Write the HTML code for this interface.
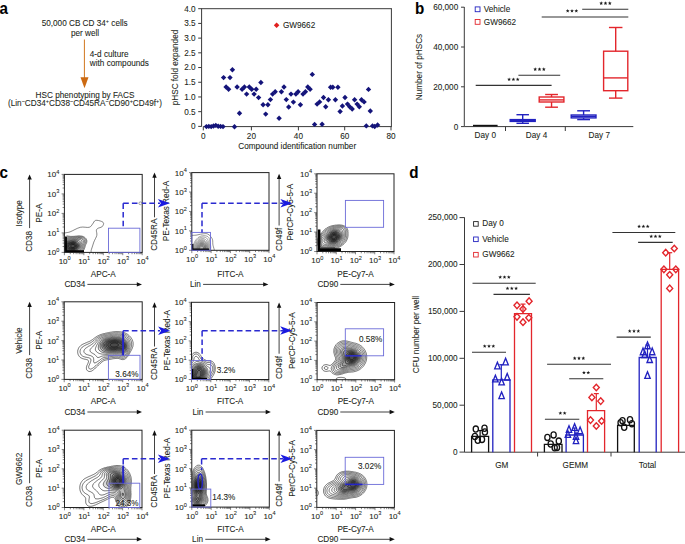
<!DOCTYPE html>
<html><head><meta charset="utf-8"><style>
html,body{margin:0;padding:0;background:#fff;}
svg{display:block;font-family:"Liberation Sans", sans-serif;}
text{stroke:#231f20;stroke-width:0.08px;}
</style></head><body>
<svg width="685" height="544" viewBox="0 0 685 544">
<rect width="685" height="544" fill="#fff"/>
<text transform="translate(-0.6,13.6) scale(0.92,1)" font-size="16.5" font-weight="bold" fill="#000">a</text>
<text x="84.7" y="25.9" font-size="8.2" text-anchor="middle" fill="#231f20" font-weight="normal" >50,000 CB CD 34<tspan font-size="5.5" dy="-3">+</tspan><tspan dy="3"> cells</tspan></text>
<text x="85" y="35.6" font-size="8.2" text-anchor="middle" fill="#231f20" font-weight="normal" >per well</text>
<line x1="84.4" y1="39.5" x2="84.4" y2="78" stroke="#d2771f" stroke-width="1" />
<path d="M80.5 77.2L88.5 77.2L84.5 88.2Z" fill="#cc6a12"/>
<text x="89.8" y="56.8" font-size="8.2" text-anchor="start" fill="#231f20" font-weight="normal" >4-d culture</text>
<text x="89.8" y="66.0" font-size="8.2" text-anchor="start" fill="#231f20" font-weight="normal" >with compounds</text>
<text x="85" y="97.6" font-size="8.2" text-anchor="middle" fill="#231f20" font-weight="normal" >HSC phenotyping by FACS</text>
<text x="85" y="105.8" font-size="8.2" text-anchor="middle" fill="#231f20" font-weight="normal" >(Lin<tspan font-size="5.5" dy="-3">−</tspan><tspan dy="3">CD34</tspan><tspan font-size="5.5" dy="-3">+</tspan><tspan dy="3">CD38</tspan><tspan font-size="5.5" dy="-3">−</tspan><tspan dy="3">CD45RA</tspan><tspan font-size="5.5" dy="-3">−</tspan><tspan dy="3">CD90</tspan><tspan font-size="5.5" dy="-3">+</tspan><tspan dy="3">CD49f</tspan><tspan font-size="5.5" dy="-3">+</tspan><tspan dy="3">)</tspan></text>
<line x1="201.6" y1="8.7" x2="201.6" y2="126.6" stroke="#3a3a3a" stroke-width="1" />
<line x1="201.1" y1="8.7" x2="391.4" y2="8.7" stroke="#3a3a3a" stroke-width="1" />
<line x1="391.4" y1="8.2" x2="391.4" y2="126.6" stroke="#3a3a3a" stroke-width="1" />
<line x1="203.3" y1="126.6" x2="391.9" y2="126.6" stroke="#3a3a3a" stroke-width="1" />
<line x1="198.2" y1="8.7" x2="201.6" y2="8.7" stroke="#3a3a3a" stroke-width="1" />
<text x="195.6" y="11.6" font-size="8.2" text-anchor="end" fill="#231f20" font-weight="normal" >4.0</text>
<line x1="198.2" y1="23.41" x2="201.6" y2="23.41" stroke="#3a3a3a" stroke-width="1" />
<text x="195.6" y="26.31" font-size="8.2" text-anchor="end" fill="#231f20" font-weight="normal" >3.5</text>
<line x1="198.2" y1="38.120000000000005" x2="201.6" y2="38.120000000000005" stroke="#3a3a3a" stroke-width="1" />
<text x="195.6" y="41.02" font-size="8.2" text-anchor="end" fill="#231f20" font-weight="normal" >3.0</text>
<line x1="198.2" y1="52.83" x2="201.6" y2="52.83" stroke="#3a3a3a" stroke-width="1" />
<text x="195.6" y="55.73" font-size="8.2" text-anchor="end" fill="#231f20" font-weight="normal" >2.5</text>
<line x1="198.2" y1="67.54" x2="201.6" y2="67.54" stroke="#3a3a3a" stroke-width="1" />
<text x="195.6" y="70.44000000000001" font-size="8.2" text-anchor="end" fill="#231f20" font-weight="normal" >2.0</text>
<line x1="198.2" y1="82.25000000000001" x2="201.6" y2="82.25000000000001" stroke="#3a3a3a" stroke-width="1" />
<text x="195.6" y="85.15000000000002" font-size="8.2" text-anchor="end" fill="#231f20" font-weight="normal" >1.5</text>
<line x1="198.2" y1="96.96000000000001" x2="201.6" y2="96.96000000000001" stroke="#3a3a3a" stroke-width="1" />
<text x="195.6" y="99.86000000000001" font-size="8.2" text-anchor="end" fill="#231f20" font-weight="normal" >1.0</text>
<line x1="198.2" y1="111.67" x2="201.6" y2="111.67" stroke="#3a3a3a" stroke-width="1" />
<text x="195.6" y="114.57000000000001" font-size="8.2" text-anchor="end" fill="#231f20" font-weight="normal" >0.5</text>
<line x1="198.2" y1="126.38000000000001" x2="201.6" y2="126.38000000000001" stroke="#3a3a3a" stroke-width="1" />
<text x="195.6" y="129.28" font-size="8.2" text-anchor="end" fill="#231f20" font-weight="normal" >0</text>
<line x1="203.3" y1="126.6" x2="203.3" y2="130.4" stroke="#3a3a3a" stroke-width="1" />
<text x="203.3" y="139.2" font-size="8.2" text-anchor="middle" fill="#231f20" font-weight="normal" >0</text>
<line x1="251.4" y1="126.6" x2="251.4" y2="130.4" stroke="#3a3a3a" stroke-width="1" />
<text x="251.4" y="139.2" font-size="8.2" text-anchor="middle" fill="#231f20" font-weight="normal" >20</text>
<line x1="298.4" y1="126.6" x2="298.4" y2="130.4" stroke="#3a3a3a" stroke-width="1" />
<text x="298.4" y="139.2" font-size="8.2" text-anchor="middle" fill="#231f20" font-weight="normal" >40</text>
<line x1="344.7" y1="126.6" x2="344.7" y2="130.4" stroke="#3a3a3a" stroke-width="1" />
<text x="344.7" y="139.2" font-size="8.2" text-anchor="middle" fill="#231f20" font-weight="normal" >60</text>
<line x1="391.0" y1="126.6" x2="391.0" y2="130.4" stroke="#3a3a3a" stroke-width="1" />
<text x="391.0" y="139.2" font-size="8.2" text-anchor="middle" fill="#231f20" font-weight="normal" >80</text>
<text x="297.2" y="148.8" font-size="8.2" text-anchor="middle" fill="#231f20" font-weight="normal" >Compound identification number</text>
<text transform="translate(175.0,67.5) rotate(-90)" x="0" y="2.87" font-size="8.2" text-anchor="middle" fill="#231f20">pHSC fold expanded</text>
<path d="M273.80 25.20L276.60 22.40L279.40 25.20L276.60 28.00Z" fill="#e0201e" stroke="none" stroke-width="0"/>
<text x="282.9" y="28.0" font-size="8.2" text-anchor="start" fill="#231f20" font-weight="normal" >GW9662</text>
<path d="M220.90 77.60L223.60 74.90L226.30 77.60L223.60 80.30Z" fill="#14147a" stroke="none" stroke-width="0"/>
<path d="M227.30 77.60L230.00 74.90L232.70 77.60L230.00 80.30Z" fill="#14147a" stroke="none" stroke-width="0"/>
<path d="M229.70 69.70L232.40 67.00L235.10 69.70L232.40 72.40Z" fill="#14147a" stroke="none" stroke-width="0"/>
<path d="M223.40 87.00L226.10 84.30L228.80 87.00L226.10 89.70Z" fill="#14147a" stroke="none" stroke-width="0"/>
<path d="M225.90 89.30L228.60 86.60L231.30 89.30L228.60 92.00Z" fill="#14147a" stroke="none" stroke-width="0"/>
<path d="M234.40 87.00L237.10 84.30L239.80 87.00L237.10 89.70Z" fill="#14147a" stroke="none" stroke-width="0"/>
<path d="M236.80 113.20L239.50 110.50L242.20 113.20L239.50 115.90Z" fill="#14147a" stroke="none" stroke-width="0"/>
<path d="M231.80 126.70L234.50 124.00L237.20 126.70L234.50 129.40Z" fill="#14147a" stroke="none" stroke-width="0"/>
<path d="M239.40 89.30L242.10 86.60L244.80 89.30L242.10 92.00Z" fill="#14147a" stroke="none" stroke-width="0"/>
<path d="M241.70 87.00L244.40 84.30L247.10 87.00L244.40 89.70Z" fill="#14147a" stroke="none" stroke-width="0"/>
<path d="M243.90 94.10L246.60 91.40L249.30 94.10L246.60 96.80Z" fill="#14147a" stroke="none" stroke-width="0"/>
<path d="M246.60 87.00L249.30 84.30L252.00 87.00L249.30 89.70Z" fill="#14147a" stroke="none" stroke-width="0"/>
<path d="M249.00 89.30L251.70 86.60L254.40 89.30L251.70 92.00Z" fill="#14147a" stroke="none" stroke-width="0"/>
<path d="M251.40 94.10L254.10 91.40L256.80 94.10L254.10 96.80Z" fill="#14147a" stroke="none" stroke-width="0"/>
<path d="M253.50 89.30L256.20 86.60L258.90 89.30L256.20 92.00Z" fill="#14147a" stroke="none" stroke-width="0"/>
<path d="M255.90 97.60L258.60 94.90L261.30 97.60L258.60 100.30Z" fill="#14147a" stroke="none" stroke-width="0"/>
<path d="M258.20 82.50L260.90 79.80L263.60 82.50L260.90 85.20Z" fill="#14147a" stroke="none" stroke-width="0"/>
<path d="M260.40 104.70L263.10 102.00L265.80 104.70L263.10 107.40Z" fill="#14147a" stroke="none" stroke-width="0"/>
<path d="M265.20 104.70L267.90 102.00L270.60 104.70L267.90 107.40Z" fill="#14147a" stroke="none" stroke-width="0"/>
<path d="M263.00 114.10L265.70 111.40L268.40 114.10L265.70 116.80Z" fill="#14147a" stroke="none" stroke-width="0"/>
<path d="M267.70 99.60L270.40 96.90L273.10 99.60L270.40 102.30Z" fill="#14147a" stroke="none" stroke-width="0"/>
<path d="M269.90 94.10L272.60 91.40L275.30 94.10L272.60 96.80Z" fill="#14147a" stroke="none" stroke-width="0"/>
<path d="M272.50 91.80L275.20 89.10L277.90 91.80L275.20 94.50Z" fill="#14147a" stroke="none" stroke-width="0"/>
<path d="M276.40 118.20L279.10 115.50L281.80 118.20L279.10 120.90Z" fill="#14147a" stroke="none" stroke-width="0"/>
<path d="M278.70 91.80L281.40 89.10L284.10 91.80L281.40 94.50Z" fill="#14147a" stroke="none" stroke-width="0"/>
<path d="M281.30 87.00L284.00 84.30L286.70 87.00L284.00 89.70Z" fill="#14147a" stroke="none" stroke-width="0"/>
<path d="M283.60 99.60L286.30 96.90L289.00 99.60L286.30 102.30Z" fill="#14147a" stroke="none" stroke-width="0"/>
<path d="M286.00 107.00L288.70 104.30L291.40 107.00L288.70 109.70Z" fill="#14147a" stroke="none" stroke-width="0"/>
<path d="M288.30 94.10L291.00 91.40L293.70 94.10L291.00 96.80Z" fill="#14147a" stroke="none" stroke-width="0"/>
<path d="M290.70 102.10L293.40 99.40L296.10 102.10L293.40 104.80Z" fill="#14147a" stroke="none" stroke-width="0"/>
<path d="M293.20 94.10L295.90 91.40L298.60 94.10L295.90 96.80Z" fill="#14147a" stroke="none" stroke-width="0"/>
<path d="M295.40 91.80L298.10 89.10L300.80 91.80L298.10 94.50Z" fill="#14147a" stroke="none" stroke-width="0"/>
<path d="M297.70 104.70L300.40 102.00L303.10 104.70L300.40 107.40Z" fill="#14147a" stroke="none" stroke-width="0"/>
<path d="M300.30 94.10L303.00 91.40L305.70 94.10L303.00 96.80Z" fill="#14147a" stroke="none" stroke-width="0"/>
<path d="M302.70 91.80L305.40 89.10L308.10 91.80L305.40 94.50Z" fill="#14147a" stroke="none" stroke-width="0"/>
<path d="M305.10 87.00L307.80 84.30L310.50 87.00L307.80 89.70Z" fill="#14147a" stroke="none" stroke-width="0"/>
<path d="M307.40 89.30L310.10 86.60L312.80 89.30L310.10 92.00Z" fill="#14147a" stroke="none" stroke-width="0"/>
<path d="M309.60 74.40L312.30 71.70L315.00 74.40L312.30 77.10Z" fill="#14147a" stroke="none" stroke-width="0"/>
<path d="M311.90 124.40L314.60 121.70L317.30 124.40L314.60 127.10Z" fill="#14147a" stroke="none" stroke-width="0"/>
<path d="M314.40 104.10L317.10 101.40L319.80 104.10L317.10 106.80Z" fill="#14147a" stroke="none" stroke-width="0"/>
<path d="M316.90 101.90L319.60 99.20L322.30 101.90L319.60 104.60Z" fill="#14147a" stroke="none" stroke-width="0"/>
<path d="M319.40 124.30L322.10 121.60L324.80 124.30L322.10 127.00Z" fill="#14147a" stroke="none" stroke-width="0"/>
<path d="M320.80 97.50L323.50 94.80L326.20 97.50L323.50 100.20Z" fill="#14147a" stroke="none" stroke-width="0"/>
<path d="M323.00 106.80L325.70 104.10L328.40 106.80L325.70 109.50Z" fill="#14147a" stroke="none" stroke-width="0"/>
<path d="M325.70 99.70L328.40 97.00L331.10 99.70L328.40 102.40Z" fill="#14147a" stroke="none" stroke-width="0"/>
<path d="M327.90 87.20L330.60 84.50L333.30 87.20L330.60 89.90Z" fill="#14147a" stroke="none" stroke-width="0"/>
<path d="M330.10 87.20L332.80 84.50L335.50 87.20L332.80 89.90Z" fill="#14147a" stroke="none" stroke-width="0"/>
<path d="M332.70 99.70L335.40 97.00L338.10 99.70L335.40 102.40Z" fill="#14147a" stroke="none" stroke-width="0"/>
<path d="M335.20 87.20L337.90 84.50L340.60 87.20L337.90 89.90Z" fill="#14147a" stroke="none" stroke-width="0"/>
<path d="M337.40 111.50L340.10 108.80L342.80 111.50L340.10 114.20Z" fill="#14147a" stroke="none" stroke-width="0"/>
<path d="M339.70 106.00L342.40 103.30L345.10 106.00L342.40 108.70Z" fill="#14147a" stroke="none" stroke-width="0"/>
<path d="M342.30 97.50L345.00 94.80L347.70 97.50L345.00 100.20Z" fill="#14147a" stroke="none" stroke-width="0"/>
<path d="M344.80 104.10L347.50 101.40L350.20 104.10L347.50 106.80Z" fill="#14147a" stroke="none" stroke-width="0"/>
<path d="M347.00 106.80L349.70 104.10L352.40 106.80L349.70 109.50Z" fill="#14147a" stroke="none" stroke-width="0"/>
<path d="M349.50 109.00L352.20 106.30L354.90 109.00L352.20 111.70Z" fill="#14147a" stroke="none" stroke-width="0"/>
<path d="M351.90 99.70L354.60 97.00L357.30 99.70L354.60 102.40Z" fill="#14147a" stroke="none" stroke-width="0"/>
<path d="M354.40 104.10L357.10 101.40L359.80 104.10L357.10 106.80Z" fill="#14147a" stroke="none" stroke-width="0"/>
<path d="M356.60 106.80L359.30 104.10L362.00 106.80L359.30 109.50Z" fill="#14147a" stroke="none" stroke-width="0"/>
<path d="M358.80 99.70L361.50 97.00L364.20 99.70L361.50 102.40Z" fill="#14147a" stroke="none" stroke-width="0"/>
<path d="M361.40 101.90L364.10 99.20L366.80 101.90L364.10 104.60Z" fill="#14147a" stroke="none" stroke-width="0"/>
<path d="M363.60 125.90L366.30 123.20L369.00 125.90L366.30 128.60Z" fill="#14147a" stroke="none" stroke-width="0"/>
<path d="M365.80 89.40L368.50 86.70L371.20 89.40L368.50 92.10Z" fill="#14147a" stroke="none" stroke-width="0"/>
<path d="M367.60 111.00L370.30 108.30L373.00 111.00L370.30 113.70Z" fill="#14147a" stroke="none" stroke-width="0"/>
<path d="M369.80 125.90L372.50 123.20L375.20 125.90L372.50 128.60Z" fill="#14147a" stroke="none" stroke-width="0"/>
<path d="M372.00 126.50L374.70 123.80L377.40 126.50L374.70 129.20Z" fill="#14147a" stroke="none" stroke-width="0"/>
<path d="M374.90 125.00L377.60 122.30L380.30 125.00L377.60 127.70Z" fill="#14147a" stroke="none" stroke-width="0"/>
<path d="M203.70 126.60L206.40 123.90L209.10 126.60L206.40 129.30Z" fill="#14147a" stroke="none" stroke-width="0"/>
<path d="M206.10 126.40L208.80 123.70L211.50 126.40L208.80 129.10Z" fill="#14147a" stroke="none" stroke-width="0"/>
<path d="M208.50 126.60L211.20 123.90L213.90 126.60L211.20 129.30Z" fill="#14147a" stroke="none" stroke-width="0"/>
<path d="M210.80 126.00L213.50 123.30L216.20 126.00L213.50 128.70Z" fill="#14147a" stroke="none" stroke-width="0"/>
<path d="M213.10 125.40L215.80 122.70L218.50 125.40L215.80 128.10Z" fill="#14147a" stroke="none" stroke-width="0"/>
<path d="M215.50 126.20L218.20 123.50L220.90 126.20L218.20 128.90Z" fill="#14147a" stroke="none" stroke-width="0"/>
<path d="M217.90 126.40L220.60 123.70L223.30 126.40L220.60 129.10Z" fill="#14147a" stroke="none" stroke-width="0"/>
<path d="M220.30 126.60L223.00 123.90L225.70 126.60L223.00 129.30Z" fill="#14147a" stroke="none" stroke-width="0"/>
<text transform="translate(415.0,13.6) scale(0.92,1)" font-size="16.5" font-weight="bold" fill="#000">b</text>
<line x1="464.3" y1="7.0" x2="464.3" y2="126.6" stroke="#3a3a3a" stroke-width="1" />
<line x1="464.3" y1="126.6" x2="633.3" y2="126.6" stroke="#3a3a3a" stroke-width="1" />
<line x1="461" y1="7.2" x2="464.3" y2="7.2" stroke="#3a3a3a" stroke-width="1" />
<text x="458.2" y="10.1" font-size="8.2" text-anchor="end" fill="#231f20" font-weight="normal" >60,000</text>
<line x1="461" y1="47.0" x2="464.3" y2="47.0" stroke="#3a3a3a" stroke-width="1" />
<text x="458.2" y="49.9" font-size="8.2" text-anchor="end" fill="#231f20" font-weight="normal" >40,000</text>
<line x1="461" y1="86.8" x2="464.3" y2="86.8" stroke="#3a3a3a" stroke-width="1" />
<text x="458.2" y="89.7" font-size="8.2" text-anchor="end" fill="#231f20" font-weight="normal" >20,000</text>
<line x1="461" y1="126.6" x2="464.3" y2="126.6" stroke="#3a3a3a" stroke-width="1" />
<text x="458.2" y="129.5" font-size="8.2" text-anchor="end" fill="#231f20" font-weight="normal" >0</text>
<line x1="505.5" y1="126.6" x2="505.5" y2="131" stroke="#3a3a3a" stroke-width="1" />
<line x1="565.3" y1="126.6" x2="565.3" y2="131" stroke="#3a3a3a" stroke-width="1" />
<text x="485.3" y="137.6" font-size="8.2" text-anchor="middle" fill="#231f20" font-weight="normal" >Day 0</text>
<text x="536.5" y="137.6" font-size="8.2" text-anchor="middle" fill="#231f20" font-weight="normal" >Day 4</text>
<text x="599.3" y="137.6" font-size="8.2" text-anchor="middle" fill="#231f20" font-weight="normal" >Day 7</text>
<text transform="translate(419.6,67) rotate(-90)" x="0" y="2.87" font-size="8.2" text-anchor="middle" fill="#231f20">Number of pHSCs</text>
<rect x="475.2" y="6.9" width="4.8" height="4.8" fill="none" stroke="#2222c0" stroke-width="0.9"/>
<text x="483.8" y="12.2" font-size="8.2" text-anchor="start" fill="#231f20" font-weight="normal" >Vehicle</text>
<rect x="475.2" y="19.5" width="4.8" height="4.8" fill="none" stroke="#e3262c" stroke-width="0.9"/>
<text x="483.8" y="24.9" font-size="8.2" text-anchor="start" fill="#231f20" font-weight="normal" >GW9662</text>
<line x1="473" y1="125.6" x2="497.6" y2="125.6" stroke="#111" stroke-width="1.6" />
<g stroke="#2222c0" stroke-width="1.4" fill="none">
<line x1="516.45" y1="114.7" x2="528.95" y2="114.7"/>
<line x1="522.7" y1="114.7" x2="522.7" y2="119.6"/>
<rect x="510.2" y="119.6" width="25.000000000000057" height="1.8000000000000114"/>
<line x1="510.2" y1="120.4" x2="535.2" y2="120.4"/>
<line x1="522.7" y1="121.4" x2="522.7" y2="123.3"/>
<line x1="516.45" y1="123.3" x2="528.95" y2="123.3"/>
</g>
<g stroke="#e3262c" stroke-width="1.4" fill="none">
<line x1="545.15" y1="94.5" x2="557.9499999999999" y2="94.5"/>
<line x1="551.55" y1="94.5" x2="551.55" y2="97.0"/>
<rect x="539.2" y="97.0" width="24.699999999999932" height="5.0"/>
<line x1="539.2" y1="99.9" x2="563.9" y2="99.9"/>
<line x1="551.55" y1="102.0" x2="551.55" y2="107.2"/>
<line x1="545.15" y1="107.2" x2="557.9499999999999" y2="107.2"/>
</g>
<g stroke="#2222c0" stroke-width="1.4" fill="none">
<line x1="577.2" y1="110.8" x2="590.0" y2="110.8"/>
<line x1="583.6" y1="110.8" x2="583.6" y2="115.0"/>
<rect x="571.2" y="115.0" width="24.799999999999955" height="2.9000000000000057"/>
<line x1="571.2" y1="116.4" x2="596.0" y2="116.4"/>
<line x1="583.6" y1="117.9" x2="583.6" y2="119.6"/>
<line x1="577.2" y1="119.6" x2="590.0" y2="119.6"/>
</g>
<g stroke="#e3262c" stroke-width="1.4" fill="none">
<line x1="608.95" y1="27.5" x2="622.45" y2="27.5"/>
<line x1="615.7" y1="27.5" x2="615.7" y2="51.2"/>
<rect x="603.6" y="51.2" width="24.199999999999932" height="39.5"/>
<line x1="603.6" y1="77.9" x2="627.8" y2="77.9"/>
<line x1="615.7" y1="90.7" x2="615.7" y2="98.1"/>
<line x1="608.95" y1="98.1" x2="622.45" y2="98.1"/>
</g>
<line x1="475.7" y1="85.4" x2="551.6" y2="85.4" stroke="#333" stroke-width="1.1" />
<path d="M509.10 77.40L509.60 78.71L511.00 78.78L509.91 79.66L510.28 81.02L509.10 80.25L507.92 81.02L508.29 79.66L507.20 78.78L508.60 78.71Z" fill="#1a1a1a"/>
<path d="M513.40 77.40L513.90 78.71L515.30 78.78L514.21 79.66L514.58 81.02L513.40 80.25L512.22 81.02L512.59 79.66L511.50 78.78L512.90 78.71Z" fill="#1a1a1a"/>
<path d="M517.70 77.40L518.20 78.71L519.60 78.78L518.51 79.66L518.88 81.02L517.70 80.25L516.52 81.02L516.89 79.66L515.80 78.78L517.20 78.71Z" fill="#1a1a1a"/>
<line x1="518.4" y1="75.3" x2="560.2" y2="75.3" stroke="#333" stroke-width="1.1" />
<path d="M535.20 67.30L535.70 68.61L537.10 68.68L536.01 69.56L536.38 70.92L535.20 70.15L534.02 70.92L534.39 69.56L533.30 68.68L534.70 68.61Z" fill="#1a1a1a"/>
<path d="M539.50 67.30L540.00 68.61L541.40 68.68L540.31 69.56L540.68 70.92L539.50 70.15L538.32 70.92L538.69 69.56L537.60 68.68L539.00 68.61Z" fill="#1a1a1a"/>
<path d="M543.80 67.30L544.30 68.61L545.70 68.68L544.61 69.56L544.98 70.92L543.80 70.15L542.62 70.92L542.99 69.56L541.90 68.68L543.30 68.61Z" fill="#1a1a1a"/>
<line x1="541.7" y1="17.0" x2="628.3" y2="17.0" stroke="#333" stroke-width="1.1" />
<path d="M567.70 9.00L568.20 10.31L569.60 10.38L568.51 11.26L568.88 12.62L567.70 11.85L566.52 12.62L566.89 11.26L565.80 10.38L567.20 10.31Z" fill="#1a1a1a"/>
<path d="M572.00 9.00L572.50 10.31L573.90 10.38L572.81 11.26L573.18 12.62L572.00 11.85L570.82 12.62L571.19 11.26L570.10 10.38L571.50 10.31Z" fill="#1a1a1a"/>
<path d="M576.30 9.00L576.80 10.31L578.20 10.38L577.11 11.26L577.48 12.62L576.30 11.85L575.12 12.62L575.49 11.26L574.40 10.38L575.80 10.31Z" fill="#1a1a1a"/>
<line x1="582.2" y1="9.3" x2="628.3" y2="9.3" stroke="#333" stroke-width="1.1" />
<path d="M601.20 1.30L601.70 2.61L603.10 2.68L602.01 3.56L602.38 4.92L601.20 4.15L600.02 4.92L600.39 3.56L599.30 2.68L600.70 2.61Z" fill="#1a1a1a"/>
<path d="M605.50 1.30L606.00 2.61L607.40 2.68L606.31 3.56L606.68 4.92L605.50 4.15L604.32 4.92L604.69 3.56L603.60 2.68L605.00 2.61Z" fill="#1a1a1a"/>
<path d="M609.80 1.30L610.30 2.61L611.70 2.68L610.61 3.56L610.98 4.92L609.80 4.15L608.62 4.92L608.99 3.56L607.90 2.68L609.30 2.61Z" fill="#1a1a1a"/>
<text transform="translate(409.2,177.7) scale(0.92,1)" font-size="16.5" font-weight="bold" fill="#000">d</text>
<line x1="464.5" y1="217.4" x2="464.5" y2="452.2" stroke="#3a3a3a" stroke-width="1" />
<line x1="464.5" y1="452.2" x2="685" y2="452.2" stroke="#3a3a3a" stroke-width="1" />
<line x1="459.5" y1="217.6" x2="464.5" y2="217.6" stroke="#3a3a3a" stroke-width="1" />
<text x="457.6" y="220.29999999999998" font-size="8.2" text-anchor="end" fill="#231f20" font-weight="normal" >250,000</text>
<line x1="459.5" y1="264.5" x2="464.5" y2="264.5" stroke="#3a3a3a" stroke-width="1" />
<text x="457.6" y="267.2" font-size="8.2" text-anchor="end" fill="#231f20" font-weight="normal" >200,000</text>
<line x1="459.5" y1="311.4" x2="464.5" y2="311.4" stroke="#3a3a3a" stroke-width="1" />
<text x="457.6" y="314.09999999999997" font-size="8.2" text-anchor="end" fill="#231f20" font-weight="normal" >150,000</text>
<line x1="459.5" y1="358.29999999999995" x2="464.5" y2="358.29999999999995" stroke="#3a3a3a" stroke-width="1" />
<text x="457.6" y="360.99999999999994" font-size="8.2" text-anchor="end" fill="#231f20" font-weight="normal" >100,000</text>
<line x1="459.5" y1="405.2" x2="464.5" y2="405.2" stroke="#3a3a3a" stroke-width="1" />
<text x="457.6" y="407.9" font-size="8.2" text-anchor="end" fill="#231f20" font-weight="normal" >50,000</text>
<line x1="459.5" y1="452.1" x2="464.5" y2="452.1" stroke="#3a3a3a" stroke-width="1" />
<text x="457.6" y="454.8" font-size="8.2" text-anchor="end" fill="#231f20" font-weight="normal" >0</text>
<line x1="537.6" y1="452.2" x2="537.6" y2="456.5" stroke="#3a3a3a" stroke-width="1" />
<line x1="611.0" y1="452.2" x2="611.0" y2="456.5" stroke="#3a3a3a" stroke-width="1" />
<text x="501.8" y="468.0" font-size="8.2" text-anchor="middle" fill="#231f20" font-weight="normal" >GM</text>
<text x="575.3" y="468.0" font-size="8.2" text-anchor="middle" fill="#231f20" font-weight="normal" >GEMM</text>
<text x="647.4" y="468.0" font-size="8.2" text-anchor="middle" fill="#231f20" font-weight="normal" >Total</text>
<text transform="translate(416.2,334.6) rotate(-90)" x="0" y="2.87" font-size="8.2" text-anchor="middle" fill="#231f20">CFU number per well</text>
<rect x="473.6" y="221.6" width="4.6" height="4.6" fill="none" stroke="#222" stroke-width="0.9"/>
<text x="482.3" y="226.29999999999998" font-size="8.2" text-anchor="start" fill="#231f20" font-weight="normal" >Day 0</text>
<rect x="473.6" y="237.0" width="4.6" height="4.6" fill="none" stroke="#2222c0" stroke-width="0.9"/>
<text x="482.3" y="241.7" font-size="8.2" text-anchor="start" fill="#231f20" font-weight="normal" >Vehicle</text>
<rect x="473.6" y="252.4" width="4.6" height="4.6" fill="none" stroke="#e3262c" stroke-width="0.9"/>
<text x="482.3" y="257.1" font-size="8.2" text-anchor="start" fill="#231f20" font-weight="normal" >GW9662</text>
<path d="M471.6 452.2V436.3H488.6V452.2" fill="none" stroke="#111" stroke-width="1.3"/>
<line x1="480.1" y1="430.5" x2="480.1" y2="440" stroke="#111" stroke-width="1.2" />
<line x1="478.1" y1="430.5" x2="482.1" y2="430.5" stroke="#111" stroke-width="1.2" />
<ellipse cx="475.8" cy="429.1" rx="2.6" ry="3.12" fill="none" stroke="#111" stroke-width="1.3"/>
<ellipse cx="484.5" cy="428.2" rx="2.6" ry="3.12" fill="none" stroke="#111" stroke-width="1.3"/>
<ellipse cx="474.9" cy="436.5" rx="2.6" ry="3.12" fill="none" stroke="#111" stroke-width="1.3"/>
<ellipse cx="484.9" cy="432.0" rx="2.6" ry="3.12" fill="none" stroke="#111" stroke-width="1.3"/>
<ellipse cx="477.8" cy="440.2" rx="2.6" ry="3.12" fill="none" stroke="#111" stroke-width="1.3"/>
<ellipse cx="482.0" cy="439.4" rx="2.6" ry="3.12" fill="none" stroke="#111" stroke-width="1.3"/>
<path d="M492.8 452.2V379.8H510.0V452.2" fill="none" stroke="#2222c0" stroke-width="1.3"/>
<line x1="501.3" y1="364.7" x2="501.3" y2="379.8" stroke="#2222c0" stroke-width="1.2" />
<line x1="499.3" y1="364.7" x2="503.3" y2="364.7" stroke="#2222c0" stroke-width="1.2" />
<path d="M505.6 358.2L508.3 364.8L502.90000000000003 364.8Z" fill="none" stroke="#2222c0" stroke-width="1.35" stroke-linejoin="miter"/>
<path d="M497.4 362.2L500.09999999999997 368.8L494.7 368.8Z" fill="none" stroke="#2222c0" stroke-width="1.35" stroke-linejoin="miter"/>
<path d="M495.4 375.2L498.09999999999997 381.8L492.7 381.8Z" fill="none" stroke="#2222c0" stroke-width="1.35" stroke-linejoin="miter"/>
<path d="M507.2 373.5L509.9 380.1L504.5 380.1Z" fill="none" stroke="#2222c0" stroke-width="1.35" stroke-linejoin="miter"/>
<path d="M501.6 378.3L504.3 384.90000000000003L498.90000000000003 384.90000000000003Z" fill="none" stroke="#2222c0" stroke-width="1.35" stroke-linejoin="miter"/>
<path d="M501.6 392.0L504.3 398.6L498.90000000000003 398.6Z" fill="none" stroke="#2222c0" stroke-width="1.35" stroke-linejoin="miter"/>
<path d="M514.5 452.2V313.7H531.5V452.2" fill="none" stroke="#e3262c" stroke-width="1.3"/>
<line x1="523.0" y1="304.1" x2="523.0" y2="313.7" stroke="#e3262c" stroke-width="1.2" />
<line x1="520.5" y1="304.1" x2="525.5" y2="304.1" stroke="#e3262c" stroke-width="1.2" />
<path d="M514.0 305.3L517.0 302.0L520.0 305.3L517.0 308.6Z" fill="none" stroke="#e3262c" stroke-width="1.4"/>
<path d="M526.1 301.2L529.1 297.9L532.1 301.2L529.1 304.5Z" fill="none" stroke="#e3262c" stroke-width="1.4"/>
<path d="M520.0 309.0L523.0 305.7L526.0 309.0L523.0 312.3Z" fill="none" stroke="#e3262c" stroke-width="1.4"/>
<path d="M514.0 316.8L517.0 313.5L520.0 316.8L517.0 320.1Z" fill="none" stroke="#e3262c" stroke-width="1.4"/>
<path d="M525.8 317.8L528.8 314.5L531.8 317.8L528.8 321.1Z" fill="none" stroke="#e3262c" stroke-width="1.4"/>
<path d="M520.0 322.2L523.0 318.9L526.0 322.2L523.0 325.5Z" fill="none" stroke="#e3262c" stroke-width="1.4"/>
<path d="M544.4 452.2V444.4H562.0V452.2" fill="none" stroke="#111" stroke-width="1.3"/>
<ellipse cx="547.4" cy="437.4" rx="2.6" ry="3.12" fill="none" stroke="#111" stroke-width="1.3"/>
<ellipse cx="553.6" cy="434.9" rx="2.6" ry="3.12" fill="none" stroke="#111" stroke-width="1.3"/>
<ellipse cx="558.8" cy="441.1" rx="2.6" ry="3.12" fill="none" stroke="#111" stroke-width="1.3"/>
<ellipse cx="550.7" cy="444.0" rx="2.6" ry="3.12" fill="none" stroke="#111" stroke-width="1.3"/>
<ellipse cx="554.7" cy="447.7" rx="2.6" ry="3.12" fill="none" stroke="#111" stroke-width="1.3"/>
<ellipse cx="557.0" cy="447.4" rx="2.6" ry="3.12" fill="none" stroke="#111" stroke-width="1.3"/>
<path d="M566.1 452.2V435.0H583.4V452.2" fill="none" stroke="#2222c0" stroke-width="1.3"/>
<line x1="574.7" y1="428.0" x2="574.7" y2="435.0" stroke="#2222c0" stroke-width="1.2" />
<line x1="572.7" y1="428.0" x2="576.7" y2="428.0" stroke="#2222c0" stroke-width="1.2" />
<path d="M569.0 425.7L571.7 432.3L566.3 432.3Z" fill="none" stroke="#2222c0" stroke-width="1.35" stroke-linejoin="miter"/>
<path d="M574.6 423.7L577.3000000000001 430.3L571.9 430.3Z" fill="none" stroke="#2222c0" stroke-width="1.35" stroke-linejoin="miter"/>
<path d="M580.1 427.09999999999997L582.8000000000001 433.7L577.4 433.7Z" fill="none" stroke="#2222c0" stroke-width="1.35" stroke-linejoin="miter"/>
<path d="M567.9 430.8L570.6 437.40000000000003L565.1999999999999 437.40000000000003Z" fill="none" stroke="#2222c0" stroke-width="1.35" stroke-linejoin="miter"/>
<path d="M576.0 432.59999999999997L578.7 439.2L573.3 439.2Z" fill="none" stroke="#2222c0" stroke-width="1.35" stroke-linejoin="miter"/>
<path d="M576.0 437.0L578.7 443.6L573.3 443.6Z" fill="none" stroke="#2222c0" stroke-width="1.35" stroke-linejoin="miter"/>
<path d="M587.5 452.2V410.6H604.6V452.2" fill="none" stroke="#e3262c" stroke-width="1.3"/>
<line x1="596.3" y1="393.6" x2="596.3" y2="410.6" stroke="#e3262c" stroke-width="1.2" />
<line x1="593.8" y1="393.6" x2="598.8" y2="393.6" stroke="#e3262c" stroke-width="1.2" />
<path d="M593.3 387.5L596.3 384.2L599.3 387.5L596.3 390.8Z" fill="none" stroke="#e3262c" stroke-width="1.4"/>
<path d="M588.9 397.4L591.9 394.09999999999997L594.9 397.4L591.9 400.7Z" fill="none" stroke="#e3262c" stroke-width="1.4"/>
<path d="M597.7 401.1L600.7 397.8L603.7 401.1L600.7 404.40000000000003Z" fill="none" stroke="#e3262c" stroke-width="1.4"/>
<path d="M587.5 420.1L590.5 416.8L593.5 420.1L590.5 423.40000000000003Z" fill="none" stroke="#e3262c" stroke-width="1.4"/>
<path d="M598.6 421.0L601.6 417.7L604.6 421.0L601.6 424.3Z" fill="none" stroke="#e3262c" stroke-width="1.4"/>
<path d="M593.3 426.0L596.3 422.7L599.3 426.0L596.3 429.3Z" fill="none" stroke="#e3262c" stroke-width="1.4"/>
<path d="M617.6 452.2V425.3H634.3V452.2" fill="none" stroke="#111" stroke-width="1.3"/>
<ellipse cx="620.6" cy="422.7" rx="2.6" ry="3.12" fill="none" stroke="#111" stroke-width="1.3"/>
<ellipse cx="630.0" cy="419.8" rx="2.6" ry="3.12" fill="none" stroke="#111" stroke-width="1.3"/>
<ellipse cx="624.2" cy="427.2" rx="2.6" ry="3.12" fill="none" stroke="#111" stroke-width="1.3"/>
<ellipse cx="631.9" cy="423.7" rx="2.6" ry="3.12" fill="none" stroke="#111" stroke-width="1.3"/>
<ellipse cx="622.5" cy="420.8" rx="2.6" ry="3.12" fill="none" stroke="#111" stroke-width="1.3"/>
<path d="M639.2 452.2V357.5H656.2V452.2" fill="none" stroke="#2222c0" stroke-width="1.3"/>
<line x1="647.5" y1="345.0" x2="647.5" y2="357.5" stroke="#2222c0" stroke-width="1.2" />
<line x1="645.5" y1="345.0" x2="649.5" y2="345.0" stroke="#2222c0" stroke-width="1.2" />
<path d="M647.5 342.09999999999997L650.2 348.7L644.8 348.7Z" fill="none" stroke="#2222c0" stroke-width="1.35" stroke-linejoin="miter"/>
<path d="M643.0 348.09999999999997L645.7 354.7L640.3 354.7Z" fill="none" stroke="#2222c0" stroke-width="1.35" stroke-linejoin="miter"/>
<path d="M652.2 348.09999999999997L654.9000000000001 354.7L649.5 354.7Z" fill="none" stroke="#2222c0" stroke-width="1.35" stroke-linejoin="miter"/>
<path d="M644.7 350.9L647.4000000000001 357.5L642.0 357.5Z" fill="none" stroke="#2222c0" stroke-width="1.35" stroke-linejoin="miter"/>
<path d="M649.7 355.9L652.4000000000001 362.5L647.0 362.5Z" fill="none" stroke="#2222c0" stroke-width="1.35" stroke-linejoin="miter"/>
<path d="M647.5 371.8L650.2 378.40000000000003L644.8 378.40000000000003Z" fill="none" stroke="#2222c0" stroke-width="1.35" stroke-linejoin="miter"/>
<path d="M661.2 452.2V269.3H678.6V452.2" fill="none" stroke="#e3262c" stroke-width="1.3"/>
<line x1="669.7" y1="252.7" x2="669.7" y2="269.3" stroke="#e3262c" stroke-width="1.2" />
<line x1="667.2" y1="252.7" x2="672.2" y2="252.7" stroke="#e3262c" stroke-width="1.2" />
<path d="M662.7 252.7L665.7 249.39999999999998L668.7 252.7L665.7 256.0Z" fill="none" stroke="#e3262c" stroke-width="1.4"/>
<path d="M671.3 248.5L674.3 245.2L677.3 248.5L674.3 251.8Z" fill="none" stroke="#e3262c" stroke-width="1.4"/>
<path d="M660.9 269.3L663.9 266.0L666.9 269.3L663.9 272.6Z" fill="none" stroke="#e3262c" stroke-width="1.4"/>
<path d="M672.8 269.3L675.8 266.0L678.8 269.3L675.8 272.6Z" fill="none" stroke="#e3262c" stroke-width="1.4"/>
<path d="M666.7 274.8L669.7 271.5L672.7 274.8L669.7 278.1Z" fill="none" stroke="#e3262c" stroke-width="1.4"/>
<path d="M666.7 288.4L669.7 285.09999999999997L672.7 288.4L669.7 291.7Z" fill="none" stroke="#e3262c" stroke-width="1.4"/>
<line x1="472.5" y1="283.2" x2="535.7" y2="283.2" stroke="#333" stroke-width="1.1" />
<path d="M500.20 275.20L500.70 276.51L502.10 276.58L501.01 277.46L501.38 278.82L500.20 278.05L499.02 278.82L499.39 277.46L498.30 276.58L499.70 276.51Z" fill="#1a1a1a"/>
<path d="M504.50 275.20L505.00 276.51L506.40 276.58L505.31 277.46L505.68 278.82L504.50 278.05L503.32 278.82L503.69 277.46L502.60 276.58L504.00 276.51Z" fill="#1a1a1a"/>
<path d="M508.80 275.20L509.30 276.51L510.70 276.58L509.61 277.46L509.98 278.82L508.80 278.05L507.62 278.82L507.99 277.46L506.90 276.58L508.30 276.51Z" fill="#1a1a1a"/>
<line x1="493.5" y1="294.4" x2="529.9" y2="294.4" stroke="#333" stroke-width="1.1" />
<path d="M507.50 286.40L508.00 287.71L509.40 287.78L508.31 288.66L508.68 290.02L507.50 289.25L506.32 290.02L506.69 288.66L505.60 287.78L507.00 287.71Z" fill="#1a1a1a"/>
<path d="M511.80 286.40L512.30 287.71L513.70 287.78L512.61 288.66L512.98 290.02L511.80 289.25L510.62 290.02L510.99 288.66L509.90 287.78L511.30 287.71Z" fill="#1a1a1a"/>
<path d="M516.10 286.40L516.60 287.71L518.00 287.78L516.91 288.66L517.28 290.02L516.10 289.25L514.92 290.02L515.29 288.66L514.20 287.78L515.60 287.71Z" fill="#1a1a1a"/>
<line x1="472.0" y1="352.2" x2="506.0" y2="352.2" stroke="#333" stroke-width="1.1" />
<path d="M484.70 344.20L485.20 345.51L486.60 345.58L485.51 346.46L485.88 347.82L484.70 347.05L483.52 347.82L483.89 346.46L482.80 345.58L484.20 345.51Z" fill="#1a1a1a"/>
<path d="M489.00 344.20L489.50 345.51L490.90 345.58L489.81 346.46L490.18 347.82L489.00 347.05L487.82 347.82L488.19 346.46L487.10 345.58L488.50 345.51Z" fill="#1a1a1a"/>
<path d="M493.30 344.20L493.80 345.51L495.20 345.58L494.11 346.46L494.48 347.82L493.30 347.05L492.12 347.82L492.49 346.46L491.40 345.58L492.80 345.51Z" fill="#1a1a1a"/>
<line x1="547.1" y1="364.3" x2="611.0" y2="364.3" stroke="#333" stroke-width="1.1" />
<path d="M574.70 356.30L575.20 357.61L576.60 357.68L575.51 358.56L575.88 359.92L574.70 359.15L573.52 359.92L573.89 358.56L572.80 357.68L574.20 357.61Z" fill="#1a1a1a"/>
<path d="M579.00 356.30L579.50 357.61L580.90 357.68L579.81 358.56L580.18 359.92L579.00 359.15L577.82 359.92L578.19 358.56L577.10 357.68L578.50 357.61Z" fill="#1a1a1a"/>
<path d="M583.30 356.30L583.80 357.61L585.20 357.68L584.11 358.56L584.48 359.92L583.30 359.15L582.12 359.92L582.49 358.56L581.40 357.68L582.80 357.61Z" fill="#1a1a1a"/>
<line x1="569.2" y1="378.7" x2="603.3" y2="378.7" stroke="#333" stroke-width="1.1" />
<path d="M583.95 370.70L584.45 372.01L585.85 372.08L584.76 372.96L585.13 374.32L583.95 373.55L582.77 374.32L583.14 372.96L582.05 372.08L583.45 372.01Z" fill="#1a1a1a"/>
<path d="M588.25 370.70L588.75 372.01L590.15 372.08L589.06 372.96L589.43 374.32L588.25 373.55L587.07 374.32L587.44 372.96L586.35 372.08L587.75 372.01Z" fill="#1a1a1a"/>
<line x1="544.9" y1="419.2" x2="579.3" y2="419.2" stroke="#333" stroke-width="1.1" />
<path d="M560.35 411.20L560.85 412.51L562.25 412.58L561.16 413.46L561.53 414.82L560.35 414.05L559.17 414.82L559.54 413.46L558.45 412.58L559.85 412.51Z" fill="#1a1a1a"/>
<path d="M564.65 411.20L565.15 412.51L566.55 412.58L565.46 413.46L565.83 414.82L564.65 414.05L563.47 414.82L563.84 413.46L562.75 412.58L564.15 412.51Z" fill="#1a1a1a"/>
<line x1="612.4" y1="232.5" x2="675.3" y2="232.5" stroke="#333" stroke-width="1.1" />
<path d="M639.10 224.50L639.60 225.81L641.00 225.88L639.91 226.76L640.28 228.12L639.10 227.35L637.92 228.12L638.29 226.76L637.20 225.88L638.60 225.81Z" fill="#1a1a1a"/>
<path d="M643.40 224.50L643.90 225.81L645.30 225.88L644.21 226.76L644.58 228.12L643.40 227.35L642.22 228.12L642.59 226.76L641.50 225.88L642.90 225.81Z" fill="#1a1a1a"/>
<path d="M647.70 224.50L648.20 225.81L649.60 225.88L648.51 226.76L648.88 228.12L647.70 227.35L646.52 228.12L646.89 226.76L645.80 225.88L647.20 225.81Z" fill="#1a1a1a"/>
<line x1="638.1" y1="242.4" x2="672.7" y2="242.4" stroke="#333" stroke-width="1.1" />
<path d="M651.20 234.40L651.70 235.71L653.10 235.78L652.01 236.66L652.38 238.02L651.20 237.25L650.02 238.02L650.39 236.66L649.30 235.78L650.70 235.71Z" fill="#1a1a1a"/>
<path d="M655.50 234.40L656.00 235.71L657.40 235.78L656.31 236.66L656.68 238.02L655.50 237.25L654.32 238.02L654.69 236.66L653.60 235.78L655.00 235.71Z" fill="#1a1a1a"/>
<path d="M659.80 234.40L660.30 235.71L661.70 235.78L660.61 236.66L660.98 238.02L659.80 237.25L658.62 238.02L658.99 236.66L657.90 235.78L659.30 235.71Z" fill="#1a1a1a"/>
<line x1="616.6" y1="337.1" x2="650.8" y2="337.1" stroke="#333" stroke-width="1.1" />
<path d="M629.70 329.10L630.20 330.41L631.60 330.48L630.51 331.36L630.88 332.72L629.70 331.95L628.52 332.72L628.89 331.36L627.80 330.48L629.20 330.41Z" fill="#1a1a1a"/>
<path d="M634.00 329.10L634.50 330.41L635.90 330.48L634.81 331.36L635.18 332.72L634.00 331.95L632.82 332.72L633.19 331.36L632.10 330.48L633.50 330.41Z" fill="#1a1a1a"/>
<path d="M638.30 329.10L638.80 330.41L640.20 330.48L639.11 331.36L639.48 332.72L638.30 331.95L637.12 332.72L637.49 331.36L636.40 330.48L637.80 330.41Z" fill="#1a1a1a"/>
<text transform="translate(-0.4,177.5) scale(0.92,1)" font-size="16.5" font-weight="bold" fill="#000">c</text>
<clipPath id="p11"><rect x="64.4" y="174.4" width="77.79999999999998" height="78.0"/></clipPath>
<path d="M70.26 252.4v1.8M64.4 246.53h-1.8M73.68 252.4v1.8M64.4 243.10h-1.8M76.11 252.4v1.8M64.4 240.66h-1.8M77.99 252.4v1.8M64.4 238.77h-1.8M79.54 252.4v1.8M64.4 237.23h-1.8M80.84 252.4v1.8M64.4 235.92h-1.8M81.97 252.4v1.8M64.4 234.79h-1.8M82.96 252.4v1.8M64.4 233.79h-1.8M89.71 252.4v1.8M64.4 227.03h-1.8M93.13 252.4v1.8M64.4 223.60h-1.8M95.56 252.4v1.8M64.4 221.16h-1.8M97.44 252.4v1.8M64.4 219.27h-1.8M98.99 252.4v1.8M64.4 217.73h-1.8M100.29 252.4v1.8M64.4 216.42h-1.8M101.42 252.4v1.8M64.4 215.29h-1.8M102.41 252.4v1.8M64.4 214.29h-1.8M109.16 252.4v1.8M64.4 207.53h-1.8M112.58 252.4v1.8M64.4 204.10h-1.8M115.01 252.4v1.8M64.4 201.66h-1.8M116.89 252.4v1.8M64.4 199.77h-1.8M118.44 252.4v1.8M64.4 198.23h-1.8M119.74 252.4v1.8M64.4 196.92h-1.8M120.87 252.4v1.8M64.4 195.79h-1.8M121.86 252.4v1.8M64.4 194.79h-1.8M128.61 252.4v1.8M64.4 188.03h-1.8M132.03 252.4v1.8M64.4 184.60h-1.8M134.46 252.4v1.8M64.4 182.16h-1.8M136.34 252.4v1.8M64.4 180.27h-1.8M137.89 252.4v1.8M64.4 178.73h-1.8M139.19 252.4v1.8M64.4 177.42h-1.8M140.32 252.4v1.8M64.4 176.29h-1.8M141.31 252.4v1.8M64.4 175.29h-1.8M64.40 252.4v2.8M64.4 252.40h-2.8M83.85 252.4v2.8M64.4 232.90h-2.8M103.30 252.4v2.8M64.4 213.40h-2.8M122.75 252.4v2.8M64.4 193.90h-2.8M142.20 252.4v2.8M64.4 174.40h-2.8" stroke="#333" stroke-width="0.6" fill="none"/>
<text x="64.70" y="263.80" font-size="8" text-anchor="middle" fill="#231f20">10<tspan font-size="5.6" dy="-3.4">0</tspan></text>
<text x="59.40" y="255.30" font-size="8" text-anchor="end" fill="#231f20">10<tspan font-size="5.6" dy="-3.4">0</tspan></text>
<text x="84.15" y="263.80" font-size="8" text-anchor="middle" fill="#231f20">10<tspan font-size="5.6" dy="-3.4">1</tspan></text>
<text x="59.40" y="235.80" font-size="8" text-anchor="end" fill="#231f20">10<tspan font-size="5.6" dy="-3.4">1</tspan></text>
<text x="103.60" y="263.80" font-size="8" text-anchor="middle" fill="#231f20">10<tspan font-size="5.6" dy="-3.4">2</tspan></text>
<text x="59.40" y="216.30" font-size="8" text-anchor="end" fill="#231f20">10<tspan font-size="5.6" dy="-3.4">2</tspan></text>
<text x="123.05" y="263.80" font-size="8" text-anchor="middle" fill="#231f20">10<tspan font-size="5.6" dy="-3.4">3</tspan></text>
<text x="59.40" y="196.80" font-size="8" text-anchor="end" fill="#231f20">10<tspan font-size="5.6" dy="-3.4">3</tspan></text>
<text x="142.50" y="263.80" font-size="8" text-anchor="middle" fill="#231f20">10<tspan font-size="5.6" dy="-3.4">4</tspan></text>
<text x="59.40" y="177.30" font-size="8" text-anchor="end" fill="#231f20">10<tspan font-size="5.6" dy="-3.4">4</tspan></text>
<clipPath id="p12"><rect x="191.8" y="172.6" width="77.19999999999999" height="77.70000000000002"/></clipPath>
<path d="M197.61 250.3v1.8M191.8 244.45h-1.8M201.01 250.3v1.8M191.8 241.03h-1.8M203.42 250.3v1.8M191.8 238.60h-1.8M205.29 250.3v1.8M191.8 236.72h-1.8M206.82 250.3v1.8M191.8 235.18h-1.8M208.11 250.3v1.8M191.8 233.88h-1.8M209.23 250.3v1.8M191.8 232.76h-1.8M210.22 250.3v1.8M191.8 231.76h-1.8M216.91 250.3v1.8M191.8 225.03h-1.8M220.31 250.3v1.8M191.8 221.61h-1.8M222.72 250.3v1.8M191.8 219.18h-1.8M224.59 250.3v1.8M191.8 217.30h-1.8M226.12 250.3v1.8M191.8 215.76h-1.8M227.41 250.3v1.8M191.8 214.46h-1.8M228.53 250.3v1.8M191.8 213.33h-1.8M229.52 250.3v1.8M191.8 212.34h-1.8M236.21 250.3v1.8M191.8 205.60h-1.8M239.61 250.3v1.8M191.8 202.18h-1.8M242.02 250.3v1.8M191.8 199.75h-1.8M243.89 250.3v1.8M191.8 197.87h-1.8M245.42 250.3v1.8M191.8 196.33h-1.8M246.71 250.3v1.8M191.8 195.03h-1.8M247.83 250.3v1.8M191.8 193.91h-1.8M248.82 250.3v1.8M191.8 192.91h-1.8M255.51 250.3v1.8M191.8 186.18h-1.8M258.91 250.3v1.8M191.8 182.76h-1.8M261.32 250.3v1.8M191.8 180.33h-1.8M263.19 250.3v1.8M191.8 178.45h-1.8M264.72 250.3v1.8M191.8 176.91h-1.8M266.01 250.3v1.8M191.8 175.61h-1.8M267.13 250.3v1.8M191.8 174.48h-1.8M268.12 250.3v1.8M191.8 173.49h-1.8M191.80 250.3v2.8M191.8 250.30h-2.8M211.10 250.3v2.8M191.8 230.88h-2.8M230.40 250.3v2.8M191.8 211.45h-2.8M249.70 250.3v2.8M191.8 192.03h-2.8M269.00 250.3v2.8M191.8 172.60h-2.8" stroke="#333" stroke-width="0.6" fill="none"/>
<text x="192.10" y="261.70" font-size="8" text-anchor="middle" fill="#231f20">10<tspan font-size="5.6" dy="-3.4">0</tspan></text>
<text x="186.80" y="253.20" font-size="8" text-anchor="end" fill="#231f20">10<tspan font-size="5.6" dy="-3.4">0</tspan></text>
<text x="211.40" y="261.70" font-size="8" text-anchor="middle" fill="#231f20">10<tspan font-size="5.6" dy="-3.4">1</tspan></text>
<text x="186.80" y="233.78" font-size="8" text-anchor="end" fill="#231f20">10<tspan font-size="5.6" dy="-3.4">1</tspan></text>
<text x="230.70" y="261.70" font-size="8" text-anchor="middle" fill="#231f20">10<tspan font-size="5.6" dy="-3.4">2</tspan></text>
<text x="186.80" y="214.35" font-size="8" text-anchor="end" fill="#231f20">10<tspan font-size="5.6" dy="-3.4">2</tspan></text>
<text x="250.00" y="261.70" font-size="8" text-anchor="middle" fill="#231f20">10<tspan font-size="5.6" dy="-3.4">3</tspan></text>
<text x="186.80" y="194.93" font-size="8" text-anchor="end" fill="#231f20">10<tspan font-size="5.6" dy="-3.4">3</tspan></text>
<text x="269.30" y="261.70" font-size="8" text-anchor="middle" fill="#231f20">10<tspan font-size="5.6" dy="-3.4">4</tspan></text>
<text x="186.80" y="175.50" font-size="8" text-anchor="end" fill="#231f20">10<tspan font-size="5.6" dy="-3.4">4</tspan></text>
<clipPath id="p13"><rect x="317.0" y="173.8" width="77.0" height="77.69999999999999"/></clipPath>
<path d="M322.79 251.5v1.8M317.0 245.65h-1.8M326.18 251.5v1.8M317.0 242.23h-1.8M328.59 251.5v1.8M317.0 239.80h-1.8M330.46 251.5v1.8M317.0 237.92h-1.8M331.98 251.5v1.8M317.0 236.38h-1.8M333.27 251.5v1.8M317.0 235.08h-1.8M334.38 251.5v1.8M317.0 233.96h-1.8M335.37 251.5v1.8M317.0 232.96h-1.8M342.04 251.5v1.8M317.0 226.23h-1.8M345.43 251.5v1.8M317.0 222.81h-1.8M347.84 251.5v1.8M317.0 220.38h-1.8M349.71 251.5v1.8M317.0 218.50h-1.8M351.23 251.5v1.8M317.0 216.96h-1.8M352.52 251.5v1.8M317.0 215.66h-1.8M353.63 251.5v1.8M317.0 214.53h-1.8M354.62 251.5v1.8M317.0 213.54h-1.8M361.29 251.5v1.8M317.0 206.80h-1.8M364.68 251.5v1.8M317.0 203.38h-1.8M367.09 251.5v1.8M317.0 200.95h-1.8M368.96 251.5v1.8M317.0 199.07h-1.8M370.48 251.5v1.8M317.0 197.53h-1.8M371.77 251.5v1.8M317.0 196.23h-1.8M372.88 251.5v1.8M317.0 195.11h-1.8M373.87 251.5v1.8M317.0 194.11h-1.8M380.54 251.5v1.8M317.0 187.38h-1.8M383.93 251.5v1.8M317.0 183.96h-1.8M386.34 251.5v1.8M317.0 181.53h-1.8M388.21 251.5v1.8M317.0 179.65h-1.8M389.73 251.5v1.8M317.0 178.11h-1.8M391.02 251.5v1.8M317.0 176.81h-1.8M392.13 251.5v1.8M317.0 175.68h-1.8M393.12 251.5v1.8M317.0 174.69h-1.8M317.00 251.5v2.8M317.0 251.50h-2.8M336.25 251.5v2.8M317.0 232.07h-2.8M355.50 251.5v2.8M317.0 212.65h-2.8M374.75 251.5v2.8M317.0 193.23h-2.8M394.00 251.5v2.8M317.0 173.80h-2.8" stroke="#333" stroke-width="0.6" fill="none"/>
<text x="317.30" y="262.90" font-size="8" text-anchor="middle" fill="#231f20">10<tspan font-size="5.6" dy="-3.4">0</tspan></text>
<text x="312.00" y="254.40" font-size="8" text-anchor="end" fill="#231f20">10<tspan font-size="5.6" dy="-3.4">0</tspan></text>
<text x="336.55" y="262.90" font-size="8" text-anchor="middle" fill="#231f20">10<tspan font-size="5.6" dy="-3.4">1</tspan></text>
<text x="312.00" y="234.97" font-size="8" text-anchor="end" fill="#231f20">10<tspan font-size="5.6" dy="-3.4">1</tspan></text>
<text x="355.80" y="262.90" font-size="8" text-anchor="middle" fill="#231f20">10<tspan font-size="5.6" dy="-3.4">2</tspan></text>
<text x="312.00" y="215.55" font-size="8" text-anchor="end" fill="#231f20">10<tspan font-size="5.6" dy="-3.4">2</tspan></text>
<text x="375.05" y="262.90" font-size="8" text-anchor="middle" fill="#231f20">10<tspan font-size="5.6" dy="-3.4">3</tspan></text>
<text x="312.00" y="196.13" font-size="8" text-anchor="end" fill="#231f20">10<tspan font-size="5.6" dy="-3.4">3</tspan></text>
<text x="394.30" y="262.90" font-size="8" text-anchor="middle" fill="#231f20">10<tspan font-size="5.6" dy="-3.4">4</tspan></text>
<text x="312.00" y="176.70" font-size="8" text-anchor="end" fill="#231f20">10<tspan font-size="5.6" dy="-3.4">4</tspan></text>
<clipPath id="p21"><rect x="64.2" y="301.8" width="77.99999999999999" height="77.59999999999997"/></clipPath>
<path d="M70.07 379.4v1.8M64.2 373.56h-1.8M73.50 379.4v1.8M64.2 370.14h-1.8M75.94 379.4v1.8M64.2 367.72h-1.8M77.83 379.4v1.8M64.2 365.84h-1.8M79.37 379.4v1.8M64.2 364.30h-1.8M80.68 379.4v1.8M64.2 363.01h-1.8M81.81 379.4v1.8M64.2 361.88h-1.8M82.81 379.4v1.8M64.2 360.89h-1.8M89.57 379.4v1.8M64.2 354.16h-1.8M93.00 379.4v1.8M64.2 350.74h-1.8M95.44 379.4v1.8M64.2 348.32h-1.8M97.33 379.4v1.8M64.2 346.44h-1.8M98.87 379.4v1.8M64.2 344.90h-1.8M100.18 379.4v1.8M64.2 343.61h-1.8M101.31 379.4v1.8M64.2 342.48h-1.8M102.31 379.4v1.8M64.2 341.49h-1.8M109.07 379.4v1.8M64.2 334.76h-1.8M112.50 379.4v1.8M64.2 331.34h-1.8M114.94 379.4v1.8M64.2 328.92h-1.8M116.83 379.4v1.8M64.2 327.04h-1.8M118.37 379.4v1.8M64.2 325.50h-1.8M119.68 379.4v1.8M64.2 324.21h-1.8M120.81 379.4v1.8M64.2 323.08h-1.8M121.81 379.4v1.8M64.2 322.09h-1.8M128.57 379.4v1.8M64.2 315.36h-1.8M132.00 379.4v1.8M64.2 311.94h-1.8M134.44 379.4v1.8M64.2 309.52h-1.8M136.33 379.4v1.8M64.2 307.64h-1.8M137.87 379.4v1.8M64.2 306.10h-1.8M139.18 379.4v1.8M64.2 304.81h-1.8M140.31 379.4v1.8M64.2 303.68h-1.8M141.31 379.4v1.8M64.2 302.69h-1.8M64.20 379.4v2.8M64.2 379.40h-2.8M83.70 379.4v2.8M64.2 360.00h-2.8M103.20 379.4v2.8M64.2 340.60h-2.8M122.70 379.4v2.8M64.2 321.20h-2.8M142.20 379.4v2.8M64.2 301.80h-2.8" stroke="#333" stroke-width="0.6" fill="none"/>
<text x="64.50" y="390.80" font-size="8" text-anchor="middle" fill="#231f20">10<tspan font-size="5.6" dy="-3.4">0</tspan></text>
<text x="59.20" y="382.30" font-size="8" text-anchor="end" fill="#231f20">10<tspan font-size="5.6" dy="-3.4">0</tspan></text>
<text x="84.00" y="390.80" font-size="8" text-anchor="middle" fill="#231f20">10<tspan font-size="5.6" dy="-3.4">1</tspan></text>
<text x="59.20" y="362.90" font-size="8" text-anchor="end" fill="#231f20">10<tspan font-size="5.6" dy="-3.4">1</tspan></text>
<text x="103.50" y="390.80" font-size="8" text-anchor="middle" fill="#231f20">10<tspan font-size="5.6" dy="-3.4">2</tspan></text>
<text x="59.20" y="343.50" font-size="8" text-anchor="end" fill="#231f20">10<tspan font-size="5.6" dy="-3.4">2</tspan></text>
<text x="123.00" y="390.80" font-size="8" text-anchor="middle" fill="#231f20">10<tspan font-size="5.6" dy="-3.4">3</tspan></text>
<text x="59.20" y="324.10" font-size="8" text-anchor="end" fill="#231f20">10<tspan font-size="5.6" dy="-3.4">3</tspan></text>
<text x="142.50" y="390.80" font-size="8" text-anchor="middle" fill="#231f20">10<tspan font-size="5.6" dy="-3.4">4</tspan></text>
<text x="59.20" y="304.70" font-size="8" text-anchor="end" fill="#231f20">10<tspan font-size="5.6" dy="-3.4">4</tspan></text>
<clipPath id="p22"><rect x="191.5" y="302.3" width="77.30000000000001" height="77.19999999999999"/></clipPath>
<path d="M197.32 379.5v1.8M191.5 373.69h-1.8M200.72 379.5v1.8M191.5 370.29h-1.8M203.13 379.5v1.8M191.5 367.88h-1.8M205.01 379.5v1.8M191.5 366.01h-1.8M206.54 379.5v1.8M191.5 364.48h-1.8M207.83 379.5v1.8M191.5 363.19h-1.8M208.95 379.5v1.8M191.5 362.07h-1.8M209.94 379.5v1.8M191.5 361.08h-1.8M216.64 379.5v1.8M191.5 354.39h-1.8M220.05 379.5v1.8M191.5 350.99h-1.8M222.46 379.5v1.8M191.5 348.58h-1.8M224.33 379.5v1.8M191.5 346.71h-1.8M225.86 379.5v1.8M191.5 345.18h-1.8M227.16 379.5v1.8M191.5 343.89h-1.8M228.28 379.5v1.8M191.5 342.77h-1.8M229.27 379.5v1.8M191.5 341.78h-1.8M235.97 379.5v1.8M191.5 335.09h-1.8M239.37 379.5v1.8M191.5 331.69h-1.8M241.78 379.5v1.8M191.5 329.28h-1.8M243.66 379.5v1.8M191.5 327.41h-1.8M245.19 379.5v1.8M191.5 325.88h-1.8M246.48 379.5v1.8M191.5 324.59h-1.8M247.60 379.5v1.8M191.5 323.47h-1.8M248.59 379.5v1.8M191.5 322.48h-1.8M255.29 379.5v1.8M191.5 315.79h-1.8M258.70 379.5v1.8M191.5 312.39h-1.8M261.11 379.5v1.8M191.5 309.98h-1.8M262.98 379.5v1.8M191.5 308.11h-1.8M264.51 379.5v1.8M191.5 306.58h-1.8M265.81 379.5v1.8M191.5 305.29h-1.8M266.93 379.5v1.8M191.5 304.17h-1.8M267.92 379.5v1.8M191.5 303.18h-1.8M191.50 379.5v2.8M191.5 379.50h-2.8M210.82 379.5v2.8M191.5 360.20h-2.8M230.15 379.5v2.8M191.5 340.90h-2.8M249.48 379.5v2.8M191.5 321.60h-2.8M268.80 379.5v2.8M191.5 302.30h-2.8" stroke="#333" stroke-width="0.6" fill="none"/>
<text x="191.80" y="390.90" font-size="8" text-anchor="middle" fill="#231f20">10<tspan font-size="5.6" dy="-3.4">0</tspan></text>
<text x="186.50" y="382.40" font-size="8" text-anchor="end" fill="#231f20">10<tspan font-size="5.6" dy="-3.4">0</tspan></text>
<text x="211.12" y="390.90" font-size="8" text-anchor="middle" fill="#231f20">10<tspan font-size="5.6" dy="-3.4">1</tspan></text>
<text x="186.50" y="363.10" font-size="8" text-anchor="end" fill="#231f20">10<tspan font-size="5.6" dy="-3.4">1</tspan></text>
<text x="230.45" y="390.90" font-size="8" text-anchor="middle" fill="#231f20">10<tspan font-size="5.6" dy="-3.4">2</tspan></text>
<text x="186.50" y="343.80" font-size="8" text-anchor="end" fill="#231f20">10<tspan font-size="5.6" dy="-3.4">2</tspan></text>
<text x="249.78" y="390.90" font-size="8" text-anchor="middle" fill="#231f20">10<tspan font-size="5.6" dy="-3.4">3</tspan></text>
<text x="186.50" y="324.50" font-size="8" text-anchor="end" fill="#231f20">10<tspan font-size="5.6" dy="-3.4">3</tspan></text>
<text x="269.10" y="390.90" font-size="8" text-anchor="middle" fill="#231f20">10<tspan font-size="5.6" dy="-3.4">4</tspan></text>
<text x="186.50" y="305.20" font-size="8" text-anchor="end" fill="#231f20">10<tspan font-size="5.6" dy="-3.4">4</tspan></text>
<clipPath id="p23"><rect x="317.1" y="302.5" width="77.5" height="77.19999999999999"/></clipPath>
<path d="M322.93 379.7v1.8M317.1 373.89h-1.8M326.34 379.7v1.8M317.1 370.49h-1.8M328.76 379.7v1.8M317.1 368.08h-1.8M330.64 379.7v1.8M317.1 366.21h-1.8M332.18 379.7v1.8M317.1 364.68h-1.8M333.47 379.7v1.8M317.1 363.39h-1.8M334.60 379.7v1.8M317.1 362.27h-1.8M335.59 379.7v1.8M317.1 361.28h-1.8M342.31 379.7v1.8M317.1 354.59h-1.8M345.72 379.7v1.8M317.1 351.19h-1.8M348.14 379.7v1.8M317.1 348.78h-1.8M350.02 379.7v1.8M317.1 346.91h-1.8M351.55 379.7v1.8M317.1 345.38h-1.8M352.85 379.7v1.8M317.1 344.09h-1.8M353.97 379.7v1.8M317.1 342.97h-1.8M354.96 379.7v1.8M317.1 341.98h-1.8M361.68 379.7v1.8M317.1 335.29h-1.8M365.09 379.7v1.8M317.1 331.89h-1.8M367.51 379.7v1.8M317.1 329.48h-1.8M369.39 379.7v1.8M317.1 327.61h-1.8M370.93 379.7v1.8M317.1 326.08h-1.8M372.22 379.7v1.8M317.1 324.79h-1.8M373.35 379.7v1.8M317.1 323.67h-1.8M374.34 379.7v1.8M317.1 322.68h-1.8M381.06 379.7v1.8M317.1 315.99h-1.8M384.47 379.7v1.8M317.1 312.59h-1.8M386.89 379.7v1.8M317.1 310.18h-1.8M388.77 379.7v1.8M317.1 308.31h-1.8M390.30 379.7v1.8M317.1 306.78h-1.8M391.60 379.7v1.8M317.1 305.49h-1.8M392.72 379.7v1.8M317.1 304.37h-1.8M393.71 379.7v1.8M317.1 303.38h-1.8M317.10 379.7v2.8M317.1 379.70h-2.8M336.48 379.7v2.8M317.1 360.40h-2.8M355.85 379.7v2.8M317.1 341.10h-2.8M375.23 379.7v2.8M317.1 321.80h-2.8M394.60 379.7v2.8M317.1 302.50h-2.8" stroke="#333" stroke-width="0.6" fill="none"/>
<text x="317.40" y="391.10" font-size="8" text-anchor="middle" fill="#231f20">10<tspan font-size="5.6" dy="-3.4">0</tspan></text>
<text x="312.10" y="382.60" font-size="8" text-anchor="end" fill="#231f20">10<tspan font-size="5.6" dy="-3.4">0</tspan></text>
<text x="336.78" y="391.10" font-size="8" text-anchor="middle" fill="#231f20">10<tspan font-size="5.6" dy="-3.4">1</tspan></text>
<text x="312.10" y="363.30" font-size="8" text-anchor="end" fill="#231f20">10<tspan font-size="5.6" dy="-3.4">1</tspan></text>
<text x="356.15" y="391.10" font-size="8" text-anchor="middle" fill="#231f20">10<tspan font-size="5.6" dy="-3.4">2</tspan></text>
<text x="312.10" y="344.00" font-size="8" text-anchor="end" fill="#231f20">10<tspan font-size="5.6" dy="-3.4">2</tspan></text>
<text x="375.53" y="391.10" font-size="8" text-anchor="middle" fill="#231f20">10<tspan font-size="5.6" dy="-3.4">3</tspan></text>
<text x="312.10" y="324.70" font-size="8" text-anchor="end" fill="#231f20">10<tspan font-size="5.6" dy="-3.4">3</tspan></text>
<text x="394.90" y="391.10" font-size="8" text-anchor="middle" fill="#231f20">10<tspan font-size="5.6" dy="-3.4">4</tspan></text>
<text x="312.10" y="305.40" font-size="8" text-anchor="end" fill="#231f20">10<tspan font-size="5.6" dy="-3.4">4</tspan></text>
<clipPath id="p31"><rect x="64.5" y="430.2" width="77.5" height="77.30000000000001"/></clipPath>
<path d="M70.33 507.5v1.8M64.5 501.68h-1.8M73.74 507.5v1.8M64.5 498.28h-1.8M76.16 507.5v1.8M64.5 495.87h-1.8M78.04 507.5v1.8M64.5 493.99h-1.8M79.58 507.5v1.8M64.5 492.46h-1.8M80.87 507.5v1.8M64.5 491.17h-1.8M82.00 507.5v1.8M64.5 490.05h-1.8M82.99 507.5v1.8M64.5 489.06h-1.8M89.71 507.5v1.8M64.5 482.36h-1.8M93.12 507.5v1.8M64.5 478.95h-1.8M95.54 507.5v1.8M64.5 476.54h-1.8M97.42 507.5v1.8M64.5 474.67h-1.8M98.95 507.5v1.8M64.5 473.14h-1.8M100.25 507.5v1.8M64.5 471.84h-1.8M101.37 507.5v1.8M64.5 470.72h-1.8M102.36 507.5v1.8M64.5 469.73h-1.8M109.08 507.5v1.8M64.5 463.03h-1.8M112.49 507.5v1.8M64.5 459.63h-1.8M114.91 507.5v1.8M64.5 457.22h-1.8M116.79 507.5v1.8M64.5 455.34h-1.8M118.33 507.5v1.8M64.5 453.81h-1.8M119.62 507.5v1.8M64.5 452.52h-1.8M120.75 507.5v1.8M64.5 451.40h-1.8M121.74 507.5v1.8M64.5 450.41h-1.8M128.46 507.5v1.8M64.5 443.71h-1.8M131.87 507.5v1.8M64.5 440.30h-1.8M134.29 507.5v1.8M64.5 437.89h-1.8M136.17 507.5v1.8M64.5 436.02h-1.8M137.70 507.5v1.8M64.5 434.49h-1.8M139.00 507.5v1.8M64.5 433.19h-1.8M140.12 507.5v1.8M64.5 432.07h-1.8M141.11 507.5v1.8M64.5 431.08h-1.8M64.50 507.5v2.8M64.5 507.50h-2.8M83.88 507.5v2.8M64.5 488.18h-2.8M103.25 507.5v2.8M64.5 468.85h-2.8M122.62 507.5v2.8M64.5 449.52h-2.8M142.00 507.5v2.8M64.5 430.20h-2.8" stroke="#333" stroke-width="0.6" fill="none"/>
<text x="64.80" y="518.90" font-size="8" text-anchor="middle" fill="#231f20">10<tspan font-size="5.6" dy="-3.4">0</tspan></text>
<text x="59.50" y="510.40" font-size="8" text-anchor="end" fill="#231f20">10<tspan font-size="5.6" dy="-3.4">0</tspan></text>
<text x="84.17" y="518.90" font-size="8" text-anchor="middle" fill="#231f20">10<tspan font-size="5.6" dy="-3.4">1</tspan></text>
<text x="59.50" y="491.07" font-size="8" text-anchor="end" fill="#231f20">10<tspan font-size="5.6" dy="-3.4">1</tspan></text>
<text x="103.55" y="518.90" font-size="8" text-anchor="middle" fill="#231f20">10<tspan font-size="5.6" dy="-3.4">2</tspan></text>
<text x="59.50" y="471.75" font-size="8" text-anchor="end" fill="#231f20">10<tspan font-size="5.6" dy="-3.4">2</tspan></text>
<text x="122.92" y="518.90" font-size="8" text-anchor="middle" fill="#231f20">10<tspan font-size="5.6" dy="-3.4">3</tspan></text>
<text x="59.50" y="452.42" font-size="8" text-anchor="end" fill="#231f20">10<tspan font-size="5.6" dy="-3.4">3</tspan></text>
<text x="142.30" y="518.90" font-size="8" text-anchor="middle" fill="#231f20">10<tspan font-size="5.6" dy="-3.4">4</tspan></text>
<text x="59.50" y="433.10" font-size="8" text-anchor="end" fill="#231f20">10<tspan font-size="5.6" dy="-3.4">4</tspan></text>
<clipPath id="p32"><rect x="191.8" y="430.2" width="77.5" height="76.90000000000003"/></clipPath>
<path d="M197.63 507.1v1.8M191.8 501.31h-1.8M201.04 507.1v1.8M191.8 497.93h-1.8M203.46 507.1v1.8M191.8 495.53h-1.8M205.34 507.1v1.8M191.8 493.66h-1.8M206.88 507.1v1.8M191.8 492.14h-1.8M208.17 507.1v1.8M191.8 490.85h-1.8M209.30 507.1v1.8M191.8 489.74h-1.8M210.29 507.1v1.8M191.8 488.75h-1.8M217.01 507.1v1.8M191.8 482.09h-1.8M220.42 507.1v1.8M191.8 478.70h-1.8M222.84 507.1v1.8M191.8 476.30h-1.8M224.72 507.1v1.8M191.8 474.44h-1.8M226.25 507.1v1.8M191.8 472.92h-1.8M227.55 507.1v1.8M191.8 471.63h-1.8M228.67 507.1v1.8M191.8 470.51h-1.8M229.66 507.1v1.8M191.8 469.53h-1.8M236.38 507.1v1.8M191.8 462.86h-1.8M239.79 507.1v1.8M191.8 459.48h-1.8M242.21 507.1v1.8M191.8 457.08h-1.8M244.09 507.1v1.8M191.8 455.21h-1.8M245.63 507.1v1.8M191.8 453.69h-1.8M246.92 507.1v1.8M191.8 452.40h-1.8M248.05 507.1v1.8M191.8 451.29h-1.8M249.04 507.1v1.8M191.8 450.30h-1.8M255.76 507.1v1.8M191.8 443.64h-1.8M259.17 507.1v1.8M191.8 440.25h-1.8M261.59 507.1v1.8M191.8 437.85h-1.8M263.47 507.1v1.8M191.8 435.99h-1.8M265.00 507.1v1.8M191.8 434.47h-1.8M266.30 507.1v1.8M191.8 433.18h-1.8M267.42 507.1v1.8M191.8 432.06h-1.8M268.41 507.1v1.8M191.8 431.08h-1.8M191.80 507.1v2.8M191.8 507.10h-2.8M211.18 507.1v2.8M191.8 487.88h-2.8M230.55 507.1v2.8M191.8 468.65h-2.8M249.93 507.1v2.8M191.8 449.43h-2.8M269.30 507.1v2.8M191.8 430.20h-2.8" stroke="#333" stroke-width="0.6" fill="none"/>
<text x="192.10" y="518.50" font-size="8" text-anchor="middle" fill="#231f20">10<tspan font-size="5.6" dy="-3.4">0</tspan></text>
<text x="186.80" y="510.00" font-size="8" text-anchor="end" fill="#231f20">10<tspan font-size="5.6" dy="-3.4">0</tspan></text>
<text x="211.48" y="518.50" font-size="8" text-anchor="middle" fill="#231f20">10<tspan font-size="5.6" dy="-3.4">1</tspan></text>
<text x="186.80" y="490.77" font-size="8" text-anchor="end" fill="#231f20">10<tspan font-size="5.6" dy="-3.4">1</tspan></text>
<text x="230.85" y="518.50" font-size="8" text-anchor="middle" fill="#231f20">10<tspan font-size="5.6" dy="-3.4">2</tspan></text>
<text x="186.80" y="471.55" font-size="8" text-anchor="end" fill="#231f20">10<tspan font-size="5.6" dy="-3.4">2</tspan></text>
<text x="250.23" y="518.50" font-size="8" text-anchor="middle" fill="#231f20">10<tspan font-size="5.6" dy="-3.4">3</tspan></text>
<text x="186.80" y="452.32" font-size="8" text-anchor="end" fill="#231f20">10<tspan font-size="5.6" dy="-3.4">3</tspan></text>
<text x="269.60" y="518.50" font-size="8" text-anchor="middle" fill="#231f20">10<tspan font-size="5.6" dy="-3.4">4</tspan></text>
<text x="186.80" y="433.10" font-size="8" text-anchor="end" fill="#231f20">10<tspan font-size="5.6" dy="-3.4">4</tspan></text>
<clipPath id="p33"><rect x="316.8" y="430.4" width="77.59999999999997" height="77.0"/></clipPath>
<path d="M322.64 507.4v1.8M316.8 501.61h-1.8M326.06 507.4v1.8M316.8 498.22h-1.8M328.48 507.4v1.8M316.8 495.81h-1.8M330.36 507.4v1.8M316.8 493.94h-1.8M331.90 507.4v1.8M316.8 492.42h-1.8M333.19 507.4v1.8M316.8 491.13h-1.8M334.32 507.4v1.8M316.8 490.02h-1.8M335.31 507.4v1.8M316.8 489.03h-1.8M342.04 507.4v1.8M316.8 482.36h-1.8M345.46 507.4v1.8M316.8 478.97h-1.8M347.88 507.4v1.8M316.8 476.56h-1.8M349.76 507.4v1.8M316.8 474.69h-1.8M351.30 507.4v1.8M316.8 473.17h-1.8M352.59 507.4v1.8M316.8 471.88h-1.8M353.72 507.4v1.8M316.8 470.77h-1.8M354.71 507.4v1.8M316.8 469.78h-1.8M361.44 507.4v1.8M316.8 463.11h-1.8M364.86 507.4v1.8M316.8 459.72h-1.8M367.28 507.4v1.8M316.8 457.31h-1.8M369.16 507.4v1.8M316.8 455.44h-1.8M370.70 507.4v1.8M316.8 453.92h-1.8M371.99 507.4v1.8M316.8 452.63h-1.8M373.12 507.4v1.8M316.8 451.52h-1.8M374.11 507.4v1.8M316.8 450.53h-1.8M380.84 507.4v1.8M316.8 443.86h-1.8M384.26 507.4v1.8M316.8 440.47h-1.8M386.68 507.4v1.8M316.8 438.06h-1.8M388.56 507.4v1.8M316.8 436.19h-1.8M390.10 507.4v1.8M316.8 434.67h-1.8M391.39 507.4v1.8M316.8 433.38h-1.8M392.52 507.4v1.8M316.8 432.27h-1.8M393.51 507.4v1.8M316.8 431.28h-1.8M316.80 507.4v2.8M316.8 507.40h-2.8M336.20 507.4v2.8M316.8 488.15h-2.8M355.60 507.4v2.8M316.8 468.90h-2.8M375.00 507.4v2.8M316.8 449.65h-2.8M394.40 507.4v2.8M316.8 430.40h-2.8" stroke="#333" stroke-width="0.6" fill="none"/>
<text x="317.10" y="518.80" font-size="8" text-anchor="middle" fill="#231f20">10<tspan font-size="5.6" dy="-3.4">0</tspan></text>
<text x="311.80" y="510.30" font-size="8" text-anchor="end" fill="#231f20">10<tspan font-size="5.6" dy="-3.4">0</tspan></text>
<text x="336.50" y="518.80" font-size="8" text-anchor="middle" fill="#231f20">10<tspan font-size="5.6" dy="-3.4">1</tspan></text>
<text x="311.80" y="491.05" font-size="8" text-anchor="end" fill="#231f20">10<tspan font-size="5.6" dy="-3.4">1</tspan></text>
<text x="355.90" y="518.80" font-size="8" text-anchor="middle" fill="#231f20">10<tspan font-size="5.6" dy="-3.4">2</tspan></text>
<text x="311.80" y="471.80" font-size="8" text-anchor="end" fill="#231f20">10<tspan font-size="5.6" dy="-3.4">2</tspan></text>
<text x="375.30" y="518.80" font-size="8" text-anchor="middle" fill="#231f20">10<tspan font-size="5.6" dy="-3.4">3</tspan></text>
<text x="311.80" y="452.55" font-size="8" text-anchor="end" fill="#231f20">10<tspan font-size="5.6" dy="-3.4">3</tspan></text>
<text x="394.70" y="518.80" font-size="8" text-anchor="middle" fill="#231f20">10<tspan font-size="5.6" dy="-3.4">4</tspan></text>
<text x="311.80" y="433.30" font-size="8" text-anchor="end" fill="#231f20">10<tspan font-size="5.6" dy="-3.4">4</tspan></text>
<text transform="translate(19.6,213.4) rotate(-90)" x="0" y="2.87" font-size="8.2" text-anchor="middle" fill="#231f20">Isotype</text>
<text transform="translate(29.6,241.4) rotate(-90)" x="0" y="2.87" font-size="8.2" text-anchor="middle" fill="#231f20">CD38</text>
<line x1="29.6" y1="228.1" x2="29.6" y2="178.4" stroke="#111" stroke-width="0.8" />
<path d="M27.400000000000002 179.6L29.6 174.4L31.8 179.6Z" fill="#111"/>
<text transform="translate(39.2,213.1) rotate(-90)" x="0" y="2.87" font-size="8.2" text-anchor="middle" fill="#231f20">PE-A</text>
<text x="103.3" y="276.6" font-size="8.2" text-anchor="middle" fill="#231f20" font-weight="normal" >APC-A</text>
<text x="64.4" y="287.4" font-size="8.2" text-anchor="start" fill="#231f20" font-weight="normal" >CD34</text>
<line x1="87.4" y1="284.4" x2="138.0" y2="284.4" stroke="#111" stroke-width="0.8" />
<path d="M136.8 282.2L142.0 284.4L136.8 286.59999999999997Z" fill="#111"/>
<text transform="translate(154.5,234.70000000000002) rotate(-90)" x="0" y="2.87" font-size="8.2" text-anchor="middle" fill="#231f20">CD45RA</text>
<line x1="154.5" y1="217.3" x2="154.5" y2="176.6" stroke="#111" stroke-width="0.8" />
<path d="M152.3 177.79999999999998L154.5 172.6L156.7 177.79999999999998Z" fill="#111"/>
<text transform="translate(166.6,210.95) rotate(-90)" x="0" y="2.87" font-size="8.2" text-anchor="middle" fill="#231f20">PE-Texas Red-A</text>
<text x="230.4" y="276.6" font-size="8.2" text-anchor="middle" fill="#231f20" font-weight="normal" >FITC-A</text>
<text x="189.9" y="287.4" font-size="8.2" text-anchor="start" fill="#231f20" font-weight="normal" >Lin</text>
<line x1="203.1" y1="284.4" x2="264.4" y2="284.4" stroke="#111" stroke-width="0.8" />
<path d="M263.2 282.2L268.4 284.4L263.2 286.59999999999997Z" fill="#111"/>
<text transform="translate(279.1,239.3) rotate(-90)" x="0" y="2.87" font-size="8.2" text-anchor="middle" fill="#231f20">CD49f</text>
<line x1="279.1" y1="225.5" x2="279.1" y2="177.8" stroke="#111" stroke-width="0.8" />
<path d="M276.90000000000003 179.0L279.1 173.8L281.3 179.0Z" fill="#111"/>
<text transform="translate(290.3,212.15) rotate(-90)" x="0" y="2.87" font-size="8.2" text-anchor="middle" fill="#231f20">PerCP-Cy5-5-A</text>
<text x="355.5" y="276.6" font-size="8.2" text-anchor="middle" fill="#231f20" font-weight="normal" >PE-Cy7-A</text>
<text x="317.4" y="287.4" font-size="8.2" text-anchor="start" fill="#231f20" font-weight="normal" >CD90</text>
<line x1="340.3" y1="284.4" x2="390.8" y2="284.4" stroke="#111" stroke-width="0.8" />
<path d="M389.6 282.2L394.8 284.4L389.6 286.59999999999997Z" fill="#111"/>
<text transform="translate(19.6,340.6) rotate(-90)" x="0" y="2.87" font-size="8.2" text-anchor="middle" fill="#231f20">Vehicle</text>
<text transform="translate(29.6,368.4) rotate(-90)" x="0" y="2.87" font-size="8.2" text-anchor="middle" fill="#231f20">CD38</text>
<line x1="29.6" y1="355.09999999999997" x2="29.6" y2="305.8" stroke="#111" stroke-width="0.8" />
<path d="M27.400000000000002 307.0L29.6 301.8L31.8 307.0Z" fill="#111"/>
<text transform="translate(39.2,340.3) rotate(-90)" x="0" y="2.87" font-size="8.2" text-anchor="middle" fill="#231f20">PE-A</text>
<text x="103.19999999999999" y="404.0" font-size="8.2" text-anchor="middle" fill="#231f20" font-weight="normal" >APC-A</text>
<text x="64.4" y="415.0" font-size="8.2" text-anchor="start" fill="#231f20" font-weight="normal" >CD34</text>
<line x1="87.4" y1="412.0" x2="138.0" y2="412.0" stroke="#111" stroke-width="0.8" />
<path d="M136.8 409.8L142.0 412.0L136.8 414.2Z" fill="#111"/>
<text transform="translate(154.5,363.9) rotate(-90)" x="0" y="2.87" font-size="8.2" text-anchor="middle" fill="#231f20">CD45RA</text>
<line x1="154.5" y1="346.5" x2="154.5" y2="306.3" stroke="#111" stroke-width="0.8" />
<path d="M152.3 307.5L154.5 302.3L156.7 307.5Z" fill="#111"/>
<text transform="translate(167.5,340.4) rotate(-90)" x="0" y="2.87" font-size="8.2" text-anchor="middle" fill="#231f20">PE-Texas Red-A</text>
<text x="230.15" y="404.0" font-size="8.2" text-anchor="middle" fill="#231f20" font-weight="normal" >FITC-A</text>
<text x="192.4" y="415.0" font-size="8.2" text-anchor="start" fill="#231f20" font-weight="normal" >Lin</text>
<line x1="205.6" y1="412.0" x2="266.9" y2="412.0" stroke="#111" stroke-width="0.8" />
<path d="M265.7 409.8L270.9 412.0L265.7 414.2Z" fill="#111"/>
<text transform="translate(279.1,367.5) rotate(-90)" x="0" y="2.87" font-size="8.2" text-anchor="middle" fill="#231f20">CD49f</text>
<line x1="279.1" y1="353.7" x2="279.1" y2="306.5" stroke="#111" stroke-width="0.8" />
<path d="M276.90000000000003 307.7L279.1 302.5L281.3 307.7Z" fill="#111"/>
<text transform="translate(292.0,340.6) rotate(-90)" x="0" y="2.87" font-size="8.2" text-anchor="middle" fill="#231f20">PerCP-Cy5-5-A</text>
<text x="355.85" y="404.0" font-size="8.2" text-anchor="middle" fill="#231f20" font-weight="normal" >PE-Cy7-A</text>
<text x="317.4" y="415.0" font-size="8.2" text-anchor="start" fill="#231f20" font-weight="normal" >CD90</text>
<line x1="340.3" y1="412.0" x2="390.8" y2="412.0" stroke="#111" stroke-width="0.8" />
<path d="M389.6 409.8L394.8 412.0L389.6 414.2Z" fill="#111"/>
<text transform="translate(19.6,468.85) rotate(-90)" x="0" y="2.87" font-size="8.2" text-anchor="middle" fill="#231f20">GW9662</text>
<text transform="translate(29.6,496.5) rotate(-90)" x="0" y="2.87" font-size="8.2" text-anchor="middle" fill="#231f20">CD38</text>
<line x1="29.6" y1="483.2" x2="29.6" y2="434.2" stroke="#111" stroke-width="0.8" />
<path d="M27.400000000000002 435.4L29.6 430.2L31.8 435.4Z" fill="#111"/>
<text transform="translate(39.2,468.55) rotate(-90)" x="0" y="2.87" font-size="8.2" text-anchor="middle" fill="#231f20">PE-A</text>
<text x="103.25" y="531.6" font-size="8.2" text-anchor="middle" fill="#231f20" font-weight="normal" >APC-A</text>
<text x="64.4" y="542.3" font-size="8.2" text-anchor="start" fill="#231f20" font-weight="normal" >CD34</text>
<line x1="87.4" y1="539.3" x2="138.0" y2="539.3" stroke="#111" stroke-width="0.8" />
<path d="M136.8 537.0999999999999L142.0 539.3L136.8 541.5Z" fill="#111"/>
<text transform="translate(154.5,491.5) rotate(-90)" x="0" y="2.87" font-size="8.2" text-anchor="middle" fill="#231f20">CD45RA</text>
<line x1="154.5" y1="474.1" x2="154.5" y2="434.2" stroke="#111" stroke-width="0.8" />
<path d="M152.3 435.4L154.5 430.2L156.7 435.4Z" fill="#111"/>
<text transform="translate(167.5,468.15) rotate(-90)" x="0" y="2.87" font-size="8.2" text-anchor="middle" fill="#231f20">PE-Texas Red-A</text>
<text x="230.55" y="531.6" font-size="8.2" text-anchor="middle" fill="#231f20" font-weight="normal" >FITC-A</text>
<text x="192.1" y="542.3" font-size="8.2" text-anchor="start" fill="#231f20" font-weight="normal" >Lin</text>
<line x1="205.29999999999998" y1="539.3" x2="266.59999999999997" y2="539.3" stroke="#111" stroke-width="0.8" />
<path d="M265.4 537.0999999999999L270.59999999999997 539.3L265.4 541.5Z" fill="#111"/>
<text transform="translate(279.1,495.2) rotate(-90)" x="0" y="2.87" font-size="8.2" text-anchor="middle" fill="#231f20">CD49f</text>
<line x1="279.1" y1="481.4" x2="279.1" y2="434.4" stroke="#111" stroke-width="0.8" />
<path d="M276.90000000000003 435.59999999999997L279.1 430.4L281.3 435.59999999999997Z" fill="#111"/>
<text transform="translate(292.0,468.4) rotate(-90)" x="0" y="2.87" font-size="8.2" text-anchor="middle" fill="#231f20">PerCP-Cy5-5-A</text>
<text x="355.6" y="531.6" font-size="8.2" text-anchor="middle" fill="#231f20" font-weight="normal" >PE-Cy7-A</text>
<text x="317.4" y="542.3" font-size="8.2" text-anchor="start" fill="#231f20" font-weight="normal" >CD90</text>
<line x1="340.3" y1="539.3" x2="390.8" y2="539.3" stroke="#111" stroke-width="0.8" />
<path d="M389.6 537.0999999999999L394.8 539.3L389.6 541.5Z" fill="#111"/>
<g clip-path="url(#p11)">
<path d="M65.50 232.80C67.20 232.43 67.73 232.72 70.20 231.80C72.67 230.88 77.13 228.05 80.30 227.30C83.47 226.55 87.15 227.85 89.20 227.30C91.25 226.75 91.55 225.15 92.60 224.00C93.65 222.85 94.02 220.83 95.50 220.40C96.98 219.97 100.15 220.88 101.50 221.40C102.85 221.92 103.53 222.58 103.60 223.50C103.67 224.42 102.82 226.12 101.90 226.90C100.98 227.68 99.02 227.63 98.10 228.20C97.18 228.77 96.62 229.10 96.40 230.30C96.18 231.50 97.23 233.43 96.80 235.40C96.37 237.37 94.72 239.70 93.80 242.10C92.88 244.50 92.27 247.48 91.30 249.80C90.33 252.12 93.22 254.97 88.00 256.00C82.78 257.03 64.67 259.67 60.00 256.00C55.33 252.33 59.08 237.87 60.00 234.00C60.92 230.13 63.80 233.17 65.50 232.80Z" fill="#000" fill-opacity="0.0" stroke="#222" stroke-width="0.55"/>
</g>
<g clip-path="url(#p11)">
<path d="M73.4 247.4L72.7 247.5L72.2 247.4L71.5 247.2L71.0 246.9L70.7 246.5L70.5 245.9L70.8 245.4L71.2 245.1L71.7 244.8L72.2 244.6L72.9 244.5L73.7 244.6L74.2 244.8L74.5 245.2L74.8 245.7L74.7 246.4L74.4 246.9L74.1 247.2L73.5 247.4Z" fill="#000" fill-opacity="0.14" stroke="#111" stroke-width="0.6" stroke-linejoin="round"/>
<path d="M74.2 247.9L73.4 248.1L72.7 248.1L71.9 248.0L71.3 247.9L70.7 247.7L70.2 247.6L69.6 247.4L68.9 247.2L68.4 247.0L68.1 246.7L68.1 245.9L68.4 245.6L68.9 245.2L69.4 245.0L69.9 244.7L70.4 244.5L70.9 244.3L71.4 244.1L72.2 243.9L72.7 243.9L73.4 243.9L73.9 244.0L74.4 244.2L74.9 244.4L75.3 244.9L75.6 245.4L75.7 245.9L75.6 246.4L75.4 246.9L75.0 247.4L74.7 247.7L74.2 247.9Z" fill="#000" fill-opacity="0.14" stroke="#111" stroke-width="0.6" stroke-linejoin="round"/>
<path d="M73.4 248.7L72.7 248.7L72.0 248.7L71.4 248.6L70.7 248.4L70.2 248.3L69.4 248.3L68.7 248.2L68.0 248.2L67.5 247.9L67.2 247.5L66.9 246.9L66.9 246.4L67.0 245.9L67.2 245.4L67.5 244.9L67.9 244.6L68.4 244.4L69.1 244.2L69.7 244.0L70.2 243.8L70.8 243.7L71.4 243.5L71.9 243.4L72.7 243.3L73.4 243.3L74.1 243.4L74.7 243.6L75.2 243.8L75.6 244.2L75.9 244.5L76.2 244.9L76.4 245.7L76.3 246.4L76.2 246.9L75.9 247.4L75.4 247.9L75.0 248.2L74.5 248.4L73.9 248.6L73.4 248.7Z" fill="#000" fill-opacity="0.14" stroke="#111" stroke-width="0.6" stroke-linejoin="round"/>
<path d="M73.7 249.2L72.9 249.2L72.2 249.2L71.6 249.2L70.9 249.1L70.2 249.0L69.4 249.0L68.7 249.0L67.9 249.0L67.4 248.9L66.9 248.5L66.6 248.2L66.4 247.6L66.2 246.9L66.2 246.2L66.4 245.4L66.6 244.9L66.9 244.4L67.2 244.2L67.7 243.8L68.2 243.6L68.9 243.5L69.4 243.4L70.2 243.2L70.7 243.1L71.4 242.9L71.9 242.8L72.7 242.7L73.4 242.7L74.2 242.8L74.7 242.9L75.2 243.2L75.7 243.4L76.2 243.8L76.5 244.2L76.8 244.7L77.0 245.2L77.1 245.9L77.0 246.7L76.8 247.2L76.5 247.7L76.2 248.0L75.7 248.4L75.3 248.7L74.7 248.9L74.2 249.1L73.7 249.2Z" fill="#000" fill-opacity="0.14" stroke="#111" stroke-width="0.6" stroke-linejoin="round"/>
<path d="M73.9 249.7L73.2 249.8L72.4 249.8L71.7 249.7L70.9 249.7L70.4 249.6L69.7 249.6L69.2 249.7L68.4 249.8L67.7 249.8L67.2 249.6L66.7 249.3L66.3 248.9L66.0 248.4L65.9 247.9L65.7 247.2L65.7 246.4L65.7 245.7L65.9 245.0L66.2 244.4L66.4 244.0L66.7 243.7L67.2 243.3L67.7 243.1L68.2 242.9L68.9 242.8L69.7 242.7L70.2 242.6L70.9 242.4L71.4 242.4L72.2 242.2L72.9 242.2L73.7 242.2L74.4 242.3L74.9 242.4L75.7 242.6L76.2 242.9L76.5 243.2L76.9 243.5L77.2 243.9L77.5 244.4L77.7 244.9L77.8 245.7L77.7 246.4L77.6 246.9L77.4 247.4L77.1 247.9L76.7 248.4L76.3 248.7L75.9 249.0L75.4 249.2L74.9 249.4L74.2 249.6Z" fill="#000" fill-opacity="0.14" stroke="#111" stroke-width="0.6" stroke-linejoin="round"/>
<path d="M68.9 250.4L68.2 250.6L67.4 250.5L66.9 250.4L66.4 250.0L66.1 249.7L65.7 249.2L65.5 248.7L65.4 248.2L65.2 247.4L65.2 246.7L65.2 246.3L65.2 245.7L65.4 244.9L65.5 244.4L65.8 243.9L66.1 243.4L66.4 243.0L66.9 242.7L67.4 242.4L67.9 242.2L68.5 242.2L69.2 242.1L69.9 242.0L70.5 241.9L71.2 241.8L71.9 241.7L72.4 241.6L73.2 241.6L73.9 241.6L74.4 241.7L75.2 241.8L75.7 241.9L76.4 242.2L76.9 242.4L77.3 242.7L77.7 243.0L77.9 243.4L78.2 243.9L78.4 244.7L78.5 245.2L78.5 245.9L78.4 246.5L78.2 247.2L78.0 247.7L77.7 248.2L77.4 248.5L77.0 248.9L76.7 249.2L76.2 249.5L75.7 249.8L75.2 250.0L74.5 250.2L73.9 250.3L73.2 250.3L72.4 250.3L71.7 250.3L70.9 250.3L70.2 250.3L69.4 250.3L68.9 250.4Z" fill="#000" fill-opacity="0.14" stroke="#111" stroke-width="0.6" stroke-linejoin="round"/>
<path d="M67.9 251.4L67.2 251.4L66.7 251.2L66.2 250.9L65.9 250.6L65.5 250.2L65.3 249.7L65.1 249.2L64.9 248.7L64.7 247.9L64.6 247.4L64.6 246.7L64.6 245.9L64.7 245.4L64.8 244.7L65.0 244.2L65.2 243.7L65.5 243.2L65.8 242.7L66.2 242.3L66.7 241.9L67.2 241.7L67.7 241.5L68.4 241.4L68.9 241.4L69.7 241.3L70.4 241.2L71.1 241.2L71.7 241.1L72.4 241.0L73.2 241.0L73.9 241.0L74.7 241.0L75.4 241.1L76.0 241.2L76.7 241.3L77.2 241.4L77.8 241.7L78.3 241.9L78.7 242.3L78.9 242.7L79.1 243.4L79.2 243.9L79.3 244.7L79.3 245.4L79.3 246.2L79.2 246.8L79.0 247.4L78.7 247.9L78.4 248.4L78.2 248.8L77.8 249.2L77.4 249.5L76.9 249.9L76.4 250.1L75.9 250.4L75.4 250.6L74.9 250.7L74.2 250.9L73.7 250.9L72.9 251.0L72.2 251.0L71.4 250.9L70.7 250.9L69.9 251.0L69.2 251.2L68.7 251.3L68.1 251.4Z" fill="#000" fill-opacity="0.14" stroke="#111" stroke-width="0.6" stroke-linejoin="round"/>
<path d="M68.2 252.2L67.4 252.3L66.8 252.2L66.3 251.9L65.9 251.6L65.5 251.2L65.2 250.7L64.9 250.2L64.7 249.7L64.5 249.2L64.3 248.7L64.2 247.9L64.1 247.4L64.1 246.7L64.1 245.9L64.2 245.4L64.3 244.7L64.4 244.2L64.7 243.5L64.9 243.0L65.2 242.5L65.4 242.2L65.9 241.7L66.2 241.4L66.7 241.1L67.2 240.9L67.9 240.7L68.7 240.7L69.4 240.7L69.9 240.6L70.7 240.6L71.4 240.5L72.2 240.4L72.7 240.4L73.4 240.3L74.2 240.3L74.9 240.3L75.7 240.4L76.4 240.4L76.9 240.4L77.7 240.5L78.4 240.5L78.9 240.7L79.6 240.9L79.9 241.2L80.2 241.7L80.3 242.4L80.3 243.2L80.2 243.9L80.2 244.7L80.1 245.2L80.1 245.9L80.0 246.7L79.8 247.2L79.7 247.7L79.4 248.2L79.1 248.7L78.7 249.2L78.4 249.5L78.0 249.9L77.6 250.2L77.2 250.5L76.7 250.7L76.2 251.0L75.6 251.2L74.9 251.4L74.4 251.4L73.7 251.5L72.9 251.6L72.2 251.6L71.4 251.6L70.7 251.6L70.2 251.7L69.4 251.8L68.9 252.0L68.3 252.2Z" fill="#000" fill-opacity="0.14" stroke="#111" stroke-width="0.6" stroke-linejoin="round"/>
<path d="M67.4 253.2L66.9 253.1L66.3 252.9L65.9 252.6L65.4 252.2L65.2 251.9L64.8 251.4L64.5 250.9L64.3 250.4L64.1 249.9L63.9 249.2L63.8 248.7L63.7 247.9L63.6 247.4L63.6 246.7L63.6 245.9L63.6 245.2L63.7 244.7L63.9 243.9L64.1 243.4L64.3 242.9L64.5 242.4L64.8 241.9L65.2 241.4L65.4 241.1L65.9 240.7L66.3 240.4L66.9 240.2L67.4 240.0L68.2 239.9L68.9 239.9L69.7 239.9L70.2 239.9L70.9 239.8L71.7 239.8L72.4 239.7L73.2 239.7L73.7 239.6L74.4 239.6L75.2 239.6L75.9 239.6L76.7 239.5L77.4 239.5L78.2 239.5L78.9 239.4L79.7 239.5L80.3 239.7L80.9 239.9L81.2 240.2L81.7 240.6L81.9 241.2L81.9 241.7L81.8 242.2L81.7 242.8L81.5 243.4L81.3 243.9L81.2 244.6L81.1 245.2L81.0 245.9L80.9 246.4L80.7 247.2L80.5 247.7L80.3 248.2L80.0 248.7L79.7 249.2L79.4 249.5L79.1 249.9L78.7 250.3L78.2 250.7L77.8 250.9L77.4 251.2L76.9 251.4L76.3 251.7L75.7 251.9L75.2 252.0L74.4 252.1L73.9 252.2L73.2 252.2L72.4 252.3L71.7 252.3L70.9 252.3L70.2 252.4L69.7 252.5L69.2 252.7L68.6 252.9L67.9 253.1L67.4 253.2Z" fill="#000" fill-opacity="0" stroke="#111" stroke-width="0.6" stroke-linejoin="round"/>
<path d="M67.9 254.2L67.2 254.2L66.6 254.2L66.0 253.9L65.6 253.7L65.2 253.2L64.9 252.9L64.5 252.4L64.3 251.9L64.0 251.4L63.8 250.9L63.6 250.4L63.4 249.8L63.2 249.2L63.1 248.7L63.0 247.9L62.9 247.2L62.9 246.4L62.9 245.7L63.0 244.9L63.2 244.2L63.3 243.7L63.4 243.2L63.7 242.6L63.9 242.0L64.2 241.6L64.4 241.2L64.8 240.7L65.2 240.2L65.5 239.9L65.9 239.6L66.4 239.3L66.9 239.2L67.7 239.0L68.4 239.0L69.2 239.0L69.9 239.1L70.7 239.0L71.4 239.0L72.2 238.9L72.7 238.9L73.4 238.8L74.2 238.8L74.9 238.8L75.7 238.7L76.3 238.7L76.9 238.6L77.7 238.5L78.4 238.4L79.2 238.4L79.9 238.4L80.7 238.6L81.2 238.7L81.7 238.9L82.2 239.2L82.7 239.6L82.9 239.9L83.2 240.4L83.4 241.2L83.3 241.9L83.2 242.5L82.9 243.1L82.7 243.7L82.5 244.2L82.3 244.7L82.1 245.2L82.0 245.9L81.9 246.4L81.7 247.2L81.6 247.7L81.4 248.2L81.1 248.7L80.8 249.2L80.5 249.7L80.2 250.1L79.8 250.4L79.4 250.8L79.0 251.2L78.6 251.4L78.2 251.7L77.7 251.9L77.2 252.2L76.6 252.4L75.9 252.6L75.4 252.8L74.7 252.9L74.2 253.0L73.4 253.0L72.7 253.1L71.9 253.1L71.2 253.1L70.7 253.2L69.9 253.4L69.4 253.6L68.9 253.8L68.4 254.0L67.9 254.2Z" fill="#000" fill-opacity="0" stroke="#111" stroke-width="0.6" stroke-linejoin="round"/>
<path d="M68.2 255.2L67.4 255.3L66.7 255.3L66.2 255.1L65.7 254.9L65.2 254.5L64.8 254.2L64.4 253.7L64.2 253.2L63.9 252.8L63.7 252.3L63.4 251.8L63.2 251.2L63.0 250.7L62.8 250.2L62.7 249.5L62.5 248.9L62.4 248.3L62.3 247.7L62.3 246.9L62.2 246.2L62.3 245.4L62.4 244.7L62.5 244.2L62.6 243.4L62.8 242.9L63.0 242.4L63.2 241.9L63.4 241.4L63.7 240.9L64.0 240.4L64.4 239.9L64.7 239.5L65.0 239.2L65.4 238.9L65.9 238.5L66.4 238.3L66.9 238.2L67.7 238.1L68.4 238.1L69.2 238.1L69.7 238.2L70.4 238.2L71.2 238.2L71.7 238.1L72.4 238.1L73.2 238.0L73.9 238.0L74.7 237.9L75.2 237.9L75.9 237.8L76.7 237.7L77.4 237.7L77.9 237.6L78.7 237.5L79.4 237.5L80.2 237.6L80.8 237.7L81.4 237.8L81.9 237.9L82.4 238.2L82.9 238.4L83.4 238.8L83.8 239.2L84.2 239.6L84.4 240.1L84.6 240.7L84.6 241.4L84.5 242.2L84.3 242.7L84.1 243.2L83.9 243.7L83.6 244.2L83.4 244.7L83.2 245.4L83.0 245.9L82.9 246.5L82.7 247.2L82.6 247.7L82.4 248.2L82.2 248.8L81.9 249.3L81.7 249.7L81.3 250.2L80.9 250.6L80.6 250.9L80.2 251.3L79.8 251.7L79.4 251.9L78.9 252.2L78.4 252.5L77.9 252.8L77.4 253.0L76.9 253.2L76.2 253.4L75.7 253.5L75.1 253.7L74.4 253.8L73.7 253.8L72.9 253.9L72.2 253.9L71.7 253.9L70.9 254.0L70.4 254.2L69.8 254.4L69.3 254.7L68.8 254.9L68.2 255.2Z" fill="#000" fill-opacity="0" stroke="#111" stroke-width="0.6" stroke-linejoin="round"/>
<path d="M67.7 256.5L66.9 256.5L66.3 256.4L65.7 256.1L65.3 255.9L64.9 255.5L64.5 255.2L64.2 254.7L63.9 254.3L63.6 253.9L63.4 253.4L63.1 252.9L62.9 252.4L62.7 251.8L62.4 251.2L62.2 250.7L62.1 250.2L61.9 249.4L61.8 248.9L61.7 248.2L61.6 247.7L61.5 246.9L61.5 246.2L61.5 245.4L61.6 244.7L61.7 244.2L61.9 243.4L62.0 242.9L62.2 242.4L62.4 241.8L62.7 241.3L62.9 240.7L63.2 240.3L63.4 239.9L63.7 239.4L64.1 238.9L64.4 238.6L64.8 238.2L65.2 237.9L65.7 237.5L66.2 237.3L66.7 237.1L67.4 237.0L68.2 237.1L68.9 237.1L69.4 237.2L70.2 237.3L70.9 237.3L71.7 237.3L72.4 237.2L73.2 237.2L73.7 237.2L74.4 237.1L75.2 237.0L75.9 237.0L76.4 236.9L77.2 236.8L77.9 236.7L78.7 236.7L79.4 236.7L80.2 236.7L80.9 236.8L81.5 236.9L82.2 237.1L82.7 237.2L83.2 237.5L83.7 237.8L84.2 238.1L84.5 238.4L84.9 238.8L85.2 239.2L85.4 239.7L85.7 240.2L85.8 240.9L85.8 241.7L85.7 242.2L85.4 242.9L85.2 243.4L85.0 243.9L84.7 244.4L84.5 244.9L84.3 245.4L84.2 246.0L84.0 246.7L83.8 247.2L83.7 247.8L83.5 248.4L83.2 248.9L83.0 249.4L82.7 249.9L82.4 250.3L82.2 250.7L81.7 251.2L81.4 251.5L81.0 251.9L80.7 252.2L80.2 252.5L79.7 252.9L79.2 253.2L78.7 253.4L78.2 253.6L77.7 253.9L77.2 254.0L76.7 254.2L75.9 254.4L75.4 254.5L74.7 254.6L74.1 254.7L73.4 254.7L72.7 254.7L71.9 254.8L71.2 254.9L70.7 255.1L70.2 255.3L69.7 255.6L69.2 255.8L68.7 256.1L68.2 256.3L67.7 256.5Z" fill="#000" fill-opacity="0" stroke="#111" stroke-width="0.6" stroke-linejoin="round"/>
<path d="M68.2 257.4L67.4 257.6L66.7 257.6L65.9 257.4L65.4 257.1L65.1 256.9L64.7 256.6L64.3 256.1L63.9 255.7L63.7 255.3L63.4 254.9L63.1 254.4L62.8 253.9L62.6 253.4L62.4 252.9L62.2 252.4L61.9 251.7L61.7 251.2L61.5 250.7L61.4 250.2L61.2 249.4L61.1 248.9L60.9 248.2L60.8 247.7L60.8 246.9L60.7 246.2L60.8 245.4L60.8 244.7L60.9 244.2L61.1 243.4L61.2 242.9L61.4 242.4L61.7 241.7L61.9 241.2L62.1 240.7L62.4 240.2L62.7 239.7L62.9 239.3L63.2 238.9L63.5 238.4L63.9 237.9L64.2 237.6L64.6 237.2L64.9 236.9L65.4 236.6L65.9 236.3L66.5 236.2L67.2 236.0L67.9 236.0L68.6 236.2L69.2 236.2L69.9 236.4L70.4 236.4L71.2 236.4L71.9 236.4L72.5 236.4L73.2 236.4L73.9 236.3L74.7 236.3L75.4 236.2L76.0 236.2L76.7 236.1L77.4 236.0L78.2 235.9L78.9 235.9L79.7 235.9L80.4 236.0L81.2 236.0L81.7 236.2L82.4 236.3L82.9 236.5L83.4 236.7L83.9 236.9L84.4 237.2L84.9 237.6L85.3 237.9L85.7 238.3L86.0 238.7L86.3 239.2L86.5 239.7L86.7 240.2L86.8 240.9L86.8 241.7L86.7 242.4L86.5 242.9L86.3 243.4L86.1 243.9L85.8 244.4L85.6 244.9L85.4 245.4L85.2 246.2L85.0 246.7L84.9 247.2L84.7 247.9L84.5 248.4L84.3 248.9L84.1 249.4L83.8 249.9L83.5 250.4L83.2 250.9L82.9 251.3L82.6 251.7L82.2 252.1L81.8 252.4L81.4 252.7L80.9 253.1L80.5 253.4L80.1 253.7L79.6 253.9L79.1 254.2L78.6 254.4L77.9 254.7L77.4 254.8L76.9 255.0L76.2 255.2L75.7 255.3L74.9 255.4L74.4 255.5L73.7 255.5L72.9 255.6L72.2 255.6L71.7 255.7L71.0 255.9L70.4 256.1L70.0 256.4L69.6 256.6L69.2 256.9L68.7 257.2L68.2 257.4Z" fill="#000" fill-opacity="0" stroke="#111" stroke-width="0.6" stroke-linejoin="round"/>
</g>
<path d="M66 237V251.2H84" fill="none" stroke="#000" stroke-width="1.8"/>
<g clip-path="url(#p12)">
<path d="M188.00 238.00C189.50 234.50 194.43 235.70 197.00 235.00C199.57 234.30 201.58 233.95 203.40 233.80C205.22 233.65 206.45 233.30 207.90 234.10C209.35 234.90 211.28 236.95 212.10 238.60C212.92 240.25 212.68 241.10 212.80 244.00C212.92 246.90 216.93 254.00 212.80 256.00C208.67 258.00 192.13 259.00 188.00 256.00C183.87 253.00 186.50 241.50 188.00 238.00Z" fill="#000" fill-opacity="0.0" stroke="#333" stroke-width="0.55"/>
</g>
<g clip-path="url(#p12)">
<path d="M201.8 250.1L201.2 250.1L200.6 249.9L200.2 249.6L199.8 249.2L199.6 248.6L199.7 247.8L200.0 247.3L200.3 247.0L200.7 246.6L201.1 246.3L201.8 246.1L202.6 246.3L202.9 246.6L203.2 247.1L203.4 247.6L203.4 248.3L203.3 248.8L203.0 249.3L202.6 249.8L202.1 250.1Z" fill="#000" fill-opacity="0.035" stroke="#444" stroke-width="0.5" stroke-linejoin="round"/>
<path d="M202.6 250.9L201.8 251.0L201.1 250.9L200.6 250.8L200.1 250.5L199.6 250.2L199.2 249.8L198.8 249.4L198.6 248.8L198.7 248.1L198.9 247.6L199.2 247.1L199.6 246.6L199.8 246.3L200.3 245.8L200.6 245.6L201.1 245.3L201.8 245.2L202.6 245.3L203.1 245.5L203.4 245.8L203.8 246.3L204.0 246.8L204.2 247.3L204.2 248.1L204.1 248.8L204.0 249.3L203.7 249.8L203.3 250.3L203.0 250.6L202.6 250.9Z" fill="#000" fill-opacity="0.035" stroke="#444" stroke-width="0.5" stroke-linejoin="round"/>
<path d="M202.6 251.7L201.8 251.8L201.1 251.7L200.6 251.5L200.1 251.3L199.6 251.0L199.1 250.7L198.6 250.3L198.3 250.0L197.9 249.6L197.7 249.1L197.7 248.3L197.9 247.8L198.2 247.3L198.5 246.8L198.8 246.5L199.1 246.1L199.6 245.6L199.8 245.3L200.3 244.9L200.8 244.6L201.3 244.4L201.8 244.3L202.4 244.3L203.1 244.6L203.5 244.8L203.8 245.1L204.2 245.6L204.5 246.1L204.7 246.6L204.8 247.1L204.9 247.8L204.8 248.6L204.8 249.1L204.6 249.7L204.3 250.2L204.1 250.6L203.6 251.1L203.3 251.3L202.8 251.6Z" fill="#000" fill-opacity="0.035" stroke="#444" stroke-width="0.5" stroke-linejoin="round"/>
<path d="M202.8 252.4L202.1 252.5L201.3 252.5L200.8 252.3L200.2 252.1L199.7 251.8L199.3 251.6L198.8 251.3L198.3 250.9L197.9 250.6L197.6 250.3L197.1 249.8L196.8 249.3L196.7 248.8L196.8 248.3L197.1 247.8L197.4 247.3L197.7 246.8L198.1 246.5L198.3 246.1L198.7 245.6L199.1 245.2L199.4 244.8L199.8 244.4L200.2 244.1L200.6 243.8L201.3 243.6L201.8 243.5L202.6 243.6L203.1 243.7L203.6 244.0L204.0 244.3L204.3 244.6L204.7 245.1L205.0 245.6L205.2 246.1L205.3 246.6L205.5 247.3L205.5 248.1L205.4 248.8L205.3 249.5L205.1 250.1L204.9 250.6L204.6 251.1L204.3 251.4L203.8 251.8L203.4 252.1L202.9 252.3Z" fill="#000" fill-opacity="0.035" stroke="#444" stroke-width="0.5" stroke-linejoin="round"/>
<path d="M203.1 253.1L202.3 253.3L201.6 253.3L200.8 253.1L200.3 252.9L199.8 252.7L199.3 252.4L198.9 252.1L198.5 251.8L198.1 251.5L197.6 251.1L197.2 250.8L196.8 250.5L196.4 250.1L196.1 249.7L195.8 249.1L195.8 248.8L196.0 248.1L196.3 247.6L196.6 247.3L196.9 246.8L197.3 246.4L197.6 246.1L197.9 245.6L198.3 245.1L198.6 244.8L198.9 244.3L199.3 244.0L199.7 243.6L200.1 243.3L200.6 243.0L201.1 242.8L201.8 242.7L202.6 242.7L203.1 242.9L203.6 243.1L204.1 243.4L204.6 243.8L204.8 244.1L205.2 244.6L205.4 245.1L205.7 245.6L205.8 246.1L206.0 246.8L206.1 247.3L206.1 248.1L206.1 248.8L206.0 249.3L205.8 250.0L205.6 250.6L205.3 251.1L205.1 251.5L204.8 251.9L204.3 252.3L204.0 252.6L203.6 252.9L203.1 253.1Z" fill="#000" fill-opacity="0.035" stroke="#444" stroke-width="0.5" stroke-linejoin="round"/>
<path d="M202.1 254.1L201.6 254.1L200.8 253.9L200.3 253.7L199.8 253.5L199.3 253.2L198.8 252.9L198.5 252.6L198.1 252.3L197.6 251.9L197.1 251.6L196.8 251.3L196.3 251.0L195.9 250.6L195.6 250.3L195.2 249.8L194.9 249.3L194.9 248.6L195.1 248.1L195.4 247.6L195.8 247.1L196.1 246.8L196.5 246.3L196.8 246.0L197.1 245.6L197.5 245.1L197.8 244.7L198.1 244.3L198.4 243.8L198.8 243.4L199.1 243.1L199.6 242.7L200.1 242.4L200.6 242.2L201.1 242.0L201.7 241.8L202.3 241.8L202.8 241.9L203.4 242.1L203.9 242.3L204.3 242.6L204.8 243.0L205.1 243.3L205.5 243.8L205.8 244.3L206.1 244.8L206.3 245.3L206.5 245.8L206.6 246.3L206.7 247.1L206.8 247.8L206.7 248.6L206.7 249.3L206.5 249.8L206.3 250.6L206.1 251.1L205.8 251.6L205.6 252.1L205.3 252.4L204.9 252.8L204.6 253.2L204.1 253.5L203.6 253.8L203.1 253.9L202.3 254.1Z" fill="#000" fill-opacity="0.035" stroke="#444" stroke-width="0.5" stroke-linejoin="round"/>
<path d="M203.1 254.9L202.3 255.0L201.6 255.0L200.8 254.9L200.3 254.7L199.8 254.5L199.3 254.2L198.8 253.8L198.5 253.6L198.1 253.2L197.6 252.8L197.3 252.6L196.8 252.2L196.3 251.8L196.0 251.6L195.6 251.3L195.1 250.9L194.8 250.6L194.3 250.1L194.1 249.6L193.9 249.1L194.0 248.3L194.2 247.8L194.6 247.4L194.8 247.1L195.3 246.6L195.6 246.3L196.0 245.8L196.3 245.5L196.6 245.1L197.0 244.6L197.3 244.1L197.6 243.7L197.8 243.3L198.2 242.8L198.6 242.5L199.0 242.1L199.3 241.8L199.8 241.5L200.3 241.2L200.8 241.0L201.6 240.9L202.1 240.8L202.6 240.8L203.3 241.0L203.8 241.2L204.3 241.4L204.8 241.8L205.1 242.1L205.6 242.5L205.8 242.8L206.2 243.3L206.5 243.8L206.7 244.3L206.9 244.8L207.1 245.3L207.3 246.1L207.4 246.6L207.5 247.3L207.5 248.1L207.5 248.8L207.4 249.6L207.2 250.1L207.1 250.8L206.8 251.3L206.6 251.8L206.3 252.3L206.1 252.7L205.8 253.1L205.3 253.6L205.0 253.8L204.6 254.2L204.1 254.5L203.6 254.7L203.1 254.9Z" fill="#000" fill-opacity="0.035" stroke="#444" stroke-width="0.5" stroke-linejoin="round"/>
<path d="M202.6 255.9L201.8 255.9L201.3 255.8L200.6 255.7L200.1 255.5L199.6 255.3L199.1 255.0L198.6 254.6L198.2 254.3L197.8 254.0L197.4 253.6L197.1 253.3L196.6 252.8L196.3 252.6L195.8 252.2L195.3 251.9L194.9 251.6L194.6 251.3L194.1 250.9L193.8 250.6L193.4 250.1L193.2 249.6L193.1 249.0L193.1 248.6L193.3 248.0L193.6 247.6L193.9 247.1L194.3 246.7L194.6 246.3L195.1 245.9L195.4 245.6L195.8 245.1L196.1 244.7L196.3 244.3L196.6 243.8L196.9 243.3L197.3 242.8L197.6 242.5L197.9 242.1L198.3 241.6L198.6 241.3L199.1 241.0L199.6 240.6L200.1 240.4L200.6 240.2L201.1 240.0L201.7 239.8L202.3 239.8L203.0 239.8L203.6 240.0L204.1 240.2L204.6 240.4L205.1 240.8L205.4 241.1L205.8 241.5L206.1 241.8L206.5 242.3L206.8 242.8L207.1 243.3L207.3 243.8L207.5 244.3L207.7 244.8L207.8 245.3L208.0 246.1L208.1 246.6L208.2 247.3L208.2 248.1L208.1 248.8L208.1 249.6L208.0 250.1L207.8 250.7L207.6 251.3L207.4 251.8L207.2 252.3L206.9 252.8L206.6 253.3L206.3 253.7L205.9 254.1L205.6 254.5L205.1 254.8L204.7 255.1L204.3 255.3L203.7 255.6L203.1 255.8L202.6 255.9Z" fill="#000" fill-opacity="0.035" stroke="#444" stroke-width="0.5" stroke-linejoin="round"/>
<path d="M202.3 256.9L201.6 256.9L201.1 256.8L200.3 256.6L199.8 256.4L199.3 256.2L198.8 255.9L198.4 255.6L198.1 255.3L197.6 254.9L197.3 254.6L196.8 254.1L196.5 253.8L196.1 253.4L195.7 253.1L195.3 252.7L194.8 252.3L194.5 252.1L194.1 251.8L193.6 251.4L193.3 251.1L192.8 250.6L192.6 250.2L192.3 249.7L192.2 249.1L192.3 248.3L192.5 247.8L192.8 247.3L193.1 247.0L193.4 246.6L193.8 246.2L194.2 245.8L194.6 245.4L194.9 245.1L195.2 244.6L195.6 244.1L195.8 243.7L196.1 243.3L196.3 242.8L196.6 242.3L197.0 241.8L197.3 241.4L197.6 241.1L198.1 240.6L198.4 240.3L198.8 240.0L199.3 239.7L199.8 239.4L200.3 239.1L200.8 238.9L201.3 238.8L202.1 238.6L202.7 238.6L203.1 238.6L203.8 238.7L204.3 238.9L204.8 239.1L205.3 239.4L205.8 239.8L206.1 240.1L206.5 240.6L206.8 241.1L207.1 241.5L207.3 241.9L207.6 242.4L207.8 243.0L208.1 243.5L208.3 244.1L208.4 244.6L208.6 245.1L208.7 245.8L208.8 246.3L208.9 247.1L208.9 247.8L208.9 248.6L208.9 249.3L208.8 249.8L208.6 250.6L208.5 251.1L208.3 251.7L208.1 252.3L207.8 252.8L207.6 253.3L207.3 253.7L207.0 254.1L206.6 254.6L206.3 255.0L205.9 255.3L205.6 255.6L205.1 256.0L204.6 256.2L204.1 256.5L203.6 256.6L202.8 256.8L202.3 256.9Z" fill="#000" fill-opacity="0" stroke="#444" stroke-width="0.5" stroke-linejoin="round"/>
<path d="M203.3 257.9L202.6 258.0L201.8 258.0L201.1 257.9L200.6 257.8L199.8 257.6L199.3 257.4L198.8 257.1L198.3 256.9L198.0 256.6L197.6 256.3L197.1 255.8L196.8 255.5L196.4 255.1L196.1 254.7L195.7 254.3L195.3 253.9L195.0 253.6L194.6 253.2L194.2 252.8L193.8 252.5L193.3 252.2L192.9 251.8L192.6 251.5L192.1 251.1L191.8 250.7L191.6 250.3L191.3 249.7L191.2 249.1L191.3 248.3L191.4 247.8L191.7 247.3L192.1 246.9L192.3 246.6L192.8 246.1L193.1 245.8L193.5 245.3L193.8 245.1L194.2 244.6L194.5 244.1L194.8 243.6L195.1 243.2L195.3 242.7L195.6 242.3L195.8 241.8L196.1 241.3L196.5 240.8L196.8 240.4L197.1 240.1L197.6 239.6L197.9 239.3L198.3 239.0L198.8 238.6L199.2 238.3L199.6 238.1L200.1 237.8L200.7 237.6L201.3 237.4L201.8 237.3L202.6 237.1L203.2 237.1L203.7 237.1L204.3 237.2L205.1 237.3L205.6 237.5L206.1 237.7L206.6 238.1L206.8 238.3L207.2 238.8L207.5 239.3L207.7 239.8L207.9 240.3L208.1 240.8L208.3 241.4L208.6 242.0L208.8 242.6L208.9 243.1L209.1 243.6L209.3 244.3L209.5 244.8L209.6 245.3L209.7 246.1L209.8 246.8L209.8 247.3L209.8 248.1L209.8 248.8L209.8 249.3L209.7 250.1L209.6 250.7L209.4 251.3L209.2 251.8L209.1 252.4L208.8 253.0L208.6 253.5L208.3 254.0L208.1 254.4L207.7 254.8L207.3 255.3L207.1 255.7L206.6 256.1L206.3 256.4L205.8 256.8L205.3 257.1L204.8 257.3L204.3 257.6L203.8 257.7L203.3 257.9Z" fill="#000" fill-opacity="0" stroke="#444" stroke-width="0.5" stroke-linejoin="round"/>
<path d="M203.1 259.1L202.3 259.2L201.6 259.2L200.9 259.1L200.3 259.0L199.8 258.8L199.2 258.6L198.7 258.4L198.2 258.1L197.8 257.8L197.3 257.4L196.9 257.1L196.6 256.8L196.2 256.4L195.8 255.9L195.5 255.6L195.1 255.1L194.8 254.7L194.5 254.3L194.1 253.8L193.8 253.6L193.3 253.2L192.9 252.8L192.6 252.5L192.1 252.1L191.7 251.8L191.3 251.4L191.0 251.1L190.7 250.6L190.5 250.1L190.3 249.6L190.2 248.8L190.3 248.3L190.6 247.6L190.8 247.2L191.1 246.8L191.4 246.3L191.8 246.0L192.2 245.6L192.6 245.2L192.9 244.8L193.3 244.3L193.6 243.9L193.8 243.5L194.1 243.1L194.3 242.6L194.6 242.1L194.8 241.6L195.1 241.1L195.4 240.6L195.7 240.1L196.1 239.7L196.3 239.3L196.8 238.8L197.1 238.6L197.6 238.1L197.9 237.8L198.3 237.5L198.8 237.2L199.3 236.9L199.8 236.6L200.3 236.4L200.8 236.2L201.3 236.0L202.1 235.9L202.6 235.8L203.3 235.7L204.1 235.7L204.8 235.7L205.6 235.8L206.1 235.9L206.7 236.1L207.3 236.3L207.7 236.6L208.1 236.8L208.6 237.3L208.8 237.6L209.1 238.1L209.3 238.8L209.3 239.3L209.4 240.1L209.5 240.8L209.6 241.3L209.7 242.1L209.9 242.6L210.1 243.3L210.2 243.8L210.3 244.3L210.5 245.1L210.6 245.6L210.7 246.3L210.7 247.1L210.8 247.8L210.7 248.6L210.7 249.3L210.6 250.1L210.5 250.6L210.4 251.3L210.2 251.8L210.1 252.4L209.8 253.1L209.6 253.6L209.3 254.1L209.1 254.6L208.8 255.0L208.6 255.4L208.2 255.8L207.8 256.4L207.6 256.6L207.1 257.1L206.8 257.4L206.3 257.7L205.8 258.1L205.3 258.4L204.8 258.6L204.3 258.8L203.8 258.9L203.1 259.1Z" fill="#000" fill-opacity="0" stroke="#444" stroke-width="0.5" stroke-linejoin="round"/>
</g>
<path d="M192.6 244V249.2H209" fill="none" stroke="#000" stroke-width="1.6"/>
<g clip-path="url(#p13)">
<path d="M333.8 238.8L333.2 238.8L332.6 238.6L332.2 238.3L331.9 237.8L331.9 237.1L332.0 236.6L332.4 236.1L332.8 235.7L333.2 235.4L333.8 235.3L334.5 235.2L335.0 235.3L335.5 235.6L336.0 236.1L336.1 236.6L336.0 237.3L335.8 237.8L335.5 238.1L335.0 238.5L334.5 238.7L333.8 238.8Z" fill="#000" fill-opacity="0.14" stroke="#111" stroke-width="0.6" stroke-linejoin="round"/>
<path d="M334.2 239.6L333.5 239.6L332.8 239.6L332.2 239.4L331.8 239.1L331.4 238.8L331.0 238.3L330.9 237.8L330.9 237.1L331.0 236.6L331.3 236.1L331.7 235.6L332.0 235.3L332.5 234.9L333.0 234.7L333.5 234.5L334.2 234.4L335.0 234.4L335.6 234.6L336.1 234.8L336.5 235.1L336.9 235.6L337.1 236.1L337.1 236.8L337.0 237.4L336.8 237.9L336.5 238.3L336.0 238.7L335.6 239.1L335.1 239.3L334.5 239.5Z" fill="#000" fill-opacity="0.14" stroke="#111" stroke-width="0.6" stroke-linejoin="round"/>
<path d="M333.8 240.3L333.0 240.3L332.5 240.2L331.8 240.1L331.3 239.8L330.9 239.6L330.5 239.1L330.2 238.7L330.0 238.1L330.0 237.6L330.0 237.1L330.2 236.4L330.5 235.9L330.8 235.5L331.2 235.1L331.5 234.8L332.0 234.4L332.5 234.1L333.0 233.9L333.5 233.8L334.2 233.7L335.0 233.7L335.7 233.8L336.2 234.0L336.8 234.3L337.1 234.6L337.5 235.0L337.8 235.4L337.9 236.1L338.0 236.8L337.8 237.6L337.5 238.1L337.2 238.5L337.0 238.8L336.5 239.2L336.1 239.6L335.6 239.8L335.0 240.1L334.5 240.2L333.9 240.3Z" fill="#000" fill-opacity="0.14" stroke="#111" stroke-width="0.6" stroke-linejoin="round"/>
<path d="M334.5 240.8L333.8 241.0L333.0 241.0L332.2 240.9L331.8 240.8L331.1 240.6L330.7 240.3L330.2 240.0L329.8 239.6L329.5 239.1L329.3 238.6L329.2 238.1L329.2 237.3L329.3 236.8L329.5 236.2L329.8 235.8L330.1 235.3L330.5 234.8L330.8 234.5L331.2 234.1L331.8 233.8L332.2 233.6L332.8 233.4L333.2 233.2L334.0 233.1L334.5 233.0L335.2 233.0L335.8 233.1L336.5 233.3L337.0 233.5L337.5 233.8L337.8 234.1L338.2 234.6L338.5 235.1L338.6 235.6L338.8 236.3L338.7 236.6L338.6 237.3L338.5 237.8L338.2 238.3L337.9 238.8L337.5 239.2L337.1 239.6L336.8 239.9L336.2 240.2L335.8 240.4L335.2 240.6L334.7 240.8Z" fill="#000" fill-opacity="0.14" stroke="#111" stroke-width="0.6" stroke-linejoin="round"/>
<path d="M334.0 241.6L333.2 241.6L332.5 241.6L332.0 241.5L331.2 241.4L330.8 241.2L330.2 241.0L329.8 240.7L329.3 240.3L329.0 240.0L328.7 239.6L328.5 239.1L328.3 238.3L328.3 237.6L328.5 236.8L328.7 236.3L328.9 235.8L329.2 235.3L329.5 234.9L329.8 234.6L330.2 234.1L330.6 233.8L331.0 233.5L331.5 233.2L332.0 233.0L332.5 232.8L333.2 232.6L333.8 232.4L334.5 232.4L335.2 232.3L336.0 232.4L336.7 232.6L337.2 232.8L337.8 233.0L338.2 233.3L338.5 233.6L338.9 234.1L339.1 234.6L339.3 235.1L339.5 235.7L339.5 236.3L339.5 236.8L339.3 237.6L339.1 238.1L338.9 238.6L338.5 239.1L338.2 239.4L337.8 239.8L337.5 240.1L337.0 240.5L336.5 240.8L336.0 241.0L335.5 241.2L335.0 241.4L334.2 241.5Z" fill="#000" fill-opacity="0.14" stroke="#111" stroke-width="0.6" stroke-linejoin="round"/>
<path d="M333.5 242.3L332.8 242.3L332.2 242.3L331.5 242.2L330.8 242.1L330.2 241.9L329.8 241.7L329.2 241.4L328.8 241.1L328.3 240.8L328.0 240.5L327.7 240.1L327.5 239.6L327.3 238.8L327.4 238.1L327.5 237.3L327.6 236.8L327.8 236.3L328.0 235.8L328.3 235.3L328.6 234.8L329.0 234.4L329.3 234.1L329.8 233.6L330.1 233.3L330.5 233.0L331.0 232.7L331.5 232.5L332.0 232.3L332.6 232.1L333.2 231.9L333.8 231.8L334.5 231.7L335.2 231.6L336.0 231.6L336.8 231.7L337.2 231.9L337.8 232.1L338.3 232.3L338.8 232.6L339.2 233.1L339.5 233.4L339.8 233.8L340.0 234.3L340.2 235.1L340.3 235.6L340.4 236.3L340.3 237.1L340.2 237.6L340.0 238.1L339.7 238.6L339.4 239.1L339.1 239.6L338.8 239.9L338.3 240.3L338.0 240.6L337.5 241.0L337.0 241.3L336.5 241.5L336.0 241.7L335.5 241.9L335.0 242.1L334.2 242.2L333.7 242.3Z" fill="#000" fill-opacity="0.14" stroke="#111" stroke-width="0.6" stroke-linejoin="round"/>
<path d="M333.8 243.1L333.0 243.1L332.2 243.1L331.7 243.1L331.0 243.0L330.2 242.8L329.8 242.7L329.2 242.5L328.6 242.3L328.0 242.1L327.5 241.8L327.0 241.6L326.7 241.3L326.2 240.8L326.0 240.3L326.0 239.8L326.0 239.1L326.1 238.6L326.2 237.9L326.4 237.3L326.6 236.8L326.8 236.3L327.0 235.8L327.3 235.3L327.6 234.8L328.0 234.3L328.2 234.0L328.7 233.6L329.0 233.2L329.5 232.8L329.9 232.6L330.2 232.3L330.8 232.0L331.2 231.8L331.8 231.5L332.4 231.3L333.0 231.1L333.5 231.0L334.2 230.9L335.0 230.8L335.5 230.8L336.2 230.8L336.8 230.8L337.5 230.9L338.2 231.1L338.8 231.2L339.2 231.5L339.7 231.8L340.0 232.1L340.3 232.6L340.6 233.1L340.8 233.6L341.0 234.1L341.2 234.8L341.3 235.3L341.3 236.1L341.2 236.7L341.1 237.3L341.0 237.8L340.8 238.4L340.5 238.9L340.2 239.3L339.9 239.8L339.5 240.3L339.2 240.6L338.8 241.0L338.3 241.3L338.0 241.6L337.5 241.8L337.0 242.1L336.5 242.4L336.0 242.6L335.2 242.8L334.8 242.9L334.0 243.0Z" fill="#000" fill-opacity="0.14" stroke="#111" stroke-width="0.6" stroke-linejoin="round"/>
<path d="M333.5 243.8L332.8 243.9L332.0 243.8L331.4 243.8L330.8 243.7L330.0 243.6L329.5 243.5L328.8 243.4L328.2 243.3L327.5 243.1L326.9 243.1L326.2 243.0L325.5 242.8L325.0 242.6L324.5 242.3L324.2 242.1L324.0 241.6L323.9 240.8L324.1 240.3L324.2 239.8L324.5 239.2L324.8 238.6L325.0 238.1L325.2 237.6L325.5 237.1L325.7 236.6L326.0 236.1L326.2 235.6L326.5 235.1L326.8 234.7L327.0 234.3L327.4 233.8L327.8 233.4L328.1 233.1L328.5 232.7L329.0 232.3L329.3 232.1L329.8 231.8L330.2 231.5L330.8 231.2L331.2 231.0L331.8 230.8L332.4 230.6L333.0 230.4L333.5 230.3L334.2 230.1L335.0 230.1L335.5 230.0L336.2 230.0L337.0 230.0L337.8 230.0L338.5 230.0L339.0 230.1L339.6 230.3L340.2 230.6L340.5 230.8L341.0 231.3L341.2 231.7L341.5 232.3L341.7 232.8L341.8 233.3L342.0 234.0L342.1 234.6L342.2 235.3L342.2 236.1L342.1 236.8L342.0 237.4L341.8 238.1L341.6 238.6L341.3 239.1L341.0 239.6L340.8 240.0L340.5 240.3L340.0 240.8L339.8 241.1L339.2 241.5L338.9 241.8L338.5 242.1L338.0 242.4L337.5 242.7L337.0 242.9L336.5 243.1L336.0 243.3L335.2 243.5L334.8 243.6L334.0 243.8L333.5 243.8Z" fill="#000" fill-opacity="0.14" stroke="#111" stroke-width="0.6" stroke-linejoin="round"/>
<path d="M334.0 244.6L333.2 244.7L332.5 244.7L331.8 244.7L331.0 244.6L330.2 244.6L329.8 244.5L329.0 244.4L328.2 244.4L327.5 244.3L326.8 244.3L326.0 244.4L325.2 244.3L324.8 244.3L324.0 244.1L323.5 243.9L323.0 243.6L322.7 243.3L322.4 242.8L322.2 242.3L322.1 241.6L322.2 240.8L322.3 240.3L322.6 239.8L322.8 239.3L323.1 238.8L323.5 238.3L323.8 237.9L324.0 237.5L324.3 237.1L324.6 236.6L324.9 236.1L325.1 235.6L325.5 235.1L325.8 234.6L326.0 234.2L326.3 233.8L326.7 233.3L327.0 233.0L327.4 232.6L327.8 232.3L328.2 231.8L328.6 231.6L329.0 231.3L329.5 231.0L330.0 230.7L330.5 230.4L331.0 230.2L331.5 230.0L332.2 229.8L332.8 229.6L333.2 229.5L334.0 229.4L334.5 229.3L335.2 229.2L336.0 229.1L336.6 229.1L337.2 229.0L338.0 229.0L338.8 229.0L339.5 229.0L340.0 229.1L340.8 229.3L341.2 229.5L341.7 229.8L342.0 230.1L342.3 230.6L342.5 231.1L342.7 231.8L342.8 232.3L342.9 233.1L343.0 233.6L343.1 234.3L343.2 235.1L343.2 235.8L343.1 236.6L343.0 237.2L342.9 237.8L342.7 238.3L342.5 238.8L342.2 239.3L341.9 239.8L341.6 240.3L341.2 240.7L340.9 241.1L340.5 241.5L340.2 241.8L339.8 242.2L339.2 242.5L338.9 242.8L338.5 243.1L338.0 243.3L337.5 243.6L336.9 243.8L336.3 244.1L335.8 244.2L335.2 244.3L334.5 244.5L334.0 244.6Z" fill="#000" fill-opacity="0" stroke="#111" stroke-width="0.6" stroke-linejoin="round"/>
<path d="M333.8 245.6L333.0 245.6L332.2 245.7L331.5 245.7L330.8 245.6L330.0 245.6L329.3 245.6L328.8 245.5L328.0 245.5L327.5 245.6L326.8 245.6L326.0 245.7L325.2 245.7L324.5 245.7L323.8 245.6L323.2 245.4L322.8 245.2L322.2 244.9L321.8 244.6L321.5 244.2L321.2 243.8L320.9 243.3L320.7 242.8L320.6 242.1L320.6 241.3L320.7 240.6L320.9 240.1L321.1 239.6L321.4 239.1L321.7 238.6L322.0 238.1L322.2 237.8L322.6 237.3L323.0 236.8L323.2 236.4L323.5 236.1L323.8 235.6L324.2 235.1L324.5 234.6L324.8 234.2L325.0 233.8L325.4 233.3L325.8 232.9L326.0 232.6L326.5 232.1L326.8 231.8L327.2 231.4L327.7 231.1L328.0 230.8L328.5 230.5L329.0 230.2L329.5 229.9L330.0 229.6L330.5 229.4L331.0 229.2L331.5 229.0L332.2 228.8L332.8 228.7L333.2 228.5L334.0 228.4L334.5 228.3L335.2 228.2L336.0 228.1L336.5 228.0L337.2 227.9L338.0 227.9L338.8 227.8L339.5 227.8L340.2 227.9L341.0 228.0L341.5 228.1L342.0 228.3L342.5 228.6L343.0 229.0L343.3 229.3L343.7 229.8L343.9 230.3L344.0 230.8L344.2 231.6L344.2 232.3L344.2 233.1L344.3 233.6L344.3 234.3L344.3 235.1L344.3 235.8L344.3 236.6L344.2 237.1L344.0 237.8L343.8 238.3L343.6 238.8L343.4 239.3L343.1 239.8L342.8 240.3L342.5 240.8L342.2 241.1L341.8 241.6L341.5 241.9L341.1 242.3L340.8 242.6L340.2 243.0L339.8 243.3L339.5 243.6L339.0 243.8L338.5 244.1L338.0 244.4L337.5 244.6L337.0 244.8L336.2 245.0L335.8 245.2L335.2 245.3L334.5 245.5L333.9 245.6Z" fill="#000" fill-opacity="0" stroke="#111" stroke-width="0.6" stroke-linejoin="round"/>
<path d="M326.5 246.8L325.8 246.9L325.0 246.9L324.2 246.9L323.8 246.8L323.0 246.6L322.5 246.5L322.0 246.2L321.5 245.9L321.0 245.6L320.8 245.3L320.3 244.8L320.0 244.3L319.8 243.8L319.6 243.3L319.4 242.8L319.3 242.1L319.3 241.3L319.5 240.6L319.6 240.1L319.8 239.6L320.0 239.1L320.3 238.6L320.6 238.1L321.0 237.6L321.2 237.1L321.5 236.8L321.9 236.3L322.2 235.8L322.5 235.5L322.8 235.1L323.2 234.6L323.5 234.1L323.8 233.7L324.1 233.3L324.5 232.8L324.8 232.5L325.1 232.1L325.5 231.6L325.9 231.3L326.2 230.9L326.7 230.6L327.0 230.3L327.5 230.0L328.0 229.6L328.5 229.3L329.0 229.1L329.5 228.8L330.0 228.6L330.5 228.4L331.0 228.2L331.5 228.0L332.2 227.8L332.8 227.7L333.3 227.6L334.0 227.4L334.6 227.3L335.2 227.2L336.0 227.1L336.5 227.0L337.2 226.9L338.0 226.9L338.8 226.8L339.5 226.8L340.2 226.8L341.0 226.9L341.7 227.1L342.2 227.2L342.8 227.4L343.2 227.7L343.8 228.0L344.1 228.3L344.5 228.7L344.8 229.1L345.1 229.6L345.2 230.1L345.4 230.8L345.5 231.6L345.5 232.2L345.5 232.8L345.5 233.6L345.5 234.3L345.5 235.1L345.5 235.8L345.5 236.3L345.4 237.1L345.2 237.6L345.0 238.3L344.8 238.8L344.6 239.3L344.4 239.8L344.1 240.3L343.8 240.8L343.5 241.2L343.2 241.6L342.8 242.1L342.5 242.3L342.0 242.8L341.7 243.1L341.2 243.5L340.8 243.8L340.5 244.1L340.0 244.4L339.5 244.7L339.0 244.9L338.5 245.2L338.0 245.4L337.5 245.6L337.0 245.8L336.2 246.0L335.8 246.2L335.2 246.3L334.5 246.4L333.8 246.5L333.2 246.6L332.5 246.6L331.8 246.7L331.0 246.7L330.2 246.6L329.5 246.6L328.8 246.6L328.0 246.7L327.2 246.7L326.6 246.8Z" fill="#000" fill-opacity="0" stroke="#111" stroke-width="0.6" stroke-linejoin="round"/>
<path d="M328.0 247.8L327.2 247.9L326.5 248.0L325.8 248.0L325.0 248.0L324.2 248.0L323.5 247.9L322.9 247.8L322.2 247.6L321.8 247.4L321.2 247.1L320.8 246.8L320.4 246.6L320.0 246.2L319.6 245.8L319.2 245.3L319.0 244.9L318.8 244.5L318.5 243.9L318.3 243.3L318.2 242.8L318.2 242.1L318.2 241.3L318.2 240.7L318.4 240.1L318.5 239.6L318.8 239.0L319.0 238.5L319.2 238.0L319.6 237.6L319.9 237.1L320.2 236.6L320.5 236.2L320.8 235.8L321.2 235.3L321.5 234.9L321.8 234.6L322.1 234.1L322.5 233.6L322.8 233.2L323.1 232.8L323.5 232.3L323.8 232.0L324.1 231.6L324.5 231.1L324.8 230.8L325.2 230.4L325.7 230.1L326.0 229.8L326.5 229.4L327.0 229.1L327.4 228.8L327.8 228.6L328.3 228.3L328.8 228.0L329.2 227.8L329.8 227.6L330.5 227.3L331.0 227.1L331.5 226.9L332.0 226.8L332.8 226.6L333.2 226.5L334.0 226.4L334.5 226.3L335.2 226.2L336.0 226.1L336.5 226.0L337.2 225.9L338.0 225.9L338.8 225.8L339.5 225.8L340.2 225.9L341.0 225.9L341.7 226.1L342.2 226.2L342.8 226.3L343.4 226.6L343.9 226.8L344.3 227.1L344.8 227.3L345.2 227.8L345.5 228.1L345.9 228.6L346.2 229.1L346.4 229.6L346.6 230.1L346.7 230.8L346.8 231.3L346.8 232.1L346.8 232.8L346.8 233.6L346.8 234.3L346.8 235.1L346.8 235.8L346.7 236.3L346.6 237.1L346.5 237.6L346.3 238.3L346.1 238.8L345.9 239.3L345.7 239.8L345.4 240.3L345.1 240.8L344.8 241.3L344.5 241.7L344.2 242.1L343.8 242.6L343.5 242.8L343.1 243.3L342.8 243.6L342.2 244.0L341.9 244.3L341.5 244.6L341.0 244.9L340.5 245.3L340.0 245.6L339.6 245.8L339.1 246.1L338.5 246.3L338.0 246.5L337.5 246.7L337.0 246.9L336.5 247.1L335.8 247.2L335.2 247.4L334.5 247.5L334.0 247.6L333.2 247.6L332.5 247.7L331.8 247.7L331.0 247.7L330.2 247.7L329.5 247.7L328.8 247.8L328.1 247.8Z" fill="#000" fill-opacity="0" stroke="#111" stroke-width="0.6" stroke-linejoin="round"/>
<path d="M325.2 249.1L324.7 249.1L324.0 249.0L323.2 248.9L322.7 248.8L322.0 248.6L321.5 248.4L321.0 248.2L320.5 247.9L320.0 247.6L319.7 247.3L319.2 246.9L318.9 246.6L318.5 246.1L318.2 245.7L318.0 245.3L317.8 244.8L317.5 244.1L317.3 243.6L317.2 243.1L317.1 242.3L317.1 241.6L317.2 240.8L317.3 240.3L317.5 239.6L317.6 239.1L317.8 238.6L318.1 238.1L318.3 237.6L318.6 237.1L319.0 236.6L319.2 236.1L319.5 235.8L319.9 235.3L320.2 234.8L320.5 234.4L320.8 234.1L321.2 233.6L321.5 233.1L321.8 232.8L322.1 232.3L322.5 231.8L322.8 231.5L323.2 231.1L323.5 230.7L323.9 230.3L324.2 229.9L324.7 229.6L325.0 229.3L325.5 228.9L326.0 228.6L326.3 228.3L326.8 228.0L327.2 227.7L327.8 227.4L328.2 227.2L328.8 226.9L329.2 226.7L329.8 226.5L330.3 226.3L331.0 226.1L331.5 225.9L332.0 225.8L332.8 225.6L333.2 225.5L334.0 225.4L334.5 225.3L335.2 225.2L336.0 225.1L336.7 225.1L337.2 225.0L338.0 225.0L338.8 224.9L339.5 224.9L340.2 225.0L341.0 225.0L341.5 225.1L342.2 225.3L342.8 225.4L343.3 225.6L343.9 225.8L344.5 226.1L344.9 226.3L345.3 226.6L345.8 226.9L346.2 227.3L346.5 227.6L346.9 228.1L347.2 228.6L347.4 229.1L347.6 229.6L347.8 230.1L347.9 230.8L347.9 231.6L348.0 232.3L348.0 233.1L348.0 233.6L348.0 234.3L348.0 235.1L348.0 235.6L347.9 236.3L347.8 237.1L347.7 237.6L347.5 238.3L347.3 238.8L347.1 239.3L346.9 239.8L346.7 240.3L346.4 240.8L346.1 241.3L345.8 241.8L345.5 242.1L345.2 242.6L344.8 243.0L344.5 243.3L344.0 243.8L343.7 244.1L343.2 244.5L342.9 244.8L342.5 245.1L342.0 245.5L341.5 245.8L341.1 246.1L340.7 246.3L340.2 246.6L339.8 246.8L339.2 247.1L338.7 247.3L338.1 247.6L337.5 247.8L337.0 247.9L336.5 248.1L335.8 248.3L335.2 248.4L334.5 248.5L334.0 248.6L333.2 248.7L332.5 248.7L331.8 248.7L331.0 248.8L330.2 248.8L329.5 248.8L328.9 248.8L328.2 248.8L327.5 248.9L326.8 249.0L326.0 249.0L325.3 249.1Z" fill="#000" fill-opacity="0" stroke="#111" stroke-width="0.6" stroke-linejoin="round"/>
</g>
<path d="M319.1 229.5V249.6H341" fill="none" stroke="#000" stroke-width="2.6"/>
<path d="M321 233V247.5H335" fill="none" stroke="#333" stroke-width="0.6"/>
<g clip-path="url(#p21)">
<path d="M115.7 346.8L115.0 347.0L114.2 347.0L113.5 347.0L112.7 346.9L112.2 346.8L111.6 346.6L111.0 346.3L110.6 346.1L110.2 345.6L110.0 345.1L110.2 344.4L110.5 344.1L111.0 343.7L111.5 343.5L112.0 343.3L112.7 343.1L113.2 343.0L114.0 342.9L114.7 342.9L115.5 342.9L116.0 343.1L116.7 343.3L117.2 343.5L117.7 343.8L118.0 344.1L118.4 344.6L118.5 345.1L118.3 345.6L118.0 345.8L117.5 346.2L117.0 346.4L116.5 346.6L115.9 346.8Z" fill="#000" fill-opacity="0.14" stroke="#111" stroke-width="0.6" stroke-linejoin="round"/>
<path d="M116.0 347.8L115.2 347.9L114.5 348.0L113.7 348.0L113.0 347.9L112.2 347.8L111.7 347.8L111.0 347.6L110.5 347.4L110.0 347.3L109.4 347.1L109.0 346.8L108.5 346.4L108.1 346.1L107.8 345.6L107.8 344.8L108.0 344.3L108.3 343.8L108.7 343.5L109.2 343.2L109.7 342.9L110.2 342.7L110.7 342.5L111.5 342.3L112.0 342.2L112.7 342.1L113.2 342.0L114.0 341.9L114.7 341.9L115.5 342.0L116.1 342.1L116.7 342.2L117.2 342.3L118.0 342.5L118.5 342.7L119.0 342.9L119.5 343.1L120.0 343.4L120.5 343.6L121.0 343.8L121.5 344.1L122.0 344.5L122.2 344.9L122.4 345.6L122.5 346.0L122.3 346.6L122.0 346.9L121.5 347.1L120.7 347.1L120.0 347.1L119.2 347.1L118.5 347.2L118.0 347.3L117.2 347.5L116.7 347.6L116.0 347.8Z" fill="#000" fill-opacity="0.14" stroke="#111" stroke-width="0.6" stroke-linejoin="round"/>
<path d="M116.5 348.6L115.7 348.7L115.0 348.8L114.2 348.8L113.5 348.8L112.7 348.8L112.0 348.7L111.2 348.6L110.7 348.5L110.0 348.4L109.5 348.2L108.9 348.1L108.2 347.8L107.8 347.6L107.4 347.3L107.0 347.0L106.6 346.6L106.3 346.1L106.1 345.6L106.0 344.8L106.2 344.2L106.5 343.8L106.8 343.3L107.2 343.0L107.7 342.7L108.2 342.4L108.7 342.2L109.2 342.0L110.0 341.8L110.5 341.7L111.1 341.6L111.7 341.4L112.5 341.3L113.0 341.3L113.7 341.2L114.5 341.1L115.2 341.2L116.0 341.2L116.6 341.3L117.2 341.4L117.8 341.6L118.5 341.7L119.0 341.9L119.5 342.1L120.2 342.3L120.7 342.4L121.2 342.6L121.7 342.8L122.2 343.2L122.6 343.6L123.0 343.9L123.2 344.3L123.5 345.0L123.6 345.6L123.6 346.3L123.5 347.0L123.2 347.6L123.0 347.9L122.5 348.3L122.0 348.5L121.2 348.5L120.5 348.4L120.0 348.3L119.2 348.2L118.5 348.2L117.9 348.3L117.2 348.4L116.5 348.6Z" fill="#000" fill-opacity="0.14" stroke="#111" stroke-width="0.6" stroke-linejoin="round"/>
<path d="M114.2 349.6L113.5 349.6L112.7 349.6L112.2 349.5L111.5 349.5L110.7 349.4L110.0 349.3L109.5 349.2L108.7 349.1L108.2 348.9L107.7 348.8L107.2 348.6L106.7 348.3L106.2 348.0L105.7 347.6L105.4 347.3L105.1 346.8L104.8 346.3L104.6 345.8L104.6 345.1L104.7 344.3L104.9 343.8L105.2 343.3L105.5 343.0L105.9 342.6L106.3 342.3L106.7 342.1L107.3 341.8L107.9 341.6L108.5 341.4L109.0 341.2L109.7 341.1L110.2 340.9L110.9 340.8L111.5 340.7L112.2 340.6L112.7 340.5L113.5 340.5L114.2 340.4L115.0 340.4L115.7 340.4L116.5 340.5L117.0 340.6L117.7 340.7L118.2 340.8L119.0 341.0L119.5 341.1L120.2 341.3L120.7 341.5L121.2 341.6L121.7 341.8L122.2 342.1L122.7 342.4L123.2 342.8L123.5 343.1L123.7 343.6L124.0 344.1L124.2 344.7L124.3 345.3L124.4 346.1L124.3 346.8L124.2 347.3L124.0 348.0L123.7 348.5L123.5 348.8L123.0 349.2L122.5 349.4L121.7 349.5L121.0 349.4L120.3 349.3L119.7 349.2L119.0 349.1L118.2 349.1L117.5 349.2L116.7 349.3L116.2 349.4L115.5 349.5L114.7 349.5L114.2 349.6Z" fill="#000" fill-opacity="0.14" stroke="#111" stroke-width="0.6" stroke-linejoin="round"/>
<path d="M123.0 350.3L122.2 350.5L121.5 350.4L120.7 350.3L120.2 350.2L119.6 350.1L119.0 350.0L118.2 350.0L117.5 350.0L117.0 350.1L116.2 350.2L115.5 350.2L114.7 350.3L114.2 350.3L113.5 350.3L112.7 350.3L112.0 350.3L111.2 350.3L110.7 350.3L110.0 350.2L109.2 350.1L108.6 350.1L108.0 349.9L107.4 349.8L106.7 349.6L106.2 349.4L105.7 349.1L105.2 348.8L104.8 348.6L104.5 348.2L104.1 347.8L103.8 347.3L103.5 346.8L103.3 346.3L103.2 345.6L103.2 345.1L103.2 344.6L103.4 343.8L103.7 343.3L104.0 342.9L104.3 342.6L104.7 342.2L105.2 341.8L105.6 341.6L106.1 341.3L106.7 341.1L107.2 340.9L107.7 340.7L108.3 340.6L109.0 340.4L109.5 340.3L110.2 340.2L110.8 340.1L111.5 340.0L112.2 339.9L112.7 339.8L113.5 339.7L114.2 339.7L115.0 339.7L115.7 339.7L116.5 339.7L117.1 339.8L117.7 339.9L118.5 340.0L119.0 340.1L119.7 340.3L120.2 340.4L120.7 340.6L121.5 340.8L122.0 341.0L122.5 341.2L123.0 341.5L123.3 341.8L123.7 342.2L124.0 342.6L124.3 343.1L124.6 343.6L124.8 344.1L124.9 344.8L125.0 345.3L125.0 346.1L125.0 346.8L124.9 347.3L124.7 348.1L124.5 348.6L124.3 349.1L124.0 349.5L123.7 349.8L123.2 350.2Z" fill="#000" fill-opacity="0.14" stroke="#111" stroke-width="0.6" stroke-linejoin="round"/>
<path d="M123.0 351.3L122.2 351.5L121.5 351.4L121.0 351.3L120.2 351.1L119.7 351.0L119.0 350.9L118.2 350.8L117.5 350.8L116.7 350.9L116.0 351.0L115.4 351.1L114.7 351.1L114.0 351.2L113.2 351.2L112.5 351.2L111.7 351.2L111.0 351.2L110.2 351.2L109.5 351.1L108.7 351.1L108.2 351.0L107.5 350.9L106.7 350.8L106.2 350.7L105.7 350.5L105.2 350.3L104.7 350.1L104.2 349.8L103.7 349.4L103.3 349.1L103.0 348.7L102.6 348.3L102.3 347.8L102.1 347.3L101.9 346.8L101.8 346.1L101.8 345.3L101.8 344.6L102.0 344.1L102.2 343.4L102.5 343.0L102.7 342.6L103.2 342.1L103.5 341.8L104.0 341.4L104.5 341.1L104.9 340.8L105.5 340.6L106.0 340.4L106.5 340.2L107.0 340.0L107.7 339.8L108.2 339.7L109.0 339.6L109.5 339.5L110.2 339.4L110.7 339.3L111.5 339.2L112.2 339.1L112.7 339.0L113.5 338.9L114.2 338.9L115.0 338.9L115.7 338.9L116.5 338.9L117.2 339.0L117.7 339.1L118.5 339.2L119.1 339.3L119.7 339.4L120.3 339.6L121.0 339.7L121.5 339.8L122.0 340.1L122.6 340.3L123.0 340.6L123.5 340.8L124.0 341.2L124.2 341.6L124.6 342.1L124.9 342.6L125.2 343.1L125.4 343.6L125.5 344.1L125.6 344.8L125.7 345.4L125.7 346.1L125.7 346.6L125.6 347.3L125.5 348.0L125.3 348.6L125.1 349.1L124.9 349.6L124.6 350.1L124.2 350.5L123.9 350.8L123.5 351.1L123.0 351.3Z" fill="#000" fill-opacity="0.14" stroke="#111" stroke-width="0.6" stroke-linejoin="round"/>
<path d="M123.2 352.4L122.5 352.5L121.7 352.5L121.0 352.3L120.5 352.2L120.0 352.0L119.2 351.9L118.6 351.8L118.0 351.8L117.2 351.8L116.7 351.8L116.0 351.9L115.2 352.0L114.5 352.0L114.0 352.1L113.2 352.1L112.5 352.1L111.7 352.2L111.0 352.2L110.2 352.2L109.5 352.2L108.7 352.2L108.0 352.2L107.2 352.1L106.7 352.1L106.0 351.9L105.3 351.8L104.7 351.6L104.2 351.5L103.7 351.2L103.2 351.0L102.7 350.7L102.2 350.4L101.8 350.1L101.5 349.7L101.1 349.3L100.8 348.8L100.5 348.3L100.3 347.8L100.2 347.2L100.1 346.6L100.1 345.8L100.2 345.1L100.3 344.6L100.5 344.0L100.7 343.4L101.0 342.9L101.2 342.5L101.5 342.1L102.0 341.6L102.2 341.3L102.7 340.9L103.2 340.6L103.7 340.3L104.1 340.1L104.7 339.8L105.2 339.6L105.7 339.4L106.2 339.3L107.0 339.1L107.5 339.0L108.2 338.8L108.7 338.7L109.5 338.6L110.0 338.5L110.7 338.4L111.4 338.3L112.0 338.2L112.7 338.1L113.5 338.1L114.0 338.0L114.7 338.0L115.5 338.0L116.2 338.0L116.9 338.1L117.5 338.1L118.2 338.2L118.9 338.3L119.5 338.4L120.2 338.5L120.7 338.6L121.3 338.8L122.0 339.0L122.5 339.2L123.0 339.4L123.5 339.7L124.0 340.0L124.3 340.3L124.7 340.7L125.0 341.1L125.3 341.6L125.6 342.1L125.8 342.6L126.0 343.1L126.2 343.6L126.3 344.3L126.4 345.1L126.5 345.6L126.4 346.1L126.4 346.8L126.3 347.6L126.2 348.1L126.0 348.8L125.8 349.3L125.6 349.8L125.4 350.3L125.1 350.8L124.7 351.3L124.5 351.6L124.0 352.0L123.5 352.3Z" fill="#000" fill-opacity="0.14" stroke="#111" stroke-width="0.6" stroke-linejoin="round"/>
<path d="M123.2 353.4L122.5 353.5L121.7 353.4L121.1 353.3L120.5 353.1L120.0 353.0L119.2 352.8L118.7 352.7L118.0 352.7L117.2 352.7L116.5 352.7L115.7 352.8L115.2 352.8L114.5 352.9L113.7 353.0L113.0 353.0L112.2 353.0L111.7 353.1L111.0 353.1L110.2 353.2L109.5 353.2L108.7 353.2L108.0 353.2L107.2 353.2L106.5 353.2L105.7 353.1L105.2 353.0L104.5 352.9L104.0 352.8L103.2 352.6L102.7 352.4L102.2 352.3L101.7 352.1L101.2 351.8L100.7 351.5L100.2 351.2L99.7 350.8L99.5 350.5L99.0 350.1L98.7 349.6L98.5 349.1L98.4 348.6L98.3 347.8L98.3 347.1L98.4 346.3L98.5 345.8L98.7 345.1L98.8 344.6L99.0 344.1L99.2 343.5L99.5 343.0L99.7 342.6L100.0 342.1L100.4 341.6L100.7 341.3L101.2 340.8L101.5 340.6L102.0 340.2L102.5 339.9L103.0 339.6L103.5 339.3L104.0 339.1L104.5 338.9L105.0 338.8L105.6 338.6L106.2 338.4L106.7 338.3L107.5 338.1L108.0 338.0L108.7 337.9L109.2 337.8L110.0 337.7L110.7 337.6L111.2 337.5L112.0 337.4L112.7 337.3L113.2 337.3L114.0 337.2L114.7 337.2L115.5 337.2L116.2 337.2L117.0 337.2L117.7 337.3L118.2 337.3L119.0 337.4L119.7 337.5L120.2 337.6L121.0 337.8L121.5 337.9L122.0 338.1L122.7 338.3L123.2 338.5L123.7 338.8L124.1 339.1L124.5 339.3L125.0 339.8L125.2 340.1L125.6 340.6L126.0 341.0L126.2 341.4L126.5 342.0L126.7 342.6L126.8 343.1L127.0 343.6L127.1 344.3L127.1 345.1L127.2 345.8L127.1 346.6L127.0 347.3L126.9 347.8L126.8 348.6L126.6 349.1L126.5 349.6L126.2 350.2L126.0 350.7L125.7 351.2L125.5 351.6L125.1 352.1L124.7 352.5L124.3 352.8L124.0 353.1L123.4 353.3Z" fill="#000" fill-opacity="0.14" stroke="#111" stroke-width="0.6" stroke-linejoin="round"/>
<path d="M123.5 354.4L122.7 354.5L122.0 354.5L121.2 354.4L120.7 354.2L120.1 354.1L119.5 353.9L119.0 353.8L118.2 353.7L117.5 353.6L116.7 353.7L116.0 353.7L115.2 353.8L114.7 353.8L114.0 353.9L113.2 354.0L112.5 354.0L112.0 354.1L111.2 354.1L110.5 354.2L109.7 354.2L109.0 354.3L108.5 354.3L107.7 354.4L107.0 354.4L106.2 354.4L105.5 354.4L104.7 354.3L104.2 354.3L103.5 354.2L102.7 354.1L102.2 354.1L101.5 354.0L100.7 353.8L100.2 353.7L99.6 353.6L99.0 353.3L98.5 353.1L98.0 352.8L97.6 352.6L97.2 352.2L96.7 351.8L96.4 351.6L96.0 351.1L95.7 350.6L95.5 350.1L95.4 349.6L95.4 348.8L95.5 348.3L95.7 347.6L95.9 347.1L96.1 346.6L96.4 346.1L96.6 345.6L96.8 345.1L97.1 344.6L97.3 344.1L97.6 343.6L97.8 343.1L98.1 342.6L98.5 342.1L98.7 341.7L99.0 341.3L99.5 340.9L99.8 340.6L100.2 340.2L100.6 339.8L101.0 339.6L101.5 339.3L102.0 339.0L102.5 338.7L103.0 338.5L103.5 338.3L104.1 338.1L104.7 337.8L105.2 337.7L105.8 337.6L106.5 337.4L107.0 337.3L107.7 337.2L108.3 337.1L109.0 336.9L109.7 336.8L110.2 336.7L111.0 336.6L111.6 336.6L112.2 336.5L113.0 336.4L113.7 336.3L114.2 336.3L115.0 336.2L115.7 336.2L116.5 336.2L117.2 336.3L117.7 336.3L118.5 336.4L119.2 336.5L119.8 336.6L120.5 336.7L121.1 336.8L121.7 336.9L122.2 337.1L122.9 337.3L123.5 337.5L123.9 337.8L124.4 338.1L124.7 338.3L125.2 338.7L125.6 339.1L126.0 339.4L126.2 339.8L126.6 340.3L126.9 340.8L127.1 341.3L127.3 341.8L127.5 342.3L127.7 342.9L127.8 343.6L127.9 344.3L128.0 344.8L128.0 345.6L127.9 346.1L127.9 346.8L127.7 347.6L127.6 348.1L127.5 348.8L127.3 349.3L127.1 349.8L127.0 350.3L126.7 350.9L126.5 351.4L126.2 351.9L125.9 352.3L125.6 352.8L125.2 353.2L124.9 353.6L124.5 353.9L124.0 354.2L123.5 354.4Z" fill="#000" fill-opacity="0" stroke="#111" stroke-width="0.6" stroke-linejoin="round"/>
<path d="M99.0 357.4L98.2 357.5L97.5 357.4L97.0 357.1L96.7 356.7L96.4 356.3L96.0 355.8L95.7 355.5L95.3 355.1L95.0 354.8L94.5 354.4L94.0 354.1L93.5 353.8L93.0 353.6L92.6 353.3L92.2 353.1L91.7 352.8L91.2 352.4L90.7 352.1L90.5 351.7L90.2 351.3L90.0 350.6L90.1 349.8L90.3 349.3L90.7 348.8L91.0 348.4L91.3 348.1L91.7 347.6L92.0 347.3L92.5 346.9L92.8 346.6L93.2 346.2L93.6 345.8L94.0 345.4L94.3 345.1L94.7 344.6L95.0 344.2L95.3 343.8L95.6 343.3L96.0 342.9L96.2 342.5L96.6 342.1L97.0 341.6L97.2 341.3L97.6 340.8L98.0 340.4L98.3 340.1L98.7 339.7L99.2 339.3L99.5 339.1L100.0 338.8L100.5 338.5L101.0 338.2L101.5 337.9L102.0 337.7L102.5 337.5L103.0 337.3L103.6 337.1L104.2 336.9L104.7 336.7L105.4 336.6L106.0 336.4L106.6 336.3L107.2 336.2L107.9 336.1L108.5 336.0L109.2 335.8L109.7 335.8L110.5 335.6L111.1 335.6L111.7 335.5L112.5 335.4L113.0 335.3L113.7 335.2L114.5 335.2L115.2 335.1L116.0 335.1L116.7 335.1L117.5 335.1L118.2 335.2L119.0 335.3L119.5 335.3L120.2 335.4L120.8 335.6L121.5 335.7L122.0 335.8L122.7 336.0L123.2 336.2L123.7 336.4L124.2 336.6L124.7 336.9L125.2 337.2L125.6 337.6L126.0 337.8L126.4 338.3L126.7 338.6L127.1 339.1L127.4 339.6L127.7 340.0L128.0 340.4L128.2 340.9L128.4 341.6L128.6 342.1L128.7 342.6L128.9 343.3L128.9 343.8L129.0 344.6L129.0 345.3L128.9 345.9L128.9 346.6L128.7 347.3L128.6 347.8L128.5 348.6L128.3 349.1L128.2 349.6L128.0 350.1L127.7 350.8L127.5 351.3L127.3 351.8L127.0 352.3L126.7 352.8L126.5 353.2L126.2 353.6L125.8 354.1L125.5 354.5L125.1 354.8L124.7 355.1L124.2 355.4L123.7 355.6L123.0 355.7L122.2 355.8L121.5 355.6L121.0 355.5L120.3 355.3L119.7 355.1L119.2 355.0L118.5 354.9L117.9 354.8L117.2 354.8L116.7 354.8L116.0 354.9L115.2 354.9L114.5 355.0L114.0 355.1L113.2 355.1L112.5 355.2L111.7 355.3L111.2 355.3L110.5 355.4L109.7 355.5L109.2 355.6L108.5 355.6L107.7 355.7L107.0 355.7L106.2 355.8L105.7 355.8L105.0 355.8L104.2 355.9L103.5 355.9L102.7 356.0L102.2 356.1L101.5 356.3L101.0 356.5L100.5 356.7L100.0 356.9L99.5 357.2L99.0 357.4Z" fill="#000" fill-opacity="0" stroke="#111" stroke-width="0.6" stroke-linejoin="round"/>
<path d="M95.2 362.8L94.5 362.9L94.0 362.7L93.7 362.1L93.6 361.6L93.7 360.8L93.7 360.1L93.7 359.3L93.6 358.6L93.5 358.0L93.2 357.4L92.9 357.1L92.5 356.6L92.0 356.3L91.5 356.1L91.0 355.8L90.5 355.6L90.0 355.5L89.3 355.3L88.7 355.1L88.2 355.0L87.6 354.8L87.0 354.6L86.5 354.4L86.0 354.1L85.5 353.8L85.1 353.6L84.7 353.2L84.4 352.8L84.1 352.3L83.9 351.8L83.9 351.1L84.0 350.6L84.2 350.1L84.5 349.6L84.9 349.1L85.2 348.7L85.6 348.3L86.0 348.1L86.5 347.7L87.0 347.3L87.4 347.1L87.8 346.8L88.2 346.5L88.7 346.2L89.2 346.0L89.7 345.7L90.2 345.4L90.7 345.1L91.1 344.8L91.5 344.6L92.0 344.3L92.5 343.9L92.9 343.6L93.2 343.3L93.7 342.8L94.0 342.6L94.5 342.1L94.7 341.8L95.2 341.3L95.5 341.0L95.9 340.6L96.2 340.2L96.6 339.8L97.0 339.5L97.5 339.1L97.8 338.8L98.2 338.5L98.7 338.1L99.2 337.8L99.6 337.6L100.1 337.3L100.6 337.1L101.1 336.8L101.7 336.6L102.2 336.4L102.7 336.2L103.2 336.0L104.0 335.8L104.5 335.7L105.1 335.6L105.7 335.4L106.2 335.3L107.0 335.1L107.5 335.1L108.2 334.9L108.9 334.8L109.5 334.7L110.2 334.6L110.7 334.5L111.5 334.4L112.1 334.3L112.7 334.2L113.5 334.1L114.2 334.1L114.7 334.0L115.5 334.0L116.2 334.0L117.0 334.0L117.7 334.0L118.3 334.1L119.0 334.1L119.7 334.2L120.5 334.3L121.0 334.4L121.7 334.5L122.2 334.6L122.8 334.8L123.5 335.0L124.0 335.2L124.5 335.4L125.0 335.7L125.5 336.0L125.9 336.3L126.3 336.6L126.7 336.9L127.1 337.3L127.5 337.6L127.8 338.1L128.2 338.5L128.4 338.9L128.7 339.3L129.0 339.8L129.3 340.3L129.5 340.8L129.7 341.3L129.9 342.1L130.0 342.6L130.1 343.3L130.2 344.1L130.2 344.8L130.1 345.6L130.0 346.3L129.9 346.8L129.8 347.6L129.6 348.1L129.4 348.7L129.3 349.3L129.1 349.8L128.9 350.3L128.7 350.8L128.4 351.3L128.2 351.9L128.0 352.4L127.7 352.9L127.5 353.3L127.2 353.8L126.9 354.3L126.5 354.8L126.2 355.1L125.8 355.6L125.5 355.9L125.0 356.3L124.5 356.6L124.0 356.8L123.5 356.9L122.7 357.0L122.0 357.0L121.2 356.8L120.7 356.7L120.2 356.5L119.6 356.3L119.0 356.1L118.5 356.0L117.7 356.0L117.0 356.0L116.2 356.0L115.7 356.1L115.0 356.1L114.2 356.2L113.5 356.3L113.0 356.3L112.2 356.4L111.5 356.5L111.0 356.6L110.2 356.7L109.5 356.8L109.0 356.9L108.2 357.0L107.5 357.1L107.0 357.1L106.2 357.2L105.5 357.3L105.0 357.3L104.2 357.4L103.7 357.6L103.0 357.8L102.5 358.1L102.0 358.3L101.6 358.6L101.2 358.9L100.7 359.3L100.4 359.6L100.0 359.9L99.5 360.3L99.1 360.6L98.7 360.8L98.2 361.2L97.7 361.5L97.2 361.8L96.8 362.1L96.4 362.3L95.9 362.6L95.2 362.8Z" fill="#000" fill-opacity="0" stroke="#111" stroke-width="0.6" stroke-linejoin="round"/>
<path d="M90.5 369.1L90.0 369.0L89.4 368.8L89.0 368.4L88.7 367.8L88.7 367.3L88.7 366.7L88.8 366.1L89.0 365.6L89.2 365.1L89.5 364.5L89.7 363.9L90.0 363.4L90.2 362.8L90.4 362.3L90.6 361.8L90.7 361.3L90.9 360.6L90.9 359.8L90.7 359.1L90.5 358.7L90.0 358.3L89.5 358.1L89.0 357.9L88.5 357.7L87.7 357.6L87.2 357.5L86.5 357.3L86.0 357.2L85.2 357.1L84.7 356.9L84.2 356.8L83.6 356.6L83.0 356.3L82.6 356.1L82.2 355.8L81.7 355.4L81.3 355.1L81.0 354.6L80.7 354.2L80.5 353.7L80.2 353.1L80.1 352.6L80.0 351.8L80.1 351.1L80.2 350.4L80.4 349.8L80.6 349.3L80.9 348.8L81.2 348.3L81.5 348.0L81.9 347.6L82.2 347.2L82.7 346.8L83.1 346.6L83.5 346.3L84.0 346.0L84.5 345.7L85.0 345.4L85.5 345.2L86.0 344.9L86.5 344.7L87.0 344.5L87.5 344.3L88.0 344.0L88.5 343.8L89.0 343.6L89.5 343.3L90.0 343.1L90.5 342.8L91.0 342.5L91.5 342.2L92.0 341.9L92.4 341.6L92.7 341.3L93.2 340.9L93.6 340.6L94.0 340.3L94.5 339.8L94.8 339.6L95.2 339.2L95.6 338.8L96.0 338.5L96.5 338.1L96.9 337.8L97.3 337.6L97.7 337.3L98.2 337.0L98.7 336.7L99.2 336.4L99.7 336.2L100.2 335.9L100.7 335.7L101.2 335.5L101.8 335.3L102.5 335.1L103.0 334.9L103.5 334.8L104.2 334.6L104.7 334.5L105.5 334.3L106.0 334.2L106.7 334.1L107.2 334.0L108.0 333.8L108.5 333.7L109.2 333.6L109.7 333.5L110.5 333.4L111.0 333.3L111.7 333.2L112.5 333.1L113.0 333.0L113.7 332.9L114.5 332.8L115.2 332.8L115.7 332.8L116.5 332.8L117.2 332.8L118.0 332.8L118.5 332.8L119.2 332.9L120.0 333.0L120.6 333.1L121.2 333.1L122.0 333.3L122.5 333.4L123.0 333.6L123.7 333.8L124.2 333.9L124.7 334.1L125.2 334.4L125.7 334.6L126.2 334.9L126.7 335.3L127.1 335.6L127.5 335.8L128.0 336.3L128.2 336.6L128.7 337.0L129.0 337.3L129.4 337.8L129.7 338.2L129.9 338.6L130.2 339.1L130.5 339.6L130.8 340.1L131.0 340.6L131.2 341.2L131.4 341.8L131.5 342.3L131.6 343.1L131.6 343.8L131.6 344.6L131.6 345.3L131.5 346.1L131.4 346.6L131.2 347.2L131.0 347.8L130.8 348.3L130.7 348.8L130.4 349.3L130.2 349.9L129.9 350.5L129.7 351.0L129.5 351.6L129.2 352.1L129.0 352.6L128.7 353.1L128.4 353.5L128.2 354.0L128.0 354.4L127.7 354.8L127.4 355.3L127.0 355.8L126.7 356.2L126.3 356.6L126.0 356.9L125.5 357.3L125.2 357.6L124.7 357.8L124.2 358.1L123.5 358.3L123.0 358.3L122.2 358.3L121.7 358.2L121.0 358.1L120.5 357.9L120.0 357.7L119.4 357.6L118.7 357.4L118.2 357.3L117.5 357.2L116.7 357.2L116.0 357.3L115.5 357.3L114.7 357.4L114.0 357.5L113.3 357.6L112.7 357.6L112.0 357.7L111.5 357.8L110.7 357.9L110.1 358.1L109.5 358.2L108.7 358.3L108.2 358.3L107.5 358.5L106.7 358.5L106.2 358.6L105.5 358.7L105.0 358.9L104.3 359.1L103.7 359.3L103.2 359.5L102.7 359.8L102.4 360.1L102.0 360.4L101.5 360.8L101.1 361.1L100.7 361.4L100.2 361.8L99.9 362.1L99.5 362.5L99.1 362.8L98.7 363.1L98.2 363.5L97.9 363.8L97.5 364.2L97.0 364.6L96.7 364.8L96.2 365.3L95.9 365.6L95.5 365.9L95.0 366.3L94.7 366.6L94.2 367.0L93.8 367.3L93.5 367.6L93.0 367.9L92.5 368.3L92.0 368.6L91.5 368.8L91.0 369.0L90.5 369.1Z" fill="#000" fill-opacity="0" stroke="#111" stroke-width="0.6" stroke-linejoin="round"/>
<path d="M90.7 371.3L90.0 371.5L89.2 371.5L88.5 371.3L88.0 371.1L87.6 370.8L87.2 370.4L86.9 370.1L86.6 369.6L86.5 368.9L86.4 368.3L86.4 367.6L86.5 367.1L86.7 366.3L86.8 365.8L87.0 365.3L87.3 364.8L87.5 364.3L87.7 363.8L88.0 363.3L88.2 362.7L88.4 362.1L88.5 361.6L88.5 360.9L88.2 360.4L87.8 360.1L87.4 359.8L86.7 359.6L86.2 359.5L85.5 359.3L85.0 359.2L84.2 359.1L83.7 358.9L83.2 358.8L82.5 358.6L82.0 358.4L81.5 358.1L81.0 357.8L80.5 357.6L80.2 357.3L79.7 356.8L79.4 356.6L79.0 356.1L78.7 355.6L78.5 355.1L78.2 354.6L78.0 354.1L77.9 353.6L77.7 352.8L77.7 352.3L77.7 351.6L77.7 351.1L77.8 350.3L78.0 349.8L78.2 349.1L78.4 348.6L78.6 348.1L78.9 347.6L79.2 347.2L79.5 346.8L80.0 346.3L80.2 346.1L80.7 345.6L81.1 345.3L81.5 345.0L82.0 344.7L82.5 344.4L83.0 344.2L83.5 343.9L84.0 343.7L84.5 343.5L85.0 343.2L85.5 343.0L86.1 342.8L86.7 342.6L87.2 342.3L87.7 342.1L88.2 341.9L88.7 341.7L89.2 341.5L89.7 341.3L90.2 341.0L90.7 340.7L91.2 340.4L91.7 340.1L92.2 339.8L92.5 339.6L93.0 339.2L93.5 338.8L93.8 338.6L94.2 338.3L94.7 337.9L95.1 337.6L95.5 337.3L96.0 337.0L96.5 336.6L97.0 336.3L97.4 336.1L97.9 335.8L98.4 335.6L98.9 335.3L99.4 335.1L100.0 334.8L100.5 334.6L101.0 334.5L101.5 334.3L102.2 334.1L102.7 333.9L103.2 333.8L104.0 333.6L104.5 333.5L105.2 333.3L105.7 333.2L106.3 333.1L107.0 332.9L107.5 332.8L108.2 332.7L108.8 332.6L109.5 332.4L110.1 332.3L110.7 332.2L111.5 332.1L112.0 332.0L112.7 331.9L113.4 331.8L114.0 331.7L114.7 331.7L115.5 331.6L116.2 331.6L117.0 331.6L117.7 331.6L118.5 331.6L119.2 331.7L120.0 331.8L120.5 331.8L121.2 331.9L121.9 332.1L122.5 332.2L123.1 332.3L123.7 332.5L124.2 332.6L124.7 332.8L125.2 333.1L125.8 333.3L126.3 333.6L126.7 333.8L127.2 334.1L127.7 334.4L128.2 334.8L128.5 335.1L128.9 335.4L129.4 335.8L129.7 336.1L130.1 336.6L130.4 336.9L130.7 337.3L131.1 337.8L131.4 338.3L131.7 338.7L131.9 339.1L132.2 339.7L132.4 340.2L132.7 340.8L132.8 341.3L132.9 341.9L133.1 342.6L133.1 343.3L133.2 344.1L133.1 344.8L133.0 345.6L132.9 346.1L132.8 346.8L132.6 347.3L132.4 347.8L132.2 348.4L131.9 349.0L131.7 349.5L131.4 350.0L131.2 350.5L130.9 351.0L130.7 351.4L130.4 351.9L130.2 352.3L129.9 352.8L129.7 353.3L129.4 353.8L129.1 354.3L128.8 354.8L128.5 355.3L128.2 355.7L128.0 356.1L127.6 356.6L127.2 357.1L127.0 357.4L126.5 357.8L126.2 358.1L125.7 358.5L125.3 358.8L124.9 359.1L124.3 359.3L123.7 359.5L123.2 359.6L122.5 359.6L122.0 359.5L121.2 359.4L120.7 359.2L120.2 359.0L119.5 358.8L119.0 358.6L118.5 358.5L117.7 358.4L117.0 358.4L116.2 358.4L115.5 358.5L114.9 358.6L114.2 358.6L113.5 358.7L113.0 358.8L112.2 358.9L111.5 359.1L111.0 359.2L110.2 359.3L109.7 359.4L109.0 359.5L108.5 359.6L107.7 359.7L107.2 359.8L106.5 359.9L105.8 360.1L105.2 360.2L104.7 360.4L104.2 360.6L103.7 360.8L103.2 361.1L102.7 361.5L102.2 361.8L101.9 362.1L101.5 362.4L101.0 362.8L100.7 363.1L100.2 363.5L99.9 363.8L99.5 364.2L99.1 364.6L98.7 364.9L98.3 365.3L98.0 365.6L97.5 366.1L97.2 366.4L96.7 366.8L96.5 367.1L96.0 367.6L95.7 367.8L95.2 368.3L94.9 368.6L94.5 369.0L94.1 369.3L93.7 369.6L93.2 370.0L92.8 370.3L92.4 370.6L92.0 370.8L91.5 371.1L90.8 371.3Z" fill="#000" fill-opacity="0" stroke="#111" stroke-width="0.6" stroke-linejoin="round"/>
</g>
<g clip-path="url(#p22)">
<path d="M198.8 377.1L198.0 377.2L197.2 377.1L196.8 376.9L196.3 376.6L196.1 376.1L196.1 375.3L196.3 374.8L196.5 374.3L196.8 373.7L196.9 373.1L197.1 372.6L197.2 371.9L197.5 371.4L197.8 371.0L198.2 370.6L198.8 370.5L199.5 370.5L200.0 370.8L200.3 371.1L200.6 371.6L200.7 372.3L200.8 372.8L200.8 373.4L200.7 374.1L200.6 374.8L200.5 375.4L200.2 376.0L200.0 376.4L199.5 376.8L199.0 377.0Z" fill="#000" fill-opacity="0.1" stroke="#111" stroke-width="0.6" stroke-linejoin="round"/>
<path d="M198.5 377.8L197.8 377.8L197.2 377.8L196.5 377.6L196.0 377.4L195.6 377.1L195.2 376.6L195.1 376.1L195.2 375.3L195.3 374.8L195.5 374.2L195.7 373.6L195.8 373.1L195.9 372.3L196.0 371.8L196.2 371.1L196.5 370.6L196.8 370.2L197.2 369.8L197.5 369.6L198.0 369.3L198.8 369.1L199.5 369.2L200.0 369.3L200.5 369.6L201.0 370.0L201.3 370.3L201.6 370.8L201.8 371.3L201.9 372.1L202.0 372.8L201.9 373.6L201.8 374.3L201.7 374.8L201.5 375.6L201.3 376.1L201.0 376.5L200.8 376.8L200.2 377.2L199.8 377.5L199.2 377.7L198.6 377.8Z" fill="#000" fill-opacity="0.1" stroke="#111" stroke-width="0.6" stroke-linejoin="round"/>
<path d="M198.8 378.3L198.0 378.4L197.2 378.3L196.8 378.2L196.1 378.1L195.5 377.8L195.1 377.6L194.8 377.2L194.5 376.8L194.3 376.1L194.3 375.3L194.5 374.6L194.6 374.1L194.8 373.6L194.9 372.8L195.0 372.1L195.1 371.6L195.2 371.0L195.5 370.4L195.8 369.9L196.0 369.6L196.5 369.1L196.8 368.8L197.3 368.6L197.9 368.3L198.5 368.2L199.2 368.1L200.0 368.3L200.5 368.4L201.0 368.7L201.5 369.1L201.8 369.3L202.2 369.8L202.5 370.3L202.7 370.8L202.8 371.3L202.9 372.1L202.9 372.8L202.8 373.6L202.7 374.1L202.6 374.8L202.5 375.3L202.2 375.9L202.0 376.4L201.7 376.8L201.2 377.3L200.9 377.6L200.5 377.8L199.9 378.1L199.2 378.2L198.8 378.3Z" fill="#000" fill-opacity="0.1" stroke="#111" stroke-width="0.6" stroke-linejoin="round"/>
<path d="M198.8 378.8L198.0 378.8L197.2 378.8L196.8 378.7L196.0 378.6L195.5 378.4L195.0 378.2L194.5 377.8L194.2 377.6L193.8 377.1L193.6 376.6L193.5 376.1L193.5 375.6L193.7 374.8L193.8 374.3L193.9 373.6L194.0 373.1L194.1 372.3L194.2 371.6L194.3 371.1L194.5 370.4L194.8 369.9L195.0 369.4L195.3 369.1L195.7 368.6L196.0 368.3L196.5 367.9L197.0 367.7L197.5 367.5L198.2 367.3L198.8 367.2L199.5 367.3L200.0 367.3L200.7 367.6L201.2 367.8L201.6 368.1L202.0 368.3L202.5 368.8L202.8 369.1L203.1 369.6L203.3 370.1L203.5 370.6L203.7 371.3L203.8 371.8L203.8 372.6L203.8 373.1L203.6 373.8L203.5 374.5L203.4 375.1L203.2 375.6L203.0 376.1L202.8 376.6L202.4 377.1L202.0 377.5L201.6 377.8L201.2 378.1L200.7 378.3L200.0 378.6L199.5 378.7L198.8 378.8Z" fill="#000" fill-opacity="0.1" stroke="#111" stroke-width="0.6" stroke-linejoin="round"/>
<path d="M198.8 379.3L198.0 379.3L197.3 379.3L196.8 379.2L196.0 379.1L195.5 378.9L195.0 378.8L194.5 378.5L194.0 378.2L193.5 377.8L193.2 377.5L193.0 377.1L192.8 376.3L192.7 375.8L192.8 375.3L192.9 374.6L193.0 374.1L193.1 373.3L193.2 372.6L193.3 372.1L193.4 371.3L193.5 370.7L193.7 370.1L193.9 369.6L194.2 369.1L194.5 368.6L194.8 368.3L195.2 367.8L195.5 367.6L196.0 367.2L196.5 366.9L197.0 366.7L197.5 366.5L198.2 366.4L199.0 366.3L199.8 366.4L200.5 366.6L201.0 366.7L201.5 367.0L202.0 367.2L202.5 367.6L202.8 367.8L203.2 368.3L203.5 368.6L203.8 369.1L204.1 369.6L204.3 370.1L204.5 370.7L204.6 371.3L204.7 372.1L204.6 372.8L204.6 373.6L204.5 374.1L204.3 374.8L204.1 375.3L204.0 375.8L203.8 376.3L203.5 376.8L203.1 377.3L202.8 377.7L202.3 378.1L201.9 378.3L201.5 378.6L201.0 378.8L200.2 379.0L199.8 379.2L199.0 379.3Z" fill="#000" fill-opacity="0.1" stroke="#111" stroke-width="0.6" stroke-linejoin="round"/>
<path d="M199.0 379.8L198.2 379.9L197.5 379.8L197.0 379.8L196.2 379.7L195.7 379.6L195.0 379.3L194.5 379.2L194.0 378.9L193.5 378.6L193.1 378.3L192.8 378.0L192.4 377.6L192.1 377.1L192.0 376.6L191.9 375.8L192.0 375.1L192.1 374.6L192.2 373.8L192.3 373.3L192.3 372.6L192.4 371.8L192.5 371.1L192.6 370.6L192.8 370.0L193.0 369.4L193.2 368.9L193.5 368.4L193.8 368.1L194.2 367.6L194.5 367.2L195.0 366.8L195.3 366.6L195.8 366.3L196.2 366.0L196.8 365.8L197.5 365.6L198.0 365.5L198.8 365.4L199.5 365.4L200.2 365.5L200.8 365.7L201.2 365.8L201.8 366.1L202.2 366.3L202.8 366.6L203.2 367.0L203.6 367.3L204.0 367.7L204.2 368.1L204.6 368.6L204.9 369.1L205.1 369.6L205.3 370.1L205.5 370.8L205.6 371.3L205.6 372.1L205.6 372.8L205.5 373.4L205.4 374.1L205.2 374.6L205.1 375.3L204.9 375.8L204.7 376.3L204.4 376.8L204.1 377.3L203.8 377.7L203.4 378.1L203.0 378.4L202.5 378.7L202.0 379.0L201.5 379.2L201.0 379.4L200.5 379.6L199.8 379.7L199.2 379.8Z" fill="#000" fill-opacity="0.1" stroke="#111" stroke-width="0.6" stroke-linejoin="round"/>
<path d="M200.0 380.3L199.2 380.4L198.5 380.5L197.8 380.5L197.0 380.4L196.3 380.3L195.8 380.2L195.2 380.1L194.5 379.8L194.0 379.6L193.5 379.4L193.0 379.1L192.6 378.8L192.2 378.5L191.8 378.1L191.5 377.7L191.2 377.2L191.1 376.6L191.0 375.8L191.1 375.1L191.2 374.3L191.2 373.6L191.3 373.1L191.3 372.3L191.4 371.6L191.5 370.9L191.6 370.3L191.8 369.8L192.0 369.1L192.2 368.6L192.5 368.1L192.8 367.7L193.0 367.3L193.5 366.8L193.8 366.5L194.2 366.1L194.5 365.8L195.0 365.5L195.5 365.1L196.0 364.9L196.5 364.7L197.0 364.5L197.8 364.4L198.5 364.3L199.2 364.3L200.0 364.4L200.6 364.6L201.2 364.7L201.8 364.9L202.2 365.2L202.8 365.4L203.2 365.7L203.7 366.1L204.0 366.3L204.5 366.8L204.8 367.1L205.2 367.6L205.5 368.0L205.8 368.3L206.0 368.8L206.2 369.3L206.5 370.1L206.6 370.6L206.7 371.3L206.7 372.1L206.7 372.8L206.5 373.6L206.4 374.1L206.2 374.8L206.1 375.3L205.9 375.8L205.7 376.3L205.4 376.8L205.1 377.3L204.8 377.8L204.5 378.1L204.0 378.6L203.7 378.8L203.2 379.1L202.8 379.4L202.2 379.7L201.8 379.9L201.2 380.1L200.5 380.2L200.0 380.3Z" fill="#000" fill-opacity="0.1" stroke="#111" stroke-width="0.6" stroke-linejoin="round"/>
<path d="M199.5 381.1L198.8 381.1L198.0 381.1L197.2 381.1L196.8 381.0L196.0 380.9L195.5 380.8L194.8 380.6L194.2 380.4L193.8 380.2L193.2 379.9L192.8 379.7L192.2 379.4L191.8 379.1L191.5 378.8L191.0 378.3L190.8 377.9L190.5 377.5L190.3 376.8L190.2 376.3L190.2 375.6L190.2 374.8L190.3 374.3L190.3 373.6L190.4 372.8L190.4 372.1L190.5 371.3L190.5 370.8L190.7 370.1L190.8 369.6L191.0 369.0L191.2 368.4L191.5 367.9L191.8 367.5L192.0 367.1L192.4 366.6L192.8 366.1L193.0 365.8L193.5 365.4L193.8 365.1L194.2 364.7L194.8 364.3L195.2 364.1L195.7 363.8L196.2 363.6L196.8 363.4L197.2 363.3L198.0 363.2L198.8 363.2L199.5 363.3L200.0 363.4L200.8 363.5L201.2 363.7L201.8 363.9L202.2 364.1L202.8 364.3L203.2 364.6L203.8 364.9L204.2 365.2L204.6 365.6L205.0 365.9L205.5 366.3L205.8 366.6L206.2 367.1L206.5 367.4L206.8 367.8L207.1 368.3L207.4 368.8L207.6 369.3L207.8 369.8L207.9 370.6L208.0 371.3L207.9 372.1L207.8 372.8L207.7 373.3L207.5 374.0L207.4 374.6L207.2 375.1L207.0 375.6L206.8 376.2L206.5 376.7L206.2 377.2L206.0 377.6L205.6 378.1L205.2 378.5L204.9 378.8L204.5 379.2L204.0 379.5L203.6 379.8L203.1 380.1L202.6 380.3L202.0 380.5L201.5 380.7L201.0 380.8L200.2 381.0L199.7 381.1Z" fill="#000" fill-opacity="0.1" stroke="#111" stroke-width="0.6" stroke-linejoin="round"/>
<path d="M200.0 381.8L199.2 381.9L198.5 381.9L197.8 381.9L197.2 381.8L196.5 381.7L195.8 381.6L195.2 381.4L194.8 381.3L194.1 381.1L193.5 380.8L193.0 380.6L192.5 380.3L192.0 380.1L191.6 379.8L191.2 379.6L190.8 379.1L190.4 378.8L190.0 378.3L189.8 377.9L189.5 377.4L189.3 376.8L189.2 376.3L189.2 375.6L189.2 374.8L189.3 374.3L189.3 373.6L189.3 372.8L189.4 372.1L189.4 371.3L189.5 370.7L189.6 370.1L189.8 369.5L190.0 368.8L190.2 368.3L190.4 367.8L190.6 367.3L190.9 366.8L191.2 366.3L191.5 366.0L191.8 365.6L192.2 365.1L192.5 364.8L193.0 364.3L193.2 364.0L193.7 363.6L194.0 363.3L194.5 362.9L194.9 362.6L195.2 362.3L195.8 361.9L196.2 361.7L196.8 361.5L197.5 361.5L198.0 361.6L198.8 361.7L199.2 361.9L199.8 362.1L200.5 362.3L201.0 362.4L201.5 362.6L202.0 362.8L202.6 363.1L203.1 363.3L203.6 363.6L204.0 363.8L204.5 364.1L205.0 364.4L205.5 364.8L205.8 365.1L206.2 365.4L206.8 365.8L207.1 366.1L207.5 366.4L208.0 366.7L208.5 367.0L208.9 367.3L209.3 367.6L209.8 367.9L210.0 368.3L210.2 369.0L210.3 369.6L210.2 370.1L210.0 370.7L209.8 371.3L209.6 371.8L209.4 372.3L209.2 372.8L209.0 373.5L208.8 374.1L208.6 374.6L208.4 375.1L208.2 375.6L208.0 376.1L207.7 376.6L207.5 377.1L207.2 377.6L206.8 378.1L206.5 378.5L206.2 378.8L205.8 379.3L205.4 379.6L205.0 379.9L204.5 380.2L204.0 380.5L203.5 380.8L203.0 381.0L202.5 381.2L202.0 381.4L201.5 381.6L200.8 381.7L200.1 381.8Z" fill="#000" fill-opacity="0" stroke="#111" stroke-width="0.6" stroke-linejoin="round"/>
<path d="M200.5 382.8L199.8 382.9L199.0 382.9L198.2 382.9L197.5 382.9L197.0 382.8L196.2 382.7L195.8 382.5L195.0 382.3L194.5 382.2L194.0 382.0L193.5 381.8L192.9 381.6L192.4 381.3L192.0 381.1L191.5 380.8L191.0 380.5L190.5 380.1L190.1 379.8L189.8 379.5L189.3 379.1L189.0 378.6L188.8 378.2L188.5 377.8L188.2 377.1L188.1 376.6L188.1 375.8L188.0 375.1L188.1 374.3L188.1 373.6L188.1 372.8L188.1 372.1L188.2 371.3L188.2 370.6L188.3 370.1L188.5 369.3L188.6 368.8L188.8 368.3L189.0 367.8L189.2 367.3L189.5 366.8L189.8 366.3L190.1 365.8L190.4 365.3L190.8 364.9L191.0 364.5L191.4 364.1L191.8 363.6L192.0 363.3L192.4 362.8L192.7 362.3L193.0 361.9L193.2 361.4L193.5 360.8L193.6 360.3L193.8 359.8L193.9 359.1L194.0 358.6L194.2 357.8L194.5 357.3L194.8 357.0L195.2 356.6L195.8 356.4L196.5 356.4L197.0 356.6L197.5 357.0L197.8 357.3L198.1 357.8L198.4 358.3L198.7 358.8L199.0 359.2L199.2 359.6L199.7 360.1L200.1 360.3L200.5 360.6L201.0 360.9L201.5 361.1L202.0 361.4L202.5 361.6L203.0 361.8L203.5 362.1L204.0 362.3L204.5 362.6L205.0 362.9L205.5 363.2L206.0 363.5L206.5 363.8L207.0 364.0L207.5 364.3L208.0 364.4L208.7 364.6L209.2 364.6L210.0 364.7L210.6 364.8L211.2 365.1L211.5 365.3L212.0 365.8L212.2 366.2L212.5 366.8L212.6 367.3L212.7 368.1L212.7 368.8L212.7 369.6L212.5 370.3L212.3 370.8L212.1 371.3L211.9 371.8L211.6 372.3L211.3 372.8L211.0 373.3L210.8 373.7L210.5 374.1L210.2 374.6L210.0 375.1L209.7 375.6L209.4 376.1L209.2 376.6L208.9 377.1L208.6 377.6L208.3 378.1L208.0 378.4L207.7 378.8L207.3 379.3L207.0 379.6L206.5 380.1L206.2 380.3L205.8 380.7L205.2 381.0L204.8 381.3L204.4 381.6L203.9 381.8L203.4 382.1L202.8 382.3L202.2 382.4L201.8 382.6L201.0 382.7L200.5 382.8Z" fill="#000" fill-opacity="0" stroke="#111" stroke-width="0.6" stroke-linejoin="round"/>
<path d="M200.2 384.1L199.5 384.1L198.8 384.1L198.0 384.1L197.5 384.1L196.8 383.9L196.0 383.8L195.5 383.7L195.0 383.5L194.4 383.3L193.8 383.1L193.2 382.8L192.8 382.6L192.2 382.3L191.8 382.1L191.3 381.8L190.9 381.6L190.5 381.3L190.0 380.9L189.5 380.6L189.2 380.3L188.8 379.8L188.5 379.6L188.1 379.1L187.8 378.6L187.5 378.2L187.2 377.6L187.1 377.1L187.0 376.6L186.9 375.8L186.8 375.1L186.8 374.3L186.8 373.6L186.8 372.8L186.9 372.1L186.9 371.3L187.0 370.6L187.0 370.1L187.2 369.3L187.3 368.8L187.5 368.2L187.7 367.6L187.9 367.1L188.2 366.6L188.4 366.1L188.7 365.6L189.0 365.1L189.2 364.7L189.5 364.3L189.9 363.8L190.2 363.3L190.5 363.0L190.8 362.6L191.1 362.1L191.4 361.6L191.6 361.1L191.8 360.5L191.9 359.8L192.0 359.2L192.1 358.6L192.2 357.9L192.4 357.3L192.6 356.8L192.8 356.3L193.0 355.8L193.4 355.3L193.8 354.9L194.2 354.6L194.7 354.3L195.2 354.1L195.8 354.0L196.5 354.0L197.0 354.1L197.5 354.3L198.0 354.7L198.5 355.1L198.8 355.3L199.1 355.8L199.5 356.3L199.7 356.8L200.0 357.3L200.2 357.7L200.5 358.1L200.8 358.6L201.2 359.1L201.5 359.3L202.0 359.7L202.5 360.0L202.9 360.3L203.4 360.6L203.9 360.8L204.4 361.1L204.9 361.3L205.3 361.6L205.8 361.8L206.3 362.1L206.9 362.3L207.5 362.5L208.0 362.6L208.8 362.6L209.5 362.6L210.2 362.7L211.0 362.8L211.5 363.0L212.0 363.3L212.4 363.6L212.8 363.9L213.0 364.3L213.3 364.8L213.6 365.3L213.8 365.8L213.9 366.6L214.0 367.1L214.1 367.8L214.1 368.6L214.1 369.3L214.0 370.0L213.9 370.6L213.8 371.1L213.5 371.8L213.3 372.3L213.1 372.8L212.8 373.3L212.5 373.8L212.2 374.3L212.0 374.6L211.7 375.1L211.4 375.6L211.1 376.1L210.8 376.5L210.5 376.9L210.2 377.3L209.9 377.8L209.6 378.3L209.2 378.8L209.0 379.1L208.7 379.6L208.2 380.0L208.0 380.3L207.5 380.8L207.2 381.1L206.8 381.4L206.2 381.8L205.9 382.1L205.5 382.3L205.0 382.6L204.5 382.8L204.0 383.1L203.5 383.3L202.8 383.5L202.2 383.7L201.8 383.8L201.0 384.0L200.5 384.1Z" fill="#000" fill-opacity="0" stroke="#111" stroke-width="0.6" stroke-linejoin="round"/>
<path d="M201.0 385.3L200.2 385.4L199.5 385.5L198.8 385.5L198.0 385.4L197.2 385.4L196.8 385.3L196.0 385.1L195.5 385.0L194.8 384.8L194.2 384.6L193.8 384.4L193.2 384.2L192.8 384.0L192.2 383.7L191.8 383.4L191.2 383.1L190.8 382.8L190.4 382.6L190.0 382.3L189.5 381.9L189.1 381.6L188.8 381.3L188.2 380.8L187.9 380.6L187.5 380.1L187.2 379.8L186.9 379.3L186.5 378.8L186.3 378.3L186.0 377.8L185.9 377.3L185.8 376.8L185.6 376.1L185.6 375.3L185.5 374.6L185.5 373.8L185.5 373.1L185.5 372.3L185.5 371.6L185.6 370.8L185.7 370.1L185.8 369.6L185.9 368.8L186.0 368.3L186.2 367.7L186.5 367.1L186.7 366.6L186.9 366.1L187.2 365.6L187.4 365.1L187.7 364.6L188.0 364.1L188.2 363.8L188.6 363.3L188.9 362.8L189.2 362.3L189.5 361.9L189.8 361.4L190.0 360.9L190.2 360.3L190.4 359.8L190.5 359.2L190.6 358.6L190.8 357.9L190.9 357.3L191.0 356.8L191.2 356.1L191.5 355.6L191.7 355.1L192.0 354.6L192.2 354.3L192.6 353.8L193.0 353.4L193.5 353.1L193.9 352.8L194.5 352.6L195.0 352.4L195.5 352.3L196.2 352.3L196.8 352.3L197.5 352.5L198.0 352.7L198.5 353.0L198.9 353.3L199.2 353.6L199.7 354.1L200.0 354.4L200.3 354.8L200.6 355.3L200.9 355.8L201.2 356.3L201.5 356.8L201.8 357.2L202.0 357.6L202.4 358.1L202.8 358.4L203.2 358.8L203.6 359.1L204.1 359.3L204.5 359.6L205.0 359.8L205.5 360.1L206.0 360.3L206.7 360.6L207.2 360.7L207.8 360.8L208.5 360.9L209.2 360.9L210.0 360.9L210.8 360.9L211.2 361.1L211.9 361.3L212.4 361.6L212.8 361.8L213.2 362.3L213.5 362.6L213.9 363.1L214.2 363.6L214.4 364.1L214.6 364.6L214.8 365.1L215.0 365.8L215.1 366.3L215.2 367.1L215.3 367.6L215.3 368.3L215.3 369.1L215.2 369.6L215.2 370.3L215.0 371.1L214.9 371.6L214.7 372.1L214.5 372.8L214.3 373.3L214.1 373.8L213.8 374.3L213.5 374.8L213.3 375.3L213.0 375.7L212.8 376.1L212.5 376.6L212.1 377.1L211.8 377.6L211.5 378.0L211.2 378.3L210.9 378.8L210.5 379.3L210.2 379.7L209.9 380.1L209.5 380.6L209.2 380.9L208.8 381.3L208.5 381.6L208.0 382.1L207.7 382.3L207.2 382.7L206.8 383.0L206.4 383.3L206.0 383.6L205.5 383.8L205.0 384.1L204.5 384.3L203.9 384.6L203.2 384.8L202.8 384.9L202.2 385.1L201.5 385.2L201.0 385.3Z" fill="#000" fill-opacity="0" stroke="#111" stroke-width="0.6" stroke-linejoin="round"/>
</g>
<path d="M192.4 369V378.5H207" fill="none" stroke="#000" stroke-width="1.6"/>
<g clip-path="url(#p23)">
<path d="M352.6 359.6L351.9 359.7L351.1 359.6L350.6 359.4L350.1 359.1L349.8 358.8L349.6 358.2L349.4 357.5L349.5 356.8L349.7 356.2L350.1 355.8L350.4 355.5L350.9 355.2L351.6 355.1L352.4 355.2L352.9 355.4L353.4 355.7L353.7 356.0L354.0 356.5L354.1 357.0L354.1 357.8L354.0 358.2L353.7 358.8L353.4 359.1L352.9 359.4Z" fill="#000" fill-opacity="0.14" stroke="#111" stroke-width="0.6" stroke-linejoin="round"/>
<path d="M351.6 360.8L351.1 360.7L350.4 360.5L349.9 360.3L349.4 360.0L349.1 359.7L348.8 359.2L348.5 358.8L348.4 358.1L348.3 357.5L348.3 356.8L348.4 356.2L348.6 355.7L348.9 355.2L349.4 354.8L349.7 354.5L350.3 354.2L350.9 354.1L351.6 354.1L352.4 354.1L352.9 354.3L353.4 354.5L353.9 354.8L354.4 355.2L354.6 355.5L354.9 356.0L355.1 356.5L355.2 357.2L355.2 358.0L355.0 358.5L354.8 359.0L354.4 359.5L354.1 359.8L353.6 360.2L353.1 360.5L352.6 360.6L351.9 360.7Z" fill="#000" fill-opacity="0.14" stroke="#111" stroke-width="0.6" stroke-linejoin="round"/>
<path d="M352.6 361.5L351.9 361.6L351.1 361.6L350.4 361.5L349.9 361.4L349.4 361.2L348.9 361.0L348.4 360.5L348.1 360.2L347.8 359.8L347.6 359.2L347.4 358.5L347.3 358.0L347.3 357.2L347.3 356.5L347.4 356.0L347.6 355.2L347.8 354.8L348.1 354.4L348.5 354.0L348.9 353.8L349.4 353.5L350.1 353.3L350.6 353.2L351.4 353.2L352.1 353.2L352.6 353.3L353.3 353.5L353.9 353.7L354.3 354.0L354.6 354.2L355.1 354.7L355.4 355.0L355.7 355.5L355.9 356.0L356.1 356.8L356.1 357.2L356.1 357.8L355.9 358.5L355.8 359.0L355.5 359.5L355.1 360.0L354.9 360.3L354.4 360.7L353.9 361.0L353.4 361.2L352.9 361.5Z" fill="#000" fill-opacity="0.14" stroke="#111" stroke-width="0.6" stroke-linejoin="round"/>
<path d="M352.9 362.3L352.1 362.4L351.4 362.5L350.6 362.5L349.9 362.4L349.1 362.3L348.6 362.1L348.1 361.9L347.6 361.6L347.2 361.2L347.0 360.8L346.8 360.2L346.6 359.5L346.5 359.0L346.4 358.2L346.4 357.6L346.3 357.0L346.3 356.2L346.3 355.5L346.4 355.0L346.6 354.4L346.9 353.9L347.1 353.5L347.6 353.1L348.1 352.8L348.6 352.6L349.1 352.5L349.9 352.4L350.6 352.3L351.4 352.3L352.1 352.4L352.8 352.5L353.4 352.6L353.9 352.8L354.4 353.1L354.9 353.4L355.3 353.8L355.6 354.0L356.0 354.5L356.3 355.0L356.6 355.5L356.8 356.0L356.9 356.5L356.9 357.2L356.9 358.0L356.8 358.5L356.6 359.1L356.4 359.6L356.1 360.1L355.8 360.5L355.4 360.9L355.0 361.2L354.6 361.5L354.1 361.8L353.6 362.0L353.0 362.2Z" fill="#000" fill-opacity="0.14" stroke="#111" stroke-width="0.6" stroke-linejoin="round"/>
<path d="M352.1 363.3L351.4 363.3L350.6 363.4L349.9 363.4L349.1 363.4L348.4 363.4L347.6 363.4L346.9 363.4L346.1 363.4L345.6 363.2L345.4 362.5L345.4 361.8L345.5 361.0L345.5 360.2L345.5 359.5L345.5 358.8L345.4 358.0L345.4 357.2L345.3 356.8L345.2 356.0L345.2 355.2L345.2 354.5L345.2 353.8L345.4 353.2L345.6 352.7L346.0 352.2L346.4 352.0L347.0 351.8L347.6 351.6L348.2 351.5L348.9 351.4L349.6 351.4L350.4 351.4L351.1 351.4L351.9 351.5L352.4 351.6L353.1 351.7L353.6 351.9L354.1 352.1L354.6 352.3L355.1 352.6L355.6 352.9L356.0 353.2L356.4 353.6L356.7 354.0L357.0 354.5L357.3 355.0L357.5 355.5L357.6 356.0L357.8 356.8L357.8 357.5L357.7 358.2L357.6 358.8L357.4 359.4L357.1 360.0L356.9 360.4L356.6 360.8L356.2 361.2L355.9 361.6L355.4 362.0L355.0 362.2L354.5 362.5L354.0 362.8L353.4 363.0L352.9 363.1L352.2 363.2Z" fill="#000" fill-opacity="0.14" stroke="#111" stroke-width="0.6" stroke-linejoin="round"/>
<path d="M344.9 365.8L344.1 365.9L343.4 366.0L342.7 365.8L342.4 365.5L342.2 364.8L342.4 364.0L342.6 363.5L342.9 363.1L343.1 362.7L343.4 362.2L343.7 361.8L343.9 361.2L344.1 360.8L344.3 360.0L344.4 359.5L344.4 358.8L344.4 358.0L344.3 357.5L344.2 356.8L344.1 356.0L344.0 355.5L343.9 354.9L343.7 354.2L343.6 353.6L343.5 353.0L343.5 352.2L343.7 351.8L343.9 351.2L344.4 350.8L344.8 350.5L345.4 350.3L345.9 350.2L346.6 350.2L347.4 350.2L347.9 350.2L348.6 350.3L349.4 350.4L350.1 350.4L350.9 350.5L351.4 350.5L352.1 350.6L352.8 350.8L353.4 350.9L353.9 351.0L354.4 351.2L355.0 351.5L355.4 351.8L355.9 352.0L356.4 352.4L356.8 352.8L357.1 353.1L357.4 353.5L357.7 354.0L358.0 354.5L358.2 355.0L358.4 355.5L358.6 356.2L358.6 356.8L358.7 357.5L358.6 358.1L358.5 358.8L358.3 359.2L358.1 359.9L357.9 360.4L357.6 360.8L357.3 361.2L356.9 361.8L356.6 362.1L356.1 362.5L355.8 362.8L355.4 363.0L354.9 363.3L354.4 363.5L353.8 363.8L353.1 363.9L352.6 364.0L351.9 364.2L351.1 364.2L350.6 364.3L349.9 364.4L349.1 364.4L348.6 364.5L347.9 364.7L347.4 364.9L346.9 365.0L346.3 365.2L345.7 365.5L345.1 365.7Z" fill="#000" fill-opacity="0.14" stroke="#111" stroke-width="0.6" stroke-linejoin="round"/>
<path d="M342.9 367.5L342.1 367.5L341.6 367.5L340.9 367.2L340.5 367.0L340.1 366.5L340.0 366.0L340.1 365.3L340.3 364.8L340.5 364.2L340.8 363.8L341.1 363.3L341.4 362.9L341.7 362.5L342.0 362.0L342.3 361.5L342.6 361.0L342.9 360.5L343.0 360.0L343.2 359.5L343.3 358.8L343.2 358.0L343.1 357.2L343.0 356.8L342.9 356.1L342.6 355.5L342.5 355.0L342.3 354.5L342.1 353.9L341.9 353.2L341.8 352.8L341.7 352.0L341.8 351.2L341.9 350.8L342.1 350.2L342.5 349.8L342.9 349.4L343.4 349.0L343.9 348.8L344.4 348.7L345.1 348.6L345.9 348.6L346.6 348.7L347.1 348.8L347.9 348.9L348.4 349.0L349.1 349.1L349.7 349.2L350.4 349.3L351.1 349.5L351.6 349.5L352.4 349.7L352.9 349.8L353.6 350.0L354.1 350.1L354.6 350.3L355.1 350.5L355.7 350.8L356.1 351.0L356.6 351.3L357.1 351.7L357.4 352.0L357.9 352.5L358.1 352.8L358.4 353.2L358.7 353.8L359.0 354.2L359.2 354.8L359.4 355.2L359.5 356.0L359.6 356.5L359.6 357.2L359.6 358.0L359.5 358.5L359.4 359.2L359.2 359.8L359.0 360.2L358.8 360.8L358.5 361.2L358.1 361.8L357.9 362.1L357.5 362.5L357.1 362.9L356.7 363.2L356.4 363.5L355.9 363.8L355.4 364.1L354.9 364.4L354.4 364.6L353.8 364.8L353.1 364.9L352.6 365.0L351.9 365.1L351.1 365.2L350.6 365.3L349.9 365.4L349.4 365.5L348.6 365.7L348.1 365.9L347.6 366.0L347.1 366.2L346.5 366.5L345.9 366.8L345.4 366.9L344.9 367.1L344.4 367.3L343.6 367.4L342.9 367.5Z" fill="#000" fill-opacity="0.14" stroke="#111" stroke-width="0.6" stroke-linejoin="round"/>
<path d="M343.1 368.5L342.4 368.6L341.6 368.7L340.9 368.7L340.1 368.7L339.5 368.5L338.9 368.2L338.6 368.0L338.3 367.5L338.2 366.8L338.3 366.0L338.5 365.5L338.7 365.0L339.0 364.5L339.3 364.0L339.6 363.6L339.9 363.2L340.2 362.8L340.6 362.3L340.9 361.9L341.1 361.5L341.4 361.0L341.7 360.5L341.9 360.0L342.1 359.3L342.2 358.8L342.1 358.0L342.1 357.5L341.9 356.8L341.7 356.2L341.5 355.8L341.3 355.2L341.1 354.7L340.9 354.1L340.7 353.5L340.5 353.0L340.4 352.2L340.4 351.5L340.4 350.8L340.6 350.1L340.8 349.5L341.1 349.1L341.4 348.8L341.9 348.3L342.2 348.0L342.6 347.8L343.2 347.5L343.9 347.3L344.6 347.3L344.9 347.2L345.6 347.3L346.4 347.4L346.9 347.5L347.6 347.7L348.1 347.8L348.9 348.0L349.4 348.1L350.0 348.2L350.6 348.4L351.2 348.5L351.9 348.6L352.5 348.8L353.1 348.9L353.6 349.0L354.4 349.2L354.9 349.4L355.4 349.6L355.9 349.8L356.4 350.1L356.9 350.4L357.4 350.7L357.7 351.0L358.1 351.4L358.5 351.8L358.9 352.2L359.1 352.5L359.4 353.0L359.7 353.5L359.9 354.0L360.1 354.5L360.3 355.2L360.5 355.8L360.6 356.5L360.6 357.2L360.5 358.0L360.4 358.8L360.3 359.2L360.1 360.0L359.9 360.5L359.7 361.0L359.4 361.5L359.1 362.0L358.9 362.3L358.5 362.8L358.1 363.2L357.8 363.5L357.4 363.9L356.9 364.2L356.5 364.5L356.1 364.8L355.6 365.0L355.1 365.2L354.4 365.5L353.9 365.7L353.4 365.8L352.6 366.0L352.1 366.0L351.4 366.1L350.6 366.2L350.1 366.3L349.4 366.5L348.9 366.6L348.4 366.8L347.8 367.0L347.1 367.2L346.6 367.5L346.1 367.7L345.6 367.8L345.1 368.0L344.4 368.2L343.9 368.4L343.3 368.5Z" fill="#000" fill-opacity="0.14" stroke="#111" stroke-width="0.6" stroke-linejoin="round"/>
<path d="M341.9 369.8L341.1 369.9L340.4 369.9L339.6 370.0L338.9 369.9L338.1 369.8L337.6 369.5L337.1 369.2L336.9 369.0L336.6 368.5L336.4 367.8L336.4 367.0L336.6 366.4L336.9 365.8L337.1 365.3L337.4 364.9L337.6 364.5L338.0 364.0L338.4 363.6L338.6 363.2L339.0 362.8L339.4 362.3L339.6 361.9L339.9 361.5L340.2 361.0L340.5 360.5L340.7 360.0L340.9 359.5L341.0 358.8L341.0 358.0L340.9 357.4L340.7 356.8L340.5 356.2L340.2 355.8L340.0 355.2L339.8 354.8L339.6 354.2L339.4 353.5L339.2 353.0L339.1 352.2L339.1 351.8L339.1 351.0L339.1 350.5L339.3 349.8L339.5 349.2L339.7 348.8L340.0 348.2L340.4 347.8L340.7 347.5L341.1 347.1L341.6 346.8L342.1 346.5L342.6 346.3L343.1 346.2L343.9 346.0L344.4 346.0L345.1 346.0L345.6 346.0L346.4 346.2L346.9 346.3L347.6 346.5L348.1 346.6L348.6 346.8L349.4 347.0L349.9 347.1L350.5 347.2L351.1 347.4L351.6 347.5L352.4 347.7L352.9 347.8L353.6 347.9L354.1 348.1L354.7 348.2L355.4 348.5L355.9 348.7L356.4 348.9L356.9 349.2L357.4 349.5L357.8 349.8L358.1 350.0L358.6 350.4L358.9 350.8L359.4 351.2L359.6 351.5L360.0 352.0L360.3 352.5L360.6 353.0L360.8 353.5L361.0 354.0L361.2 354.5L361.4 355.0L361.5 355.8L361.6 356.5L361.6 357.0L361.6 357.6L361.5 358.2L361.4 359.0L361.3 359.5L361.1 360.2L360.9 360.8L360.7 361.2L360.4 361.8L360.1 362.2L359.9 362.7L359.6 363.0L359.2 363.5L358.9 363.9L358.5 364.2L358.1 364.6L357.6 365.0L357.2 365.2L356.8 365.5L356.3 365.8L355.8 366.0L355.3 366.2L354.6 366.5L354.1 366.6L353.6 366.8L352.9 366.9L352.4 367.0L351.6 367.1L350.9 367.2L350.4 367.3L349.6 367.5L349.1 367.6L348.6 367.8L347.9 368.0L347.4 368.2L346.9 368.4L346.4 368.5L345.8 368.8L345.1 369.0L344.6 369.1L344.1 369.3L343.4 369.5L342.9 369.6L342.1 369.7Z" fill="#000" fill-opacity="0" stroke="#111" stroke-width="0.6" stroke-linejoin="round"/>
<path d="M339.6 371.3L338.9 371.3L338.1 371.3L337.6 371.2L336.9 371.1L336.4 370.9L335.9 370.6L335.5 370.2L335.1 369.8L334.9 369.4L334.6 368.8L334.6 368.2L334.6 367.6L334.7 367.0L334.9 366.5L335.1 366.0L335.4 365.5L335.7 365.0L336.1 364.5L336.4 364.2L336.7 363.8L337.1 363.3L337.4 363.0L337.8 362.5L338.1 362.1L338.4 361.8L338.7 361.2L339.0 360.8L339.3 360.2L339.5 359.8L339.6 359.2L339.7 358.5L339.6 357.9L339.4 357.2L339.2 356.8L339.0 356.2L338.8 355.8L338.6 355.2L338.4 354.6L338.1 354.0L338.0 353.5L337.9 353.0L337.7 352.2L337.7 351.5L337.7 350.8L337.8 350.0L337.9 349.5L338.1 348.9L338.4 348.3L338.6 347.8L338.9 347.5L339.2 347.0L339.6 346.6L339.9 346.2L340.4 345.9L340.9 345.6L341.4 345.3L341.9 345.1L342.4 344.9L343.0 344.8L343.6 344.7L344.4 344.6L345.1 344.6L345.9 344.7L346.4 344.8L347.1 345.0L347.6 345.1L348.1 345.2L348.9 345.5L349.4 345.6L349.9 345.8L350.6 346.0L351.1 346.1L351.6 346.2L352.4 346.4L352.9 346.5L353.6 346.7L354.1 346.8L354.7 347.0L355.4 347.2L355.9 347.4L356.4 347.6L356.9 347.8L357.4 348.1L357.9 348.3L358.4 348.7L358.8 349.0L359.1 349.2L359.6 349.7L359.9 350.0L360.4 350.4L360.6 350.8L361.0 351.2L361.3 351.8L361.6 352.2L361.9 352.7L362.1 353.2L362.3 353.8L362.4 354.2L362.6 354.9L362.7 355.5L362.8 356.2L362.8 357.0L362.8 357.8L362.7 358.5L362.6 359.2L362.5 359.8L362.4 360.3L362.1 361.0L361.9 361.5L361.6 362.0L361.4 362.5L361.1 362.9L360.9 363.3L360.5 363.8L360.1 364.2L359.9 364.5L359.4 365.0L359.1 365.3L358.6 365.7L358.2 366.0L357.8 366.2L357.4 366.5L356.9 366.8L356.4 367.1L355.9 367.3L355.3 367.5L354.6 367.7L354.1 367.9L353.5 368.0L352.9 368.1L352.1 368.2L351.6 368.3L350.9 368.4L350.3 368.5L349.6 368.6L349.1 368.8L348.4 369.0L347.9 369.1L347.4 369.3L346.7 369.5L346.1 369.7L345.6 369.9L345.1 370.0L344.4 370.2L343.9 370.4L343.4 370.5L342.6 370.7L342.1 370.8L341.4 371.0L340.9 371.1L340.1 371.2L339.6 371.3Z" fill="#000" fill-opacity="0" stroke="#111" stroke-width="0.6" stroke-linejoin="round"/>
<path d="M339.1 372.5L338.4 372.6L337.6 372.6L337.0 372.5L336.4 372.4L335.9 372.2L335.3 372.0L334.9 371.7L334.4 371.3L334.0 371.0L333.6 370.5L333.4 370.0L333.2 369.5L333.0 369.0L333.0 368.2L333.1 367.5L333.2 367.0L333.4 366.5L333.6 366.0L333.9 365.5L334.3 365.0L334.6 364.5L334.9 364.2L335.2 363.8L335.6 363.3L335.9 363.0L336.4 362.5L336.6 362.2L337.0 361.8L337.4 361.3L337.6 360.9L337.9 360.5L338.1 360.0L338.3 359.2L338.3 358.5L338.2 357.8L338.0 357.2L337.8 356.8L337.6 356.2L337.4 355.6L337.1 355.0L336.9 354.5L336.8 354.0L336.6 353.3L336.5 352.8L336.4 352.0L336.4 351.2L336.4 350.5L336.5 349.8L336.6 349.2L336.8 348.5L337.0 348.0L337.3 347.5L337.5 347.0L337.9 346.6L338.1 346.2L338.5 345.8L338.9 345.4L339.3 345.0L339.7 344.8L340.1 344.5L340.6 344.2L341.1 344.0L341.7 343.8L342.4 343.6L342.9 343.4L343.6 343.3L344.4 343.3L345.1 343.3L345.9 343.4L346.4 343.5L347.1 343.7L347.6 343.8L348.3 344.0L348.9 344.2L349.4 344.3L350.0 344.5L350.6 344.7L351.1 344.8L351.8 345.0L352.4 345.1L352.9 345.3L353.6 345.4L354.1 345.6L354.8 345.8L355.4 345.9L355.9 346.1L356.4 346.2L357.0 346.5L357.5 346.8L358.0 347.0L358.5 347.2L358.9 347.5L359.4 347.8L359.9 348.2L360.2 348.5L360.6 348.9L361.0 349.2L361.4 349.7L361.6 350.0L362.0 350.5L362.3 351.0L362.6 351.4L362.9 351.9L363.1 352.4L363.3 353.0L363.5 353.5L363.7 354.0L363.9 354.7L363.9 355.2L364.0 356.0L364.1 356.8L364.1 357.5L364.0 358.2L363.9 359.0L363.8 359.5L363.7 360.2L363.5 360.8L363.3 361.2L363.1 361.8L362.9 362.4L362.6 362.8L362.4 363.3L362.0 363.8L361.7 364.2L361.4 364.7L361.1 365.0L360.6 365.5L360.4 365.8L359.9 366.2L359.5 366.5L359.1 366.8L358.6 367.2L358.1 367.5L357.7 367.8L357.2 368.0L356.7 368.2L356.1 368.5L355.6 368.7L355.1 368.8L354.6 369.0L353.9 369.2L353.4 369.3L352.6 369.4L351.9 369.5L351.4 369.5L350.6 369.6L349.9 369.8L349.4 369.8L348.6 370.0L348.1 370.1L347.6 370.3L346.9 370.5L346.4 370.7L345.9 370.8L345.2 371.0L344.6 371.2L344.1 371.3L343.6 371.5L342.9 371.7L342.4 371.8L341.7 372.0L341.1 372.2L340.6 372.3L339.9 372.4L339.2 372.5Z" fill="#000" fill-opacity="0" stroke="#111" stroke-width="0.6" stroke-linejoin="round"/>
<path d="M338.1 373.8L337.4 373.8L336.8 373.8L336.1 373.6L335.5 373.5L334.9 373.3L334.4 373.0L333.9 372.8L333.5 372.5L333.1 372.1L332.8 371.8L332.4 371.3L332.1 370.9L331.9 370.5L331.6 370.0L331.4 369.3L331.2 368.8L331.2 368.0L331.4 367.5L331.6 366.9L331.9 366.4L332.1 366.0L332.4 365.5L332.8 365.0L333.1 364.5L333.4 364.2L333.7 363.8L334.1 363.4L334.4 363.0L334.9 362.5L335.1 362.2L335.5 361.8L335.9 361.4L336.1 361.0L336.5 360.5L336.7 360.0L336.9 359.5L336.9 358.8L336.9 358.0L336.7 357.5L336.5 357.0L336.3 356.5L336.1 356.0L335.9 355.3L335.6 354.8L335.5 354.2L335.4 353.7L335.2 353.0L335.1 352.3L335.0 351.8L335.0 351.0L335.1 350.2L335.1 349.8L335.3 349.0L335.4 348.5L335.6 348.0L335.9 347.4L336.1 346.9L336.4 346.4L336.6 346.0L337.0 345.5L337.4 345.1L337.6 344.8L338.1 344.3L338.5 344.0L338.9 343.7L339.4 343.4L339.9 343.1L340.4 342.8L340.9 342.6L341.4 342.5L342.1 342.3L342.6 342.1L343.4 342.0L344.1 342.0L344.9 342.0L345.6 342.1L346.4 342.2L346.9 342.3L347.6 342.4L348.1 342.6L348.7 342.8L349.4 343.0L349.9 343.1L350.4 343.3L351.1 343.5L351.6 343.6L352.1 343.8L352.9 343.9L353.4 344.0L354.1 344.2L354.6 344.3L355.2 344.5L355.9 344.7L356.4 344.9L356.9 345.0L357.4 345.2L358.0 345.5L358.5 345.8L358.9 346.0L359.4 346.2L359.9 346.6L360.4 346.9L360.8 347.2L361.1 347.5L361.6 348.0L361.9 348.2L362.3 348.8L362.6 349.1L362.9 349.5L363.3 350.0L363.6 350.5L363.9 350.9L364.1 351.4L364.4 351.9L364.6 352.5L364.8 353.0L364.9 353.5L365.1 354.2L365.2 354.8L365.3 355.5L365.4 356.0L365.4 356.8L365.4 357.5L365.4 358.2L365.3 358.8L365.2 359.5L365.1 360.0L364.9 360.8L364.7 361.2L364.5 361.8L364.3 362.2L364.1 362.8L363.9 363.3L363.6 363.8L363.3 364.2L362.9 364.8L362.6 365.2L362.4 365.5L361.9 366.0L361.6 366.4L361.2 366.8L360.9 367.1L360.4 367.5L360.0 367.8L359.6 368.1L359.1 368.4L358.6 368.7L358.1 369.0L357.6 369.2L357.1 369.5L356.6 369.7L356.1 369.9L355.6 370.0L354.9 370.2L354.4 370.4L353.7 370.5L353.1 370.6L352.4 370.7L351.9 370.8L351.1 370.8L350.4 370.9L349.6 371.0L349.1 371.1L348.4 371.2L347.9 371.3L347.2 371.5L346.6 371.7L346.1 371.8L345.4 372.0L344.9 372.2L344.4 372.3L343.7 372.5L343.1 372.7L342.6 372.8L342.0 373.0L341.4 373.2L340.9 373.3L340.1 373.5L339.6 373.6L338.9 373.7L338.3 373.8Z" fill="#000" fill-opacity="0" stroke="#111" stroke-width="0.6" stroke-linejoin="round"/>
<path d="M327.1 369.3L326.4 369.5L325.6 369.4L325.1 369.2L324.6 368.9L324.4 368.5L324.3 367.8L324.5 367.2L324.9 366.9L325.4 366.6L326.1 366.5L326.9 366.7L327.4 366.9L327.7 367.2L328.0 367.8L328.0 368.5L327.6 368.9L327.1 369.2Z" fill="#000" fill-opacity="0" stroke="#111" stroke-width="0.6" stroke-linejoin="round"/>
<path d="M338.9 374.8L338.1 374.8L337.4 374.9L336.6 374.9L335.9 374.8L335.4 374.6L334.8 374.5L334.2 374.2L333.7 374.0L333.2 373.8L332.9 373.5L332.4 373.1L332.0 372.8L331.6 372.4L331.2 372.0L330.9 371.6L330.4 371.2L329.9 371.0L329.4 370.9L328.6 371.0L328.1 371.1L327.5 371.2L326.9 371.3L326.1 371.4L325.4 371.3L324.9 371.2L324.2 371.0L323.7 370.8L323.3 370.5L322.9 370.1L322.6 369.8L322.3 369.2L322.1 368.8L322.0 368.0L322.1 367.2L322.3 366.8L322.6 366.2L322.9 365.9L323.3 365.5L323.7 365.2L324.2 365.0L324.9 364.8L325.4 364.7L326.1 364.6L326.9 364.7L327.4 364.8L328.1 365.0L328.6 365.2L329.1 365.3L329.9 365.5L330.6 365.3L331.0 365.0L331.4 364.7L331.9 364.3L332.1 364.0L332.6 363.5L332.9 363.2L333.2 362.8L333.6 362.4L333.9 362.0L334.4 361.5L334.6 361.2L335.0 360.8L335.3 360.2L335.5 359.8L335.6 359.2L335.6 358.5L335.5 358.0L335.4 357.4L335.1 356.8L334.9 356.2L334.7 355.8L334.5 355.2L334.4 354.6L334.2 354.0L334.1 353.5L333.9 352.8L333.9 352.0L333.8 351.5L333.8 350.8L333.9 350.2L333.9 349.5L334.1 348.8L334.2 348.2L334.4 347.8L334.6 347.2L334.9 346.6L335.1 346.1L335.4 345.7L335.6 345.2L336.0 344.8L336.4 344.3L336.7 344.0L337.1 343.6L337.4 343.2L337.9 342.9L338.4 342.6L338.9 342.3L339.3 342.0L339.8 341.8L340.4 341.5L340.9 341.3L341.4 341.2L342.1 341.0L342.6 340.9L343.4 340.8L344.1 340.8L344.9 340.8L345.6 340.9L346.4 341.0L346.9 341.0L347.6 341.2L348.1 341.3L348.7 341.5L349.4 341.7L349.9 341.8L350.4 342.0L351.1 342.2L351.6 342.3L352.2 342.5L352.9 342.6L353.4 342.8L354.1 342.9L354.6 343.1L355.4 343.2L355.9 343.4L356.4 343.5L357.0 343.8L357.6 344.0L358.1 344.2L358.6 344.4L359.1 344.6L359.6 344.9L360.1 345.2L360.6 345.5L360.9 345.8L361.4 346.1L361.9 346.5L362.2 346.8L362.6 347.2L362.9 347.5L363.4 348.0L363.6 348.3L364.0 348.8L364.3 349.2L364.6 349.6L364.9 350.1L365.1 350.5L365.4 351.0L365.6 351.6L365.9 352.2L366.0 352.8L366.2 353.2L366.4 353.9L366.5 354.5L366.6 355.2L366.7 355.8L366.7 356.5L366.7 357.2L366.7 358.0L366.6 358.7L366.5 359.2L366.4 360.0L366.3 360.5L366.1 361.1L365.9 361.8L365.7 362.2L365.5 362.8L365.3 363.2L365.0 363.8L364.7 364.2L364.4 364.8L364.1 365.2L363.9 365.6L363.6 366.0L363.2 366.5L362.9 366.8L362.5 367.2L362.1 367.6L361.7 368.0L361.4 368.3L360.9 368.7L360.4 369.0L360.1 369.2L359.6 369.6L359.1 369.9L358.6 370.1L358.1 370.4L357.6 370.6L357.1 370.8L356.6 371.0L355.9 371.2L355.4 371.4L354.9 371.5L354.1 371.7L353.6 371.8L352.9 371.9L352.1 372.0L351.6 372.0L350.9 372.1L350.1 372.1L349.4 372.2L348.8 372.2L348.1 372.4L347.4 372.5L346.9 372.6L346.3 372.8L345.6 372.9L345.1 373.1L344.5 373.2L343.9 373.4L343.4 373.6L342.8 373.8L342.1 374.0L341.6 374.1L341.1 374.3L340.4 374.5L339.9 374.6L339.1 374.7Z" fill="#000" fill-opacity="0" stroke="#111" stroke-width="0.6" stroke-linejoin="round"/>
<path d="M342.1 380.5L341.4 380.6L340.6 380.6L339.9 380.5L339.4 380.5L338.6 380.4L338.1 380.2L337.4 380.0L336.9 379.8L336.4 379.5L336.1 379.0L336.4 378.5L336.9 378.1L337.4 377.9L337.9 377.7L338.6 377.5L339.1 377.5L339.9 377.4L340.6 377.4L341.4 377.4L342.1 377.4L342.7 377.5L343.4 377.6L344.0 377.8L344.6 377.9L345.1 378.2L345.6 378.5L345.8 379.0L345.6 379.5L345.1 379.8L344.6 380.0L343.9 380.2L343.4 380.4L342.6 380.5L342.1 380.5Z" fill="#000" fill-opacity="0" stroke="#111" stroke-width="0.6" stroke-linejoin="round"/>
</g>
<g clip-path="url(#p31)">
<path d="M118.0 483.5L117.5 483.4L116.8 483.2L116.4 482.9L116.0 482.6L115.8 482.2L115.5 481.4L115.5 480.9L115.6 480.4L115.8 479.9L116.0 479.4L116.5 478.9L116.9 478.7L117.5 478.5L118.2 478.6L118.8 478.8L119.2 479.2L119.5 479.5L119.8 480.0L120.0 480.7L119.9 481.4L119.8 482.2L119.5 482.6L119.2 482.9L118.8 483.3L118.1 483.4Z" fill="#000" fill-opacity="0.14" stroke="#111" stroke-width="0.6" stroke-linejoin="round"/>
<path d="M118.8 484.5L118.0 484.6L117.2 484.5L116.8 484.4L116.2 484.2L115.8 483.9L115.3 483.4L115.0 483.1L114.7 482.7L114.5 482.1L114.4 481.4L114.4 480.7L114.5 480.1L114.7 479.4L115.0 478.9L115.2 478.6L115.5 478.2L116.0 477.8L116.5 477.5L117.0 477.3L117.8 477.3L118.5 477.4L119.0 477.6L119.5 477.9L119.8 478.2L120.2 478.7L120.5 479.2L120.7 479.7L120.8 480.2L120.9 480.9L120.9 481.7L120.8 482.4L120.5 482.9L120.2 483.4L120.0 483.7L119.5 484.1L119.0 484.4Z" fill="#000" fill-opacity="0.14" stroke="#111" stroke-width="0.6" stroke-linejoin="round"/>
<path d="M118.8 485.5L118.0 485.6L117.2 485.5L116.8 485.4L116.2 485.2L115.7 484.9L115.2 484.7L114.8 484.3L114.4 483.9L114.0 483.5L113.8 483.1L113.5 482.5L113.4 481.9L113.3 481.2L113.4 480.4L113.5 479.9L113.8 479.2L114.0 478.7L114.2 478.2L114.5 477.8L114.8 477.4L115.2 476.9L115.5 476.7L116.0 476.4L116.6 476.2L117.2 476.1L118.0 476.2L118.5 476.3L119.0 476.5L119.5 476.8L120.0 477.2L120.3 477.4L120.7 477.9L121.0 478.4L121.2 478.9L121.5 479.4L121.6 479.9L121.7 480.7L121.8 481.2L121.7 481.7L121.6 482.4L121.5 482.9L121.2 483.5L121.0 483.9L120.6 484.4L120.2 484.8L119.8 485.1L119.2 485.3L118.8 485.5Z" fill="#000" fill-opacity="0.14" stroke="#111" stroke-width="0.6" stroke-linejoin="round"/>
<path d="M118.8 486.5L118.0 486.5L117.5 486.4L116.8 486.3L116.2 486.2L115.7 485.9L115.1 485.7L114.7 485.4L114.2 485.1L113.8 484.7L113.5 484.4L113.0 483.9L112.8 483.5L112.5 483.0L112.3 482.4L112.2 481.9L112.2 481.2L112.3 480.7L112.5 479.9L112.6 479.4L112.8 478.9L113.0 478.4L113.2 477.8L113.5 477.2L113.8 476.7L114.0 476.3L114.3 475.9L114.8 475.5L115.2 475.2L115.8 475.1L116.5 475.0L117.2 475.0L118.0 475.1L118.5 475.3L119.0 475.5L119.5 475.8L120.0 476.1L120.4 476.4L120.8 476.7L121.1 477.2L121.5 477.7L121.8 478.1L122.0 478.6L122.2 479.2L122.4 479.7L122.5 480.4L122.5 480.9L122.5 481.7L122.5 482.2L122.3 482.9L122.2 483.4L122.0 483.9L121.7 484.4L121.4 484.9L121.0 485.4L120.7 485.7L120.2 486.0L119.8 486.2L119.0 486.4Z" fill="#000" fill-opacity="0.14" stroke="#111" stroke-width="0.6" stroke-linejoin="round"/>
<path d="M119.0 487.5L118.3 487.4L117.8 487.4L117.0 487.3L116.5 487.2L115.8 486.9L115.2 486.8L114.8 486.5L114.2 486.3L113.8 486.0L113.3 485.7L112.9 485.4L112.5 485.1L112.1 484.7L111.8 484.2L111.5 483.9L111.2 483.4L111.0 482.7L111.0 482.2L111.0 481.4L111.0 480.9L111.2 480.2L111.3 479.7L111.5 479.2L111.8 478.5L111.9 477.9L112.1 477.4L112.2 476.7L112.3 476.2L112.5 475.6L112.8 475.0L113.0 474.7L113.5 474.3L114.0 474.1L114.5 473.9L115.2 473.8L116.0 473.8L116.8 473.8L117.4 473.9L118.0 474.1L118.5 474.3L119.0 474.5L119.5 474.7L120.0 475.0L120.5 475.4L120.9 475.7L121.2 476.1L121.6 476.4L122.0 476.9L122.2 477.4L122.5 477.8L122.8 478.4L122.9 478.9L123.1 479.4L123.2 480.2L123.3 480.7L123.3 481.4L123.2 482.1L123.2 482.7L123.0 483.4L122.9 483.9L122.7 484.4L122.5 484.9L122.2 485.4L121.9 485.9L121.5 486.4L121.2 486.7L120.8 487.0L120.2 487.3L119.5 487.4L119.0 487.5Z" fill="#000" fill-opacity="0.14" stroke="#111" stroke-width="0.6" stroke-linejoin="round"/>
<path d="M121.2 488.8L120.5 488.9L119.8 488.8L119.2 488.7L118.5 488.6L117.8 488.4L117.2 488.3L116.7 488.2L116.0 488.0L115.5 487.9L115.0 487.7L114.3 487.4L113.8 487.2L113.2 487.0L112.8 486.7L112.3 486.4L111.8 486.2L111.5 485.9L111.0 485.6L110.5 485.2L110.2 484.9L109.9 484.4L109.6 483.9L109.4 483.4L109.3 482.7L109.3 481.9L109.4 481.2L109.6 480.7L109.8 480.2L110.0 479.5L110.2 478.9L110.3 478.4L110.5 477.8L110.6 477.2L110.6 476.4L110.5 475.9L110.4 475.2L110.4 474.4L110.7 473.9L111.0 473.6L111.5 473.3L112.0 473.1L112.6 472.9L113.2 472.8L114.0 472.7L114.5 472.7L115.2 472.7L115.8 472.7L116.5 472.8L117.2 472.9L117.8 473.0L118.4 473.2L119.0 473.4L119.5 473.6L120.0 473.9L120.5 474.2L120.8 474.4L121.2 474.8L121.6 475.2L122.0 475.6L122.3 475.9L122.7 476.4L123.0 476.9L123.2 477.4L123.5 477.9L123.6 478.4L123.8 478.9L124.0 479.7L124.0 480.2L124.1 480.9L124.1 481.7L124.0 482.4L124.0 482.9L123.8 483.7L123.7 484.2L123.5 484.9L123.3 485.4L123.2 485.9L123.0 486.4L122.7 486.9L122.5 487.4L122.2 487.9L121.8 488.4L121.5 488.7Z" fill="#000" fill-opacity="0.14" stroke="#111" stroke-width="0.6" stroke-linejoin="round"/>
<path d="M123.2 495.5L122.6 495.4L122.4 494.9L122.2 494.4L122.2 493.8L122.4 493.2L123.0 493.1L123.3 493.4L123.5 494.0L123.5 494.7L123.4 495.2Z" fill="#000" fill-opacity="0.14" stroke="#111" stroke-width="0.6" stroke-linejoin="round"/>
<path d="M123.0 498.7L122.5 498.6L122.0 498.3L121.6 497.9L121.3 497.4L121.0 496.9L120.8 496.4L120.7 495.9L120.5 495.2L120.5 494.7L120.4 493.9L120.3 493.2L120.2 492.7L120.1 491.9L119.9 491.4L119.6 490.9L119.2 490.5L118.8 490.2L118.4 489.9L117.8 489.7L117.2 489.5L116.8 489.4L116.2 489.2L115.5 489.0L115.0 488.9L114.5 488.7L113.8 488.5L113.2 488.3L112.8 488.1L112.2 487.9L111.5 487.7L111.0 487.5L110.5 487.3L110.0 487.1L109.5 486.9L109.0 486.6L108.5 486.3L108.0 485.9L107.7 485.7L107.3 485.2L107.0 484.8L106.8 484.2L106.7 483.7L106.7 482.9L106.8 482.4L107.0 481.8L107.2 481.2L107.5 480.7L107.7 480.2L108.0 479.7L108.2 479.2L108.4 478.7L108.6 478.2L108.7 477.4L108.6 476.7L108.5 476.2L108.2 475.5L108.1 474.9L108.1 474.2L108.2 473.7L108.6 473.2L109.0 472.9L109.5 472.6L110.0 472.3L110.5 472.2L111.2 472.0L111.8 471.9L112.5 471.8L113.2 471.7L113.8 471.7L114.5 471.6L115.2 471.7L116.0 471.7L116.5 471.7L117.2 471.9L117.8 472.0L118.5 472.2L119.0 472.3L119.5 472.5L120.0 472.8L120.5 473.0L121.0 473.4L121.5 473.7L121.8 473.9L122.2 474.4L122.5 474.7L122.9 475.2L123.2 475.6L123.5 476.0L123.8 476.4L124.0 476.9L124.2 477.5L124.5 478.2L124.7 478.7L124.8 479.2L124.9 479.9L125.0 480.7L125.0 481.4L125.0 482.2L124.9 482.9L124.8 483.7L124.7 484.2L124.6 484.9L124.5 485.4L124.3 486.2L124.2 486.7L124.1 487.4L124.0 488.2L124.1 488.9L124.2 489.7L124.3 490.2L124.5 490.7L124.7 491.4L124.9 491.9L125.0 492.4L125.2 493.2L125.3 493.7L125.3 494.4L125.3 495.2L125.2 495.7L125.1 496.4L124.9 496.9L124.7 497.4L124.3 497.9L124.0 498.3L123.5 498.6L123.0 498.7Z" fill="#000" fill-opacity="0.14" stroke="#111" stroke-width="0.6" stroke-linejoin="round"/>
<path d="M123.8 500.2L123.0 500.4L122.2 500.2L121.8 500.0L121.4 499.7L121.0 499.3L120.8 498.9L120.5 498.4L120.2 497.9L120.0 497.3L119.8 496.7L119.7 496.2L119.5 495.4L119.4 494.9L119.3 494.2L119.2 493.7L119.0 492.9L118.9 492.4L118.6 491.9L118.2 491.5L117.9 491.2L117.5 490.9L117.0 490.6L116.5 490.4L115.8 490.2L115.2 490.0L114.8 489.9L114.0 489.7L113.5 489.6L113.0 489.4L112.2 489.3L111.8 489.2L111.0 489.0L110.5 488.9L109.8 488.8L109.2 488.7L108.5 488.6L108.0 488.4L107.2 488.3L106.8 488.1L106.2 487.9L105.8 487.7L105.2 487.4L104.8 487.1L104.3 486.7L104.0 486.3L103.7 485.9L103.5 485.4L103.3 484.7L103.3 483.9L103.5 483.2L103.7 482.7L103.9 482.2L104.2 481.7L104.5 481.3L104.8 480.9L105.2 480.4L105.5 480.0L105.8 479.7L106.0 479.2L106.3 478.7L106.5 478.2L106.7 477.4L106.6 476.7L106.5 476.1L106.3 475.4L106.2 474.9L106.2 474.2L106.3 473.7L106.6 473.2L107.0 472.7L107.3 472.4L107.8 472.1L108.2 471.9L108.8 471.7L109.4 471.4L110.0 471.3L110.5 471.2L111.2 471.0L111.9 470.9L112.5 470.9L113.2 470.8L114.0 470.8L114.8 470.8L115.5 470.8L116.2 470.9L117.0 470.9L117.5 471.0L118.2 471.2L118.8 471.3L119.3 471.4L119.9 471.7L120.5 471.9L120.9 472.2L121.3 472.4L121.8 472.7L122.2 473.1L122.6 473.4L123.0 473.9L123.3 474.2L123.7 474.7L124.0 475.1L124.2 475.5L124.5 476.0L124.8 476.4L125.0 477.0L125.2 477.7L125.4 478.2L125.5 478.7L125.7 479.4L125.8 479.9L125.8 480.7L125.9 481.4L125.8 482.2L125.8 482.9L125.7 483.4L125.6 484.2L125.5 484.9L125.4 485.4L125.3 486.2L125.3 486.9L125.2 487.4L125.2 488.1L125.3 488.7L125.4 489.4L125.5 489.9L125.7 490.7L125.8 491.2L126.0 491.9L126.1 492.4L126.2 493.2L126.3 493.7L126.3 494.4L126.3 495.2L126.2 495.7L126.1 496.4L126.0 497.1L125.8 497.7L125.6 498.2L125.4 498.7L125.0 499.2L124.8 499.5L124.3 499.9L123.8 500.2Z" fill="#000" fill-opacity="0.14" stroke="#111" stroke-width="0.6" stroke-linejoin="round"/>
<path d="M124.0 501.7L123.2 501.9L122.5 501.9L121.9 501.7L121.5 501.4L121.0 501.1L120.6 500.7L120.2 500.2L120.0 499.9L119.8 499.4L119.5 498.9L119.2 498.2L119.1 497.7L118.9 497.2L118.8 496.5L118.6 495.9L118.5 495.3L118.4 494.7L118.2 494.2L118.0 493.5L117.8 493.0L117.5 492.6L117.1 492.2L116.8 491.9L116.2 491.6L115.8 491.4L115.0 491.2L114.5 491.1L114.0 490.9L113.2 490.8L112.5 490.7L112.0 490.7L111.2 490.6L110.5 490.6L109.8 490.6L109.0 490.6L108.2 490.6L107.5 490.7L107.0 490.7L106.2 490.8L105.5 490.8L104.8 490.8L104.0 490.8L103.5 490.6L103.0 490.4L102.5 490.2L102.0 489.9L101.5 489.5L101.1 489.2L100.8 488.8L100.4 488.4L100.0 488.0L99.7 487.7L99.4 487.2L99.1 486.7L98.9 486.2L98.8 485.5L98.7 484.9L98.8 484.4L99.0 483.9L99.2 483.4L99.5 482.9L99.9 482.4L100.2 482.0L100.6 481.7L101.0 481.3L101.3 480.9L101.8 480.6L102.1 480.2L102.5 479.9L102.9 479.4L103.2 479.1L103.6 478.7L104.0 478.2L104.2 477.7L104.4 477.2L104.4 476.4L104.4 475.7L104.3 474.9L104.4 474.2L104.5 473.7L104.8 473.1L105.1 472.7L105.5 472.2L105.8 471.9L106.2 471.7L106.8 471.4L107.2 471.2L107.8 470.9L108.5 470.7L109.0 470.6L109.6 470.4L110.2 470.3L111.0 470.2L111.5 470.1L112.2 470.1L113.0 470.0L113.8 470.0L114.2 469.9L115.0 469.9L115.8 469.9L116.2 470.0L117.0 470.0L117.8 470.1L118.3 470.2L119.0 470.4L119.5 470.5L120.1 470.7L120.7 470.9L121.2 471.2L121.6 471.4L122.0 471.7L122.5 472.0L123.0 472.4L123.3 472.7L123.8 473.2L124.0 473.5L124.4 473.9L124.7 474.4L125.0 474.9L125.2 475.3L125.5 475.8L125.8 476.3L126.0 476.9L126.2 477.4L126.3 477.9L126.5 478.7L126.6 479.2L126.7 479.9L126.8 480.5L126.8 481.2L126.8 481.9L126.8 482.5L126.7 483.2L126.6 483.9L126.5 484.7L126.5 485.2L126.4 485.9L126.3 486.7L126.3 487.4L126.4 488.2L126.4 488.9L126.5 489.4L126.7 490.2L126.8 490.7L126.9 491.4L127.0 492.1L127.1 492.7L127.2 493.4L127.2 494.2L127.2 494.9L127.2 495.7L127.1 496.4L127.0 497.0L126.8 497.7L126.7 498.2L126.5 498.8L126.2 499.3L126.0 499.8L125.8 500.2L125.4 500.7L125.0 501.1L124.5 501.4L124.1 501.7Z" fill="#000" fill-opacity="0" stroke="#111" stroke-width="0.6" stroke-linejoin="round"/>
<path d="M123.8 503.5L123.0 503.6L122.2 503.5L121.8 503.3L121.2 503.1L120.8 502.7L120.4 502.4L120.0 502.0L119.8 501.7L119.4 501.2L119.1 500.7L118.9 500.2L118.7 499.7L118.5 499.2L118.2 498.6L118.1 497.9L117.9 497.4L117.8 496.8L117.6 496.2L117.5 495.7L117.2 495.1L117.0 494.5L116.8 494.0L116.5 493.7L116.0 493.2L115.6 492.9L115.0 492.7L114.5 492.5L114.0 492.4L113.2 492.3L112.5 492.3L111.8 492.3L111.0 492.3L110.2 492.4L109.8 492.5L109.0 492.7L108.5 492.8L108.0 493.0L107.5 493.2L106.9 493.4L106.3 493.7L105.8 493.9L105.2 494.2L104.8 494.4L104.2 494.6L103.8 494.7L103.0 494.9L102.5 495.0L101.8 495.1L101.0 495.0L100.5 494.9L99.9 494.7L99.5 494.4L99.0 493.9L98.8 493.6L98.4 493.2L98.1 492.7L97.8 492.2L97.5 491.9L97.1 491.4L96.8 491.1L96.4 490.7L96.0 490.4L95.5 490.0L95.2 489.7L94.8 489.4L94.3 488.9L94.0 488.7L93.5 488.2L93.2 487.9L93.0 487.4L92.7 486.9L92.6 486.2L92.7 485.4L92.9 484.9L93.1 484.4L93.4 483.9L93.8 483.5L94.0 483.2L94.5 482.7L94.8 482.4L95.2 482.0L95.6 481.7L96.0 481.4L96.5 481.0L96.9 480.7L97.3 480.4L97.8 480.1L98.2 479.8L98.7 479.4L99.1 479.2L99.5 478.9L100.0 478.5L100.4 478.2L100.8 477.9L101.2 477.4L101.5 477.0L101.8 476.5L102.0 475.9L102.1 475.4L102.2 474.7L102.3 474.2L102.5 473.7L102.8 473.1L103.0 472.7L103.4 472.2L103.8 471.9L104.2 471.5L104.6 471.2L105.1 470.9L105.5 470.7L106.1 470.4L106.8 470.2L107.2 470.0L107.8 469.9L108.5 469.7L109.0 469.6L109.8 469.5L110.2 469.4L111.0 469.3L111.5 469.2L112.2 469.1L113.0 469.1L113.8 469.0L114.5 469.0L115.0 468.9L115.8 468.9L116.5 468.9L117.0 469.0L117.8 469.0L118.5 469.1L119.0 469.2L119.8 469.4L120.2 469.6L120.8 469.7L121.3 469.9L121.8 470.2L122.2 470.5L122.8 470.8L123.2 471.1L123.6 471.4L124.0 471.8L124.4 472.2L124.8 472.5L125.1 472.9L125.5 473.4L125.8 473.9L126.0 474.3L126.2 474.7L126.5 475.2L126.8 475.7L127.0 476.4L127.2 476.9L127.4 477.4L127.5 478.0L127.7 478.7L127.8 479.3L127.8 479.9L127.9 480.7L127.9 481.4L127.9 482.2L127.8 482.9L127.8 483.7L127.7 484.2L127.6 484.9L127.6 485.7L127.5 486.4L127.5 486.9L127.5 487.7L127.5 488.2L127.6 488.9L127.7 489.7L127.8 490.2L127.9 490.9L128.0 491.7L128.0 492.2L128.1 492.9L128.2 493.7L128.2 494.4L128.2 495.2L128.1 495.9L128.1 496.7L128.0 497.2L127.8 497.9L127.7 498.4L127.5 499.2L127.3 499.7L127.1 500.2L126.9 500.7L126.6 501.2L126.2 501.7L126.0 502.0L125.6 502.4L125.2 502.7L124.8 503.1L124.2 503.3L123.8 503.5Z" fill="#000" fill-opacity="0" stroke="#111" stroke-width="0.6" stroke-linejoin="round"/>
<path d="M124.0 505.0L123.2 505.1L122.5 505.1L121.8 504.9L121.2 504.7L120.8 504.4L120.4 504.2L120.0 503.8L119.6 503.4L119.2 503.0L119.0 502.7L118.7 502.2L118.4 501.7L118.2 501.2L117.9 500.7L117.7 500.2L117.5 499.6L117.3 498.9L117.1 498.4L117.0 497.9L116.8 497.2L116.6 496.7L116.4 496.2L116.2 495.7L115.9 495.2L115.5 494.7L115.2 494.4L114.7 494.2L114.0 494.0L113.5 493.9L112.8 493.9L112.0 493.9L111.5 494.0L110.8 494.2L110.2 494.3L109.8 494.5L109.1 494.7L108.6 494.9L108.0 495.2L107.6 495.4L107.1 495.7L106.6 495.9L106.1 496.2L105.7 496.4L105.2 496.7L104.6 496.9L104.1 497.2L103.5 497.4L103.0 497.6L102.5 497.8L102.0 498.0L101.2 498.2L100.8 498.3L100.2 498.5L99.5 498.6L99.0 498.7L98.2 498.9L97.5 498.9L96.8 498.9L96.0 498.8L95.5 498.7L95.0 498.3L94.7 497.9L94.5 497.4L94.4 496.7L94.2 496.1L94.1 495.4L94.0 494.9L93.8 494.4L93.5 493.9L93.1 493.4L92.8 493.2L92.2 492.8L91.8 492.4L91.3 492.2L90.9 491.9L90.4 491.7L89.9 491.4L89.4 491.2L88.9 490.9L88.5 490.7L88.0 490.4L87.5 490.0L87.2 489.7L86.8 489.2L86.5 488.7L86.3 488.2L86.2 487.7L86.1 486.9L86.2 486.3L86.4 485.7L86.7 485.2L87.0 484.7L87.2 484.3L87.6 483.9L88.0 483.5L88.3 483.2L88.8 482.8L89.2 482.4L89.5 482.2L90.0 481.8L90.5 481.5L90.9 481.2L91.3 480.9L91.8 480.7L92.2 480.3L92.8 480.0L93.2 479.7L93.8 479.5L94.2 479.2L94.6 478.9L95.1 478.7L95.5 478.4L96.0 478.2L96.5 477.9L97.0 477.6L97.5 477.3L98.0 477.0L98.3 476.7L98.8 476.3L99.1 475.9L99.5 475.5L99.8 475.0L100.0 474.6L100.2 474.1L100.5 473.6L100.8 473.1L101.0 472.7L101.4 472.2L101.8 471.9L102.2 471.4L102.5 471.2L103.0 470.8L103.5 470.5L104.0 470.2L104.5 470.0L105.0 469.8L105.5 469.6L106.0 469.4L106.7 469.2L107.2 469.0L107.8 468.9L108.5 468.8L109.0 468.7L109.8 468.5L110.3 468.4L111.0 468.3L111.8 468.2L112.2 468.2L113.0 468.1L113.8 468.0L114.5 468.0L115.0 467.9L115.8 467.9L116.5 467.9L117.2 467.9L118.0 467.9L118.5 468.0L119.2 468.1L119.8 468.2L120.5 468.4L121.0 468.6L121.5 468.8L122.0 469.0L122.5 469.2L123.0 469.5L123.5 469.8L124.0 470.2L124.3 470.4L124.8 470.8L125.1 471.2L125.5 471.6L125.8 471.9L126.2 472.4L126.5 472.8L126.8 473.2L127.0 473.7L127.3 474.2L127.6 474.7L127.8 475.2L128.0 475.7L128.2 476.4L128.4 476.9L128.6 477.4L128.7 478.2L128.8 478.7L128.9 479.4L129.0 480.2L129.0 480.7L129.0 481.4L129.0 482.2L129.0 482.7L128.9 483.4L128.9 484.2L128.8 484.9L128.7 485.4L128.7 486.2L128.6 486.9L128.6 487.7L128.6 488.4L128.7 489.2L128.8 489.8L128.8 490.4L128.9 491.2L129.0 491.9L129.0 492.4L129.1 493.2L129.1 493.9L129.1 494.7L129.1 495.4L129.1 496.2L129.0 496.9L128.9 497.4L128.8 498.2L128.7 498.7L128.5 499.4L128.3 499.9L128.1 500.4L127.9 500.9L127.7 501.4L127.4 501.9L127.1 502.4L126.8 502.9L126.5 503.3L126.1 503.7L125.8 504.1L125.2 504.4L124.8 504.7L124.2 504.9Z" fill="#000" fill-opacity="0" stroke="#111" stroke-width="0.6" stroke-linejoin="round"/>
<path d="M123.5 506.7L122.8 506.7L122.2 506.7L121.5 506.5L121.0 506.3L120.5 506.0L120.1 505.7L119.8 505.4L119.3 504.9L119.0 504.7L118.6 504.2L118.3 503.7L118.0 503.3L117.8 502.8L117.5 502.4L117.2 501.8L117.0 501.2L116.8 500.7L116.6 500.2L116.4 499.7L116.2 499.1L116.0 498.4L115.8 497.9L115.6 497.4L115.4 496.9L115.0 496.4L114.8 496.1L114.2 495.8L113.8 495.6L113.0 495.6L112.2 495.6L111.8 495.7L111.0 495.9L110.5 496.1L110.0 496.3L109.5 496.5L109.0 496.7L108.5 497.0L108.0 497.3L107.5 497.5L107.0 497.8L106.5 498.1L106.0 498.3L105.5 498.6L105.0 498.8L104.5 499.0L104.0 499.3L103.5 499.5L103.0 499.7L102.4 499.9L101.8 500.2L101.2 500.4L100.8 500.6L100.2 500.8L99.8 501.0L99.2 501.2L98.7 501.4L98.1 501.7L97.5 501.9L97.0 502.1L96.5 502.3L96.0 502.5L95.4 502.7L94.8 502.9L94.2 503.1L93.8 503.2L93.0 503.4L92.5 503.5L91.8 503.6L91.0 503.5L90.5 503.4L89.9 503.2L89.5 502.9L89.2 502.4L89.0 501.9L88.8 501.2L88.9 500.4L89.0 499.7L89.1 499.2L89.2 498.5L89.3 497.9L89.4 497.2L89.3 496.4L89.0 495.9L88.8 495.6L88.4 495.2L88.0 494.9L87.5 494.6L87.0 494.4L86.5 494.1L86.0 493.8L85.5 493.5L85.0 493.2L84.6 492.9L84.2 492.6L83.8 492.2L83.5 491.8L83.2 491.4L82.9 490.9L82.7 490.4L82.5 489.9L82.3 489.2L82.2 488.7L82.1 487.9L82.1 487.2L82.2 486.4L82.3 485.9L82.5 485.3L82.7 484.7L82.9 484.2L83.2 483.7L83.5 483.2L83.8 482.9L84.1 482.4L84.5 482.0L84.9 481.7L85.2 481.4L85.8 481.0L86.1 480.7L86.5 480.4L87.0 480.1L87.5 479.8L88.0 479.6L88.5 479.3L89.0 479.0L89.5 478.8L90.0 478.5L90.5 478.3L91.0 478.0L91.5 477.8L92.0 477.5L92.5 477.3L93.0 477.1L93.5 476.8L94.0 476.6L94.5 476.3L95.0 476.1L95.5 475.8L96.0 475.5L96.4 475.2L96.8 474.9L97.2 474.5L97.6 474.2L98.0 473.7L98.2 473.4L98.7 472.9L99.0 472.5L99.3 472.2L99.8 471.7L100.0 471.4L100.5 471.1L101.0 470.7L101.3 470.4L101.8 470.2L102.2 469.9L102.8 469.6L103.2 469.4L103.8 469.1L104.3 468.9L105.0 468.7L105.5 468.5L106.0 468.4L106.7 468.2L107.2 468.1L107.8 467.9L108.5 467.8L109.0 467.7L109.8 467.6L110.5 467.5L111.0 467.4L111.8 467.3L112.2 467.2L113.0 467.1L113.8 467.0L114.2 466.9L115.0 466.8L115.8 466.7L116.5 466.7L117.0 466.7L117.7 466.7L118.2 466.7L119.0 466.8L119.8 466.9L120.2 467.0L120.9 467.2L121.5 467.4L122.0 467.6L122.5 467.8L123.0 468.0L123.5 468.3L124.0 468.6L124.5 468.9L124.8 469.2L125.2 469.6L125.7 469.9L126.0 470.2L126.4 470.7L126.8 471.1L127.1 471.4L127.4 471.9L127.8 472.4L128.0 472.8L128.2 473.3L128.5 473.8L128.8 474.3L129.0 474.9L129.2 475.4L129.4 475.9L129.6 476.4L129.7 477.2L129.9 477.7L130.0 478.4L130.1 478.9L130.2 479.7L130.2 480.4L130.2 481.2L130.2 481.9L130.2 482.7L130.1 483.4L130.0 484.2L130.0 484.7L129.9 485.4L129.8 486.2L129.8 486.9L129.8 487.5L129.7 488.2L129.8 488.8L129.8 489.4L129.8 490.2L129.9 490.9L130.0 491.7L130.0 492.3L130.0 492.9L130.1 493.7L130.1 494.4L130.1 495.2L130.0 495.9L130.0 496.5L129.9 497.2L129.8 497.9L129.7 498.4L129.6 499.2L129.5 499.7L129.2 500.4L129.1 500.9L128.9 501.4L128.7 501.9L128.4 502.4L128.2 502.9L127.9 503.4L127.6 503.9L127.2 504.4L127.0 504.7L126.5 505.2L126.2 505.4L125.8 505.8L125.2 506.1L124.8 506.4L124.2 506.6L123.5 506.7Z" fill="#000" fill-opacity="0" stroke="#111" stroke-width="0.6" stroke-linejoin="round"/>
<path d="M123.0 508.2L122.5 508.2L121.8 508.0L121.2 507.9L120.8 507.7L120.2 507.4L119.8 507.0L119.3 506.7L119.0 506.4L118.6 505.9L118.2 505.6L118.0 505.2L117.6 504.7L117.3 504.2L117.0 503.7L116.8 503.2L116.5 502.7L116.3 502.2L116.1 501.7L115.9 501.2L115.7 500.7L115.5 500.0L115.3 499.4L115.1 498.9L114.8 498.4L114.5 498.0L114.2 497.7L113.8 497.4L113.0 497.2L112.2 497.3L111.5 497.4L111.0 497.6L110.5 497.8L110.0 498.0L109.5 498.2L109.0 498.5L108.5 498.7L108.0 499.0L107.5 499.2L107.0 499.5L106.5 499.7L106.0 500.0L105.5 500.2L105.0 500.5L104.5 500.7L104.0 500.9L103.4 501.2L102.9 501.4L102.4 501.7L101.8 501.9L101.3 502.2L100.8 502.4L100.2 502.7L99.8 502.9L99.2 503.1L98.8 503.4L98.2 503.6L97.8 503.8L97.2 504.1L96.8 504.3L96.2 504.5L95.8 504.8L95.2 505.0L94.7 505.2L94.1 505.4L93.5 505.7L93.0 505.9L92.5 506.0L91.8 506.2L91.2 506.3L90.5 506.3L89.8 506.3L89.0 506.2L88.5 506.1L88.0 505.8L87.5 505.5L87.1 505.2L86.8 504.8L86.5 504.4L86.2 503.9L86.0 503.4L85.8 502.7L85.7 502.2L85.7 501.4L85.7 500.7L85.7 499.9L85.7 499.2L85.7 498.4L85.5 497.9L85.2 497.4L84.9 496.9L84.5 496.5L84.1 496.2L83.8 495.9L83.2 495.5L82.9 495.2L82.5 494.8L82.2 494.4L81.8 493.9L81.5 493.6L81.2 493.2L81.0 492.7L80.7 492.2L80.5 491.7L80.2 491.0L80.1 490.4L80.0 489.9L79.9 489.2L79.8 488.4L79.8 487.7L79.8 486.9L79.9 486.2L80.0 485.5L80.1 484.9L80.3 484.4L80.5 483.8L80.7 483.2L81.0 482.7L81.2 482.2L81.5 481.8L81.8 481.4L82.1 480.9L82.5 480.5L82.8 480.2L83.2 479.8L83.7 479.4L84.0 479.2L84.5 478.8L85.0 478.5L85.5 478.2L86.0 477.9L86.5 477.7L87.0 477.4L87.5 477.2L88.0 477.0L88.5 476.7L89.0 476.5L89.5 476.3L90.0 476.1L90.5 475.9L91.0 475.7L91.5 475.4L92.1 475.2L92.6 474.9L93.2 474.7L93.7 474.4L94.2 474.2L94.6 473.9L95.0 473.7L95.5 473.4L96.0 473.0L96.4 472.7L96.8 472.4L97.2 472.0L97.6 471.7L98.0 471.3L98.5 470.9L98.8 470.7L99.2 470.4L99.8 470.0L100.2 469.7L100.7 469.4L101.2 469.2L101.7 468.9L102.2 468.7L102.8 468.5L103.2 468.3L103.8 468.1L104.2 467.9L105.0 467.7L105.5 467.6L106.0 467.4L106.8 467.3L107.2 467.1L108.0 467.0L108.5 466.9L109.2 466.7L109.8 466.6L110.5 466.5L111.0 466.4L111.8 466.2L112.2 466.2L113.0 466.0L113.5 465.9L114.2 465.8L114.8 465.7L115.5 465.6L116.2 465.5L117.0 465.5L117.8 465.5L118.5 465.5L119.2 465.6L120.0 465.7L120.5 465.8L121.1 465.9L121.8 466.1L122.2 466.3L122.8 466.5L123.2 466.8L123.8 467.0L124.2 467.3L124.8 467.6L125.2 467.9L125.5 468.2L126.0 468.6L126.4 468.9L126.8 469.3L127.2 469.7L127.5 470.1L127.8 470.4L128.2 470.9L128.5 471.4L128.8 471.8L129.0 472.2L129.3 472.7L129.6 473.2L129.8 473.7L130.0 474.2L130.2 474.8L130.5 475.4L130.6 475.9L130.8 476.4L131.0 477.2L131.1 477.7L131.2 478.4L131.2 479.0L131.3 479.7L131.4 480.4L131.4 481.2L131.4 481.9L131.3 482.7L131.3 483.4L131.2 483.9L131.1 484.7L131.0 485.4L131.0 485.9L130.9 486.7L130.8 487.4L130.8 488.2L130.8 488.9L130.8 489.7L130.8 490.4L130.9 491.2L130.9 491.9L130.9 492.7L131.0 493.4L131.0 494.2L131.0 494.9L130.9 495.7L130.9 496.4L130.8 497.2L130.8 497.8L130.7 498.4L130.5 499.2L130.4 499.7L130.2 500.3L130.1 500.9L129.9 501.4L129.7 501.9L129.5 502.6L129.2 503.1L129.0 503.6L128.8 504.1L128.5 504.5L128.2 504.9L127.8 505.4L127.5 505.9L127.2 506.2L126.8 506.6L126.4 506.9L126.0 507.2L125.5 507.5L125.0 507.8L124.5 508.0L123.8 508.1L123.2 508.2Z" fill="#000" fill-opacity="0" stroke="#111" stroke-width="0.6" stroke-linejoin="round"/>
</g>
<g clip-path="url(#p32)">
<path d="M198.6 489.2L198.1 489.0L197.8 488.7L197.6 488.1L197.4 487.4L197.3 486.8L197.3 486.2L197.3 485.4L197.3 484.9L197.5 484.2L197.6 483.7L197.9 483.2L198.3 482.8L198.9 482.9L199.2 483.4L199.4 483.9L199.6 484.4L199.7 485.2L199.7 485.9L199.7 486.7L199.6 487.4L199.5 487.9L199.3 488.5L199.0 488.9L198.6 489.2Z" fill="#000" fill-opacity="0.14" stroke="#111" stroke-width="0.6" stroke-linejoin="round"/>
<path d="M198.6 490.7L198.1 490.6L197.7 490.2L197.4 489.7L197.2 489.2L197.0 488.7L196.9 487.9L196.8 487.4L196.7 486.7L196.7 485.9L196.7 485.2L196.8 484.4L196.9 483.9L197.1 483.2L197.2 482.7L197.5 482.2L197.8 481.7L198.1 481.4L198.8 481.4L199.2 481.7L199.6 482.2L199.8 482.7L199.9 483.2L200.1 483.7L200.2 484.4L200.3 485.2L200.3 485.7L200.3 486.3L200.3 486.9L200.2 487.7L200.1 488.4L199.9 488.9L199.7 489.4L199.5 489.9L199.1 490.4L198.7 490.7Z" fill="#000" fill-opacity="0.14" stroke="#111" stroke-width="0.6" stroke-linejoin="round"/>
<path d="M198.8 492.0L198.1 492.0L197.7 491.7L197.4 491.2L197.1 490.7L196.9 490.2L196.7 489.7L196.6 489.1L196.4 488.4L196.3 487.7L196.3 487.2L196.2 486.4L196.2 485.7L196.3 484.9L196.3 484.4L196.4 483.7L196.5 482.9L196.7 482.4L196.8 481.9L197.1 481.4L197.3 480.9L197.7 480.4L198.1 480.2L198.8 480.1L199.3 480.4L199.6 480.8L199.8 481.2L200.1 481.7L200.3 482.4L200.5 482.9L200.6 483.4L200.7 484.2L200.7 484.9L200.8 485.7L200.8 486.4L200.7 487.2L200.7 487.9L200.6 488.6L200.4 489.2L200.3 489.7L200.1 490.4L199.8 490.9L199.6 491.3L199.2 491.7L198.8 492.0Z" fill="#000" fill-opacity="0.14" stroke="#111" stroke-width="0.6" stroke-linejoin="round"/>
<path d="M198.8 493.6L198.1 493.5L197.7 493.2L197.3 492.7L197.1 492.2L196.8 491.7L196.6 491.2L196.4 490.7L196.3 490.2L196.1 489.4L196.0 488.9L195.9 488.2L195.8 487.4L195.8 486.9L195.8 486.2L195.8 485.4L195.8 484.9L195.9 484.2L196.0 483.4L196.1 482.9L196.2 482.2L196.3 481.7L196.6 481.0L196.8 480.5L197.1 480.0L197.3 479.6L197.8 479.2L198.3 478.9L198.7 478.9L199.2 479.2L199.6 479.5L199.9 479.9L200.2 480.4L200.4 480.9L200.6 481.4L200.8 482.2L200.9 482.7L201.0 483.4L201.1 483.9L201.2 484.7L201.2 485.4L201.2 486.2L201.2 486.9L201.1 487.7L201.1 488.4L201.0 488.9L200.8 489.7L200.7 490.2L200.6 490.7L200.3 491.4L200.1 491.9L199.8 492.4L199.6 492.8L199.2 493.2L198.8 493.6Z" fill="#000" fill-opacity="0.14" stroke="#111" stroke-width="0.6" stroke-linejoin="round"/>
<path d="M197.6 500.5L197.1 500.4L196.6 500.0L196.3 499.4L196.5 498.7L196.8 498.3L197.1 497.9L197.6 497.7L198.3 497.7L198.6 497.9L198.8 498.5L198.9 499.2L198.7 499.7L198.3 500.2L197.8 500.4Z" fill="#000" fill-opacity="0.14" stroke="#111" stroke-width="0.6" stroke-linejoin="round"/>
<path d="M198.6 501.5L197.8 501.7L197.1 501.7L196.3 501.5L195.8 501.2L195.5 500.9L195.2 500.4L195.0 499.9L195.0 499.2L195.2 498.7L195.4 498.2L195.7 497.7L196.1 497.2L196.3 496.9L196.6 496.4L196.8 495.9L197.0 495.2L197.0 494.4L196.8 493.8L196.6 493.2L196.5 492.7L196.3 492.2L196.1 491.4L195.9 490.9L195.8 490.4L195.7 489.7L195.6 489.1L195.5 488.4L195.4 487.7L195.3 486.9L195.3 486.2L195.3 485.4L195.4 484.7L195.4 483.9L195.5 483.2L195.6 482.7L195.7 481.9L195.8 481.4L196.1 480.7L196.2 480.2L196.5 479.7L196.7 479.2L197.0 478.7L197.3 478.4L197.8 478.0L198.3 477.8L199.1 477.9L199.5 478.2L199.8 478.5L200.1 478.9L200.4 479.4L200.7 479.9L200.9 480.4L201.1 481.1L201.2 481.7L201.3 482.2L201.5 482.9L201.6 483.7L201.6 484.2L201.7 484.9L201.7 485.7L201.7 486.4L201.6 487.2L201.6 487.9L201.5 488.4L201.4 489.2L201.3 489.9L201.2 490.4L201.1 491.0L200.8 491.7L200.7 492.2L200.5 492.7L200.3 493.2L200.1 493.8L199.8 494.4L199.7 494.9L199.6 495.7L199.6 496.4L199.8 497.2L199.9 497.7L200.1 498.3L200.1 498.9L200.1 499.5L199.8 500.2L199.6 500.7L199.3 501.0L198.8 501.3Z" fill="#000" fill-opacity="0.14" stroke="#111" stroke-width="0.6" stroke-linejoin="round"/>
<path d="M198.3 502.5L197.6 502.6L196.8 502.5L196.3 502.4L195.6 502.2L195.2 501.9L194.8 501.7L194.4 501.2L194.1 500.7L193.9 500.2L193.9 499.4L194.1 498.8L194.3 498.2L194.6 497.8L194.8 497.4L195.1 496.9L195.4 496.4L195.7 495.9L195.8 495.4L196.0 494.7L196.0 493.9L195.8 493.2L195.7 492.7L195.6 491.9L195.5 491.4L195.3 490.7L195.2 490.2L195.1 489.4L195.0 488.9L194.9 488.2L194.9 487.4L194.9 486.7L194.8 485.9L194.9 485.2L194.9 484.4L195.0 483.7L195.0 482.9L195.1 482.4L195.2 481.7L195.3 481.2L195.5 480.4L195.7 479.9L195.9 479.4L196.1 478.9L196.3 478.4L196.6 477.9L196.9 477.4L197.3 477.0L197.8 476.7L198.3 476.5L199.1 476.6L199.6 476.9L199.9 477.2L200.3 477.7L200.6 478.2L200.8 478.6L201.0 479.2L201.2 479.7L201.4 480.2L201.6 480.8L201.7 481.4L201.8 481.9L201.9 482.7L202.0 483.4L202.1 483.9L202.1 484.7L202.2 485.4L202.2 486.2L202.1 486.9L202.1 487.7L202.1 488.3L202.0 488.9L201.9 489.7L201.8 490.2L201.6 490.9L201.5 491.4L201.3 492.2L201.2 492.7L201.1 493.2L200.9 493.9L200.7 494.4L200.6 495.2L200.6 495.9L200.7 496.7L200.8 497.2L200.9 497.9L201.0 498.7L201.0 499.4L200.9 500.2L200.7 500.7L200.3 501.2L200.1 501.5L199.6 501.9L199.1 502.2L198.6 502.4Z" fill="#000" fill-opacity="0.14" stroke="#111" stroke-width="0.6" stroke-linejoin="round"/>
<path d="M198.8 503.2L198.1 503.4L197.3 503.4L196.6 503.4L195.8 503.2L195.3 503.0L194.8 502.8L194.3 502.5L193.9 502.2L193.6 501.8L193.3 501.4L193.0 500.9L192.8 500.3L192.8 499.7L192.8 499.2L193.1 498.6L193.3 498.1L193.6 497.6L193.8 497.2L194.2 496.7L194.5 496.2L194.8 495.7L195.0 495.2L195.1 494.7L195.1 493.9L195.1 493.2L195.0 492.7L194.9 491.9L194.8 491.3L194.7 490.7L194.6 489.9L194.5 489.4L194.4 488.7L194.4 487.9L194.3 487.2L194.3 486.4L194.3 485.7L194.3 484.9L194.4 484.2L194.4 483.4L194.5 482.7L194.6 482.2L194.7 481.4L194.8 480.9L195.0 480.2L195.1 479.7L195.3 479.0L195.5 478.4L195.7 477.9L195.9 477.4L196.2 476.9L196.5 476.4L196.8 476.1L197.2 475.7L197.6 475.4L198.1 475.2L198.8 475.2L199.3 475.3L199.8 475.7L200.1 475.9L200.5 476.4L200.8 476.9L201.1 477.4L201.3 477.9L201.5 478.4L201.7 478.9L201.8 479.4L202.0 480.2L202.2 480.7L202.3 481.4L202.4 481.9L202.5 482.7L202.6 483.2L202.6 483.9L202.7 484.7L202.7 485.4L202.7 486.2L202.7 486.9L202.6 487.7L202.6 488.4L202.5 488.9L202.4 489.7L202.3 490.4L202.2 490.9L202.1 491.7L202.0 492.2L201.8 492.9L201.7 493.4L201.6 494.2L201.5 494.7L201.5 495.4L201.6 496.2L201.6 496.7L201.7 497.4L201.8 497.9L201.9 498.7L201.9 499.4L201.8 500.2L201.7 500.7L201.5 501.2L201.1 501.7L200.8 502.1L200.4 502.4L200.0 502.7L199.6 503.0L198.9 503.2Z" fill="#000" fill-opacity="0.14" stroke="#111" stroke-width="0.6" stroke-linejoin="round"/>
<path d="M199.1 504.0L198.3 504.1L197.6 504.2L196.8 504.2L196.1 504.0L195.6 503.9L194.9 503.7L194.3 503.4L193.9 503.2L193.5 502.9L193.1 502.6L192.7 502.2L192.3 501.7L192.1 501.2L191.9 500.7L191.8 500.2L191.8 499.6L191.9 498.9L192.1 498.4L192.4 497.9L192.7 497.4L193.0 496.9L193.3 496.6L193.6 496.2L193.9 495.7L194.1 495.2L194.3 494.6L194.4 493.9L194.4 493.2L194.4 492.4L194.3 491.9L194.2 491.2L194.1 490.4L194.0 489.9L194.0 489.2L193.9 488.4L193.8 487.7L193.8 486.9L193.8 486.2L193.8 485.4L193.8 484.7L193.9 483.9L193.9 483.2L194.0 482.4L194.1 481.9L194.2 481.2L194.3 480.5L194.4 479.9L194.6 479.4L194.7 478.7L194.9 478.2L195.1 477.7L195.3 477.1L195.6 476.5L195.8 476.0L196.1 475.6L196.3 475.2L196.7 474.7L197.1 474.4L197.6 474.1L198.1 473.9L198.8 473.8L199.3 474.0L199.8 474.3L200.3 474.7L200.6 475.0L200.8 475.4L201.2 475.9L201.4 476.4L201.6 476.9L201.8 477.4L202.1 478.0L202.3 478.7L202.4 479.2L202.6 479.8L202.7 480.4L202.8 481.1L202.9 481.7L203.0 482.4L203.1 483.0L203.1 483.7L203.2 484.4L203.2 485.2L203.2 485.9L203.2 486.7L203.2 487.4L203.1 488.2L203.1 488.9L203.0 489.4L202.9 490.2L202.8 490.9L202.7 491.4L202.6 492.2L202.5 492.7L202.4 493.4L202.3 494.1L202.3 494.7L202.3 495.4L202.3 496.1L202.4 496.7L202.5 497.4L202.6 497.9L202.7 498.7L202.8 499.4L202.7 500.2L202.6 500.8L202.3 501.4L202.1 501.8L201.8 502.2L201.3 502.7L201.0 502.9L200.6 503.3L200.1 503.6L199.6 503.8L199.1 504.0Z" fill="#000" fill-opacity="0.14" stroke="#111" stroke-width="0.6" stroke-linejoin="round"/>
<path d="M197.8 505.0L197.1 505.0L196.6 504.9L195.8 504.8L195.3 504.7L194.6 504.4L194.1 504.2L193.6 504.0L193.1 503.7L192.7 503.4L192.3 503.1L191.9 502.7L191.6 502.3L191.3 501.9L191.1 501.4L190.8 500.7L190.8 500.2L190.8 499.4L190.9 498.9L191.1 498.4L191.3 497.9L191.6 497.4L191.9 496.9L192.3 496.5L192.6 496.2L192.9 495.7L193.2 495.2L193.4 494.7L193.6 494.2L193.7 493.4L193.7 492.7L193.7 491.9L193.6 491.2L193.5 490.7L193.5 489.9L193.4 489.2L193.3 488.4L193.3 487.9L193.3 487.2L193.2 486.4L193.2 485.7L193.3 484.9L193.3 484.2L193.3 483.7L193.4 482.9L193.4 482.2L193.5 481.4L193.6 480.9L193.7 480.2L193.8 479.7L194.0 478.9L194.1 478.4L194.3 477.8L194.5 477.2L194.7 476.7L194.8 476.2L195.1 475.7L195.3 475.2L195.6 474.7L195.9 474.2L196.2 473.7L196.6 473.3L197.0 472.9L197.3 472.7L197.9 472.4L198.6 472.4L199.1 472.4L199.7 472.7L200.1 473.0L200.6 473.4L200.8 473.7L201.1 474.2L201.4 474.7L201.7 475.2L201.9 475.7L202.2 476.2L202.3 476.7L202.6 477.3L202.7 477.9L202.9 478.4L203.1 479.2L203.2 479.7L203.3 480.4L203.4 480.9L203.5 481.7L203.6 482.2L203.6 482.9L203.7 483.7L203.7 484.4L203.8 485.2L203.8 485.9L203.8 486.7L203.7 487.4L203.7 488.2L203.6 488.9L203.6 489.7L203.5 490.2L203.4 490.9L203.3 491.7L203.2 492.2L203.1 492.9L203.1 493.7L203.0 494.2L203.0 494.9L203.0 495.7L203.1 496.2L203.3 496.9L203.4 497.4L203.5 498.2L203.6 498.7L203.6 499.4L203.6 500.2L203.5 500.7L203.3 501.3L203.1 501.9L202.8 502.3L202.5 502.7L202.1 503.2L201.7 503.4L201.3 503.8L200.8 504.1L200.3 504.4L199.8 504.6L199.3 504.7L198.6 504.9L197.9 504.9Z" fill="#000" fill-opacity="0" stroke="#111" stroke-width="0.6" stroke-linejoin="round"/>
<path d="M199.1 505.7L198.3 505.8L197.6 505.9L196.8 505.8L196.1 505.7L195.6 505.7L194.8 505.5L194.3 505.3L193.8 505.1L193.3 504.9L192.8 504.6L192.3 504.4L191.8 504.0L191.4 503.7L191.1 503.3L190.7 502.9L190.3 502.4L190.1 502.0L189.8 501.4L189.7 500.9L189.6 500.2L189.6 499.4L189.8 498.7L190.0 498.2L190.2 497.7L190.5 497.2L190.8 496.8L191.1 496.4L191.5 495.9L191.8 495.6L192.1 495.2L192.4 494.7L192.6 494.2L192.8 493.6L192.9 492.9L192.9 492.2L192.9 491.4L192.8 490.7L192.8 490.2L192.7 489.4L192.7 488.7L192.6 487.9L192.6 487.2L192.6 486.4L192.6 485.7L192.6 484.9L192.6 484.2L192.7 483.4L192.7 482.7L192.8 481.9L192.8 481.4L192.9 480.7L193.1 480.0L193.1 479.4L193.3 478.7L193.4 478.2L193.6 477.6L193.7 476.9L193.9 476.4L194.1 475.9L194.3 475.2L194.5 474.7L194.7 474.2L194.9 473.7L195.2 473.2L195.5 472.7L195.8 472.3L196.1 471.9L196.6 471.5L196.9 471.2L197.3 470.9L198.0 470.7L198.6 470.6L199.1 470.7L199.7 470.9L200.1 471.2L200.6 471.6L200.9 471.9L201.3 472.4L201.6 472.8L201.8 473.2L202.1 473.7L202.3 474.2L202.6 474.8L202.8 475.4L203.0 475.9L203.1 476.4L203.3 477.0L203.5 477.7L203.6 478.2L203.8 478.9L203.9 479.4L204.0 480.2L204.1 480.7L204.2 481.4L204.2 482.2L204.3 482.9L204.3 483.4L204.4 484.2L204.4 484.9L204.4 485.7L204.4 486.4L204.4 487.2L204.4 487.9L204.3 488.7L204.3 489.2L204.2 489.9L204.2 490.7L204.1 491.4L204.0 491.9L203.9 492.7L203.9 493.4L203.8 494.2L203.9 494.9L203.9 495.7L204.1 496.3L204.2 496.9L204.3 497.4L204.5 498.2L204.6 498.7L204.7 499.4L204.6 500.2L204.6 500.8L204.4 501.4L204.2 501.9L203.9 502.4L203.6 502.9L203.3 503.3L202.9 503.7L202.6 504.0L202.1 504.4L201.6 504.7L201.2 504.9L200.7 505.2L200.1 505.4L199.6 505.6L199.1 505.7Z" fill="#000" fill-opacity="0" stroke="#111" stroke-width="0.6" stroke-linejoin="round"/>
<path d="M198.6 506.7L197.8 506.8L197.1 506.8L196.4 506.7L195.8 506.6L195.1 506.5L194.6 506.3L194.1 506.2L193.4 505.9L192.8 505.7L192.3 505.4L191.9 505.2L191.5 504.9L191.1 504.7L190.6 504.3L190.2 503.9L189.8 503.5L189.5 503.2L189.2 502.7L188.9 502.2L188.7 501.7L188.6 501.1L188.4 500.4L188.4 499.7L188.5 498.9L188.7 498.4L188.8 497.9L189.1 497.4L189.4 496.9L189.8 496.4L190.1 496.1L190.4 495.7L190.8 495.2L191.1 494.9L191.4 494.4L191.7 493.9L191.9 493.4L192.1 492.9L192.1 492.2L192.1 491.4L192.1 490.7L192.1 490.0L192.0 489.4L192.0 488.7L191.9 487.9L191.9 487.2L191.9 486.4L191.9 485.7L191.9 484.9L191.9 484.2L192.0 483.4L192.0 482.7L192.1 482.2L192.1 481.4L192.2 480.7L192.3 480.1L192.4 479.4L192.5 478.7L192.6 478.2L192.8 477.4L192.9 476.9L193.1 476.3L193.2 475.7L193.4 475.2L193.6 474.6L193.8 474.0L194.0 473.4L194.2 472.9L194.5 472.4L194.7 471.9L195.0 471.4L195.3 471.0L195.6 470.7L195.9 470.2L196.3 469.8L196.8 469.4L197.2 469.2L197.8 469.0L198.3 468.9L199.1 468.9L199.6 469.1L200.1 469.3L200.5 469.7L200.8 469.9L201.3 470.4L201.6 470.8L201.8 471.2L202.1 471.7L202.4 472.2L202.7 472.7L202.9 473.2L203.1 473.7L203.3 474.2L203.6 474.9L203.7 475.4L203.9 475.9L204.1 476.7L204.2 477.2L204.3 477.8L204.4 478.4L204.6 479.1L204.7 479.7L204.8 480.4L204.8 480.9L204.9 481.7L205.0 482.4L205.0 483.2L205.1 483.7L205.1 484.4L205.1 485.2L205.1 485.9L205.1 486.7L205.1 487.4L205.1 488.2L205.0 488.7L205.0 489.4L204.9 490.2L204.8 490.9L204.8 491.4L204.7 492.2L204.7 492.9L204.6 493.7L204.7 494.4L204.8 495.2L204.9 495.7L205.1 496.4L205.2 496.9L205.4 497.4L205.5 498.2L205.6 498.7L205.7 499.4L205.7 500.2L205.6 500.9L205.5 501.4L205.3 502.0L205.1 502.5L204.8 502.9L204.4 503.4L204.1 503.9L203.8 504.2L203.3 504.6L202.9 504.9L202.6 505.2L202.1 505.5L201.6 505.8L201.1 506.0L200.6 506.3L199.9 506.4L199.3 506.6L198.8 506.7Z" fill="#000" fill-opacity="0" stroke="#111" stroke-width="0.6" stroke-linejoin="round"/>
<path d="M198.6 507.7L197.8 507.8L197.1 507.7L196.6 507.7L195.8 507.6L195.2 507.4L194.6 507.3L194.1 507.1L193.4 506.9L192.8 506.7L192.3 506.5L191.8 506.3L191.3 506.0L190.8 505.7L190.4 505.4L190.1 505.2L189.6 504.8L189.2 504.4L188.8 504.0L188.5 503.7L188.2 503.2L187.9 502.7L187.7 502.2L187.5 501.7L187.3 501.0L187.2 500.4L187.2 499.7L187.3 499.0L187.4 498.4L187.6 497.9L187.8 497.4L188.1 496.9L188.4 496.4L188.8 495.9L189.1 495.6L189.5 495.2L189.8 494.8L190.2 494.4L190.6 494.0L190.8 493.6L191.1 493.1L191.2 492.4L191.3 491.9L191.3 491.2L191.3 490.4L191.3 489.9L191.3 489.2L191.2 488.4L191.2 487.7L191.2 486.9L191.2 486.2L191.2 485.4L191.2 484.7L191.2 483.9L191.2 483.2L191.3 482.4L191.3 481.9L191.4 481.2L191.5 480.4L191.6 479.9L191.6 479.2L191.8 478.4L191.9 477.9L192.0 477.2L192.1 476.7L192.3 475.9L192.4 475.4L192.6 474.9L192.7 474.2L192.9 473.7L193.1 473.2L193.3 472.6L193.6 472.0L193.8 471.4L194.0 470.9L194.3 470.4L194.6 470.0L194.8 469.6L195.1 469.2L195.5 468.7L195.8 468.3L196.2 467.9L196.6 467.7L197.1 467.4L197.6 467.1L198.3 467.0L199.1 467.0L199.6 467.2L200.1 467.4L200.6 467.7L201.1 468.2L201.3 468.4L201.7 468.9L202.1 469.4L202.3 469.7L202.6 470.2L202.9 470.7L203.1 471.2L203.3 471.7L203.6 472.2L203.8 472.9L204.0 473.4L204.2 473.9L204.3 474.4L204.5 475.2L204.7 475.7L204.8 476.3L205.0 476.9L205.1 477.4L205.2 478.2L205.3 478.9L205.4 479.4L205.5 480.2L205.6 480.8L205.6 481.4L205.7 482.2L205.7 482.9L205.8 483.7L205.8 484.2L205.8 484.9L205.8 485.7L205.8 486.4L205.8 487.2L205.8 487.8L205.8 488.4L205.7 489.2L205.7 489.9L205.6 490.7L205.6 491.4L205.5 491.9L205.5 492.7L205.5 493.4L205.5 494.2L205.6 494.7L205.8 495.4L205.9 495.9L206.1 496.4L206.3 497.0L206.5 497.7L206.7 498.2L206.8 498.9L206.9 499.4L206.9 500.2L206.8 500.8L206.7 501.4L206.5 501.9L206.3 502.4L206.0 502.9L205.7 503.4L205.4 503.9L205.1 504.3L204.7 504.7L204.3 505.1L203.9 505.4L203.5 505.7L203.1 506.0L202.6 506.4L202.1 506.6L201.6 506.9L201.1 507.1L200.6 507.3L200.0 507.4L199.3 507.6L198.8 507.7Z" fill="#000" fill-opacity="0" stroke="#111" stroke-width="0.6" stroke-linejoin="round"/>
<path d="M198.6 508.7L197.8 508.7L197.1 508.7L196.6 508.6L195.8 508.5L195.3 508.4L194.6 508.2L194.1 508.1L193.6 507.9L192.9 507.7L192.3 507.5L191.8 507.3L191.3 507.0L190.8 506.8L190.3 506.5L189.8 506.2L189.5 505.9L189.1 505.6L188.6 505.2L188.3 504.9L187.8 504.4L187.6 504.1L187.2 503.7L186.9 503.2L186.7 502.7L186.5 502.2L186.3 501.7L186.1 500.9L186.1 500.2L186.1 499.4L186.2 498.7L186.3 498.2L186.6 497.6L186.8 497.1L187.1 496.6L187.3 496.2L187.7 495.7L188.1 495.3L188.3 494.9L188.8 494.5L189.1 494.2L189.6 493.7L189.8 493.4L190.1 492.9L190.3 492.4L190.5 491.7L190.6 491.2L190.6 490.4L190.6 489.7L190.5 489.2L190.5 488.4L190.5 487.7L190.5 486.9L190.5 486.2L190.5 485.4L190.5 484.7L190.5 483.9L190.5 483.2L190.6 482.7L190.6 481.9L190.7 481.2L190.8 480.4L190.8 479.9L190.9 479.2L191.0 478.4L191.1 477.9L191.2 477.2L191.3 476.7L191.5 475.9L191.6 475.4L191.8 474.7L191.9 474.2L192.1 473.6L192.2 472.9L192.4 472.4L192.6 471.9L192.8 471.3L193.1 470.7L193.3 470.2L193.5 469.7L193.8 469.2L194.0 468.7L194.3 468.3L194.6 467.9L194.9 467.4L195.3 466.9L195.6 466.6L196.0 466.2L196.3 465.9L196.8 465.7L197.3 465.4L198.1 465.2L198.6 465.2L199.1 465.2L199.8 465.4L200.3 465.7L200.7 465.9L201.1 466.3L201.5 466.7L201.8 467.0L202.1 467.4L202.5 467.9L202.8 468.4L203.1 468.8L203.3 469.3L203.6 469.8L203.8 470.4L204.0 470.9L204.2 471.4L204.4 471.9L204.6 472.4L204.8 473.1L205.0 473.7L205.1 474.2L205.3 474.9L205.4 475.4L205.6 476.0L205.7 476.7L205.8 477.3L205.9 477.9L206.0 478.7L206.1 479.2L206.2 479.9L206.3 480.7L206.3 481.2L206.4 481.9L206.4 482.7L206.5 483.4L206.5 484.2L206.5 484.9L206.5 485.7L206.5 486.4L206.5 487.2L206.5 487.9L206.5 488.7L206.4 489.4L206.4 490.2L206.3 490.9L206.3 491.4L206.3 492.2L206.3 492.9L206.3 493.6L206.4 494.2L206.6 494.9L206.7 495.4L206.9 495.9L207.1 496.4L207.3 496.9L207.6 497.6L207.7 498.2L207.9 498.7L207.9 499.4L208.0 500.2L207.9 500.9L207.8 501.4L207.6 502.2L207.4 502.7L207.1 503.2L206.8 503.7L206.6 504.1L206.3 504.4L205.8 504.9L205.6 505.2L205.1 505.7L204.7 505.9L204.3 506.3L203.8 506.7L203.3 506.9L202.9 507.2L202.5 507.4L202.0 507.7L201.5 507.9L200.8 508.2L200.3 508.4L199.8 508.5L199.1 508.7L198.6 508.7Z" fill="#000" fill-opacity="0" stroke="#111" stroke-width="0.6" stroke-linejoin="round"/>
</g>
<path d="M192.5 505.3H205" fill="none" stroke="#000" stroke-width="1.8"/>
<ellipse cx="200.2" cy="481.5" rx="2.2" ry="7.5" fill="none" stroke="#2424c8" stroke-width="1.4"/>
<g clip-path="url(#p33)">
<path d="M353.6 486.9L352.8 487.0L352.1 487.0L351.6 486.9L351.0 486.6L350.6 486.3L350.3 485.9L350.3 485.2L350.5 484.6L350.8 484.3L351.2 483.9L351.6 483.6L352.1 483.3L352.6 483.1L353.3 483.1L353.9 483.1L354.4 483.4L354.8 483.7L355.1 484.1L355.3 484.6L355.3 485.2L355.1 485.9L354.8 486.2L354.3 486.6L353.8 486.9Z" fill="#000" fill-opacity="0.14" stroke="#111" stroke-width="0.6" stroke-linejoin="round"/>
<path d="M353.1 487.9L352.3 488.0L351.6 487.9L351.1 487.9L350.3 487.7L349.8 487.6L349.1 487.5L348.6 487.3L347.8 487.1L347.5 486.9L347.7 486.4L348.0 485.9L348.3 485.6L348.6 485.1L349.0 484.6L349.3 484.3L349.7 483.9L350.1 483.5L350.5 483.1L350.9 482.9L351.3 482.6L351.8 482.4L352.6 482.2L353.1 482.1L353.6 482.2L354.3 482.3L354.8 482.5L355.3 482.8L355.6 483.1L356.0 483.6L356.2 484.1L356.3 484.6L356.3 485.2L356.1 485.9L355.8 486.4L355.6 486.8L355.1 487.1L354.7 487.4L354.2 487.6L353.6 487.8L353.1 487.9Z" fill="#000" fill-opacity="0.14" stroke="#111" stroke-width="0.6" stroke-linejoin="round"/>
<path d="M345.1 489.7L344.4 489.6L343.8 489.5L343.3 489.3L342.9 488.9L342.7 488.4L342.8 487.9L343.1 487.4L343.5 486.9L343.8 486.6L344.3 486.3L344.8 486.0L345.3 485.7L345.8 485.5L346.3 485.2L346.8 484.9L347.3 484.6L347.6 484.4L348.1 484.1L348.6 483.7L348.8 483.4L349.3 483.0L349.8 482.6L350.1 482.4L350.6 482.1L351.1 481.9L351.6 481.6L352.3 481.4L352.8 481.4L353.6 481.4L354.1 481.4L354.8 481.6L355.3 481.9L355.7 482.1L356.1 482.4L356.5 482.9L356.8 483.4L357.0 483.9L357.1 484.4L357.1 485.1L357.0 485.6L356.8 486.3L356.6 486.7L356.2 487.1L355.8 487.6L355.4 487.9L354.9 488.1L354.3 488.4L353.8 488.5L353.2 488.6L352.6 488.7L351.8 488.7L351.1 488.7L350.3 488.7L349.6 488.7L348.8 488.8L348.1 488.9L347.6 489.0L347.1 489.2L346.4 489.4L345.8 489.5L345.2 489.6Z" fill="#000" fill-opacity="0.14" stroke="#111" stroke-width="0.6" stroke-linejoin="round"/>
<path d="M345.3 490.7L344.6 490.7L343.8 490.7L343.3 490.6L342.6 490.4L342.2 490.1L341.8 489.9L341.4 489.4L341.2 488.9L341.2 488.1L341.4 487.6L341.7 487.1L342.1 486.7L342.4 486.4L342.8 486.0L343.3 485.7L343.7 485.4L344.2 485.1L344.7 484.9L345.2 484.6L345.7 484.4L346.1 484.1L346.6 483.9L347.1 483.6L347.6 483.3L348.0 482.9L348.4 482.6L348.8 482.3L349.3 481.9L349.7 481.6L350.2 481.4L350.7 481.1L351.3 480.9L351.8 480.8L352.4 480.6L353.1 480.6L353.8 480.6L354.3 480.7L354.9 480.9L355.5 481.1L356.0 481.4L356.3 481.6L356.8 482.1L357.1 482.4L357.4 482.9L357.7 483.4L357.8 483.9L357.9 484.6L357.9 485.4L357.8 485.9L357.6 486.5L357.3 487.0L357.0 487.4L356.6 487.9L356.2 488.1L355.8 488.5L355.3 488.7L354.8 489.0L354.2 489.1L353.6 489.3L352.9 489.4L352.3 489.4L351.6 489.5L350.8 489.5L350.1 489.5L349.3 489.6L348.8 489.7L348.1 489.9L347.6 490.0L347.1 490.2L346.4 490.4L345.8 490.6L345.3 490.7Z" fill="#000" fill-opacity="0.14" stroke="#111" stroke-width="0.6" stroke-linejoin="round"/>
<path d="M345.8 491.4L345.1 491.5L344.3 491.6L343.6 491.6L342.8 491.5L342.3 491.4L341.7 491.1L341.2 490.9L340.8 490.6L340.3 490.2L340.1 489.9L339.8 489.4L339.7 488.6L339.8 488.1L340.1 487.6L340.3 487.1L340.7 486.6L341.1 486.3L341.5 485.9L341.8 485.6L342.3 485.3L342.8 484.9L343.3 484.6L343.7 484.4L344.2 484.1L344.7 483.9L345.1 483.6L345.6 483.4L346.1 483.1L346.6 482.8L347.1 482.5L347.5 482.1L347.8 481.9L348.3 481.5L348.8 481.2L349.3 480.9L349.7 480.6L350.2 480.4L350.8 480.2L351.3 480.0L352.1 479.9L352.6 479.9L353.3 479.9L353.8 479.9L354.6 480.0L355.1 480.2L355.7 480.4L356.2 480.6L356.6 480.9L357.1 481.3L357.5 481.6L357.8 482.1L358.1 482.4L358.3 482.9L358.6 483.6L358.7 484.1L358.7 484.9L358.6 485.6L358.5 486.1L358.3 486.7L358.1 487.2L357.7 487.6L357.3 488.1L357.1 488.4L356.6 488.8L356.1 489.1L355.6 489.4L355.1 489.6L354.6 489.8L354.1 489.9L353.3 490.1L352.6 490.1L352.1 490.2L351.3 490.2L350.6 490.3L349.8 490.4L349.3 490.4L348.6 490.6L348.1 490.8L347.6 490.9L346.8 491.1L346.3 491.3L345.8 491.4Z" fill="#000" fill-opacity="0.14" stroke="#111" stroke-width="0.6" stroke-linejoin="round"/>
<path d="M344.8 492.4L344.1 492.5L343.3 492.4L342.8 492.4L342.1 492.3L341.6 492.1L340.8 491.9L340.3 491.7L339.8 491.4L339.4 491.1L339.1 490.9L338.6 490.4L338.3 489.9L338.2 489.4L338.2 488.6L338.3 488.1L338.6 487.6L338.9 487.1L339.3 486.6L339.6 486.4L340.0 485.9L340.3 485.6L340.8 485.3L341.3 484.9L341.7 484.6L342.1 484.4L342.6 484.1L343.1 483.8L343.6 483.5L344.1 483.2L344.5 482.9L345.0 482.6L345.3 482.4L345.8 482.1L346.3 481.7L346.7 481.4L347.1 481.1L347.6 480.8L348.1 480.4L348.5 480.1L348.9 479.9L349.4 479.6L350.1 479.4L350.6 479.3L351.2 479.1L351.8 479.1L352.6 479.0L353.3 479.0L354.1 479.1L354.6 479.2L355.2 479.4L355.8 479.6L356.3 479.8L356.8 480.1L357.2 480.4L357.6 480.6L358.1 481.1L358.3 481.4L358.7 481.9L359.0 482.4L359.2 482.9L359.3 483.4L359.5 484.1L359.5 484.9L359.4 485.6L359.3 486.2L359.1 486.9L358.8 487.4L358.6 487.8L358.3 488.2L357.9 488.6L357.6 489.0L357.1 489.4L356.7 489.6L356.2 489.9L355.7 490.1L355.1 490.4L354.6 490.6L354.1 490.7L353.3 490.8L352.6 490.9L352.1 490.9L351.3 491.0L350.6 491.1L350.0 491.1L349.3 491.3L348.8 491.4L348.1 491.6L347.6 491.8L347.1 491.9L346.3 492.1L345.8 492.3L345.1 492.4Z" fill="#000" fill-opacity="0.14" stroke="#111" stroke-width="0.6" stroke-linejoin="round"/>
<path d="M345.6 493.2L344.8 493.3L344.1 493.4L343.3 493.4L342.6 493.3L341.8 493.2L341.3 493.1L340.6 492.9L340.1 492.8L339.6 492.6L339.0 492.4L338.5 492.1L338.0 491.9L337.6 491.6L337.1 491.2L336.8 490.9L336.5 490.4L336.3 489.9L336.2 489.1L336.3 488.6L336.6 488.1L336.8 487.6L337.2 487.1L337.6 486.7L337.8 486.4L338.3 486.0L338.7 485.6L339.1 485.3L339.6 485.0L340.0 484.6L340.3 484.4L340.8 484.1L341.3 483.7L341.8 483.4L342.2 483.1L342.6 482.9L343.1 482.6L343.6 482.2L344.0 481.9L344.3 481.6L344.8 481.3L345.2 480.9L345.6 480.6L346.0 480.1L346.3 479.9L346.8 479.5L347.3 479.2L347.8 478.9L348.3 478.7L348.8 478.5L349.3 478.4L350.1 478.2L350.7 478.1L351.3 478.1L352.1 478.1L352.8 478.1L353.5 478.1L354.1 478.2L354.8 478.4L355.3 478.5L355.8 478.7L356.4 478.9L356.9 479.1L357.3 479.4L357.8 479.7L358.3 480.1L358.6 480.4L359.1 480.9L359.3 481.2L359.6 481.6L359.9 482.1L360.1 482.6L360.3 483.4L360.4 483.9L360.4 484.6L360.4 485.4L360.3 486.0L360.1 486.6L359.9 487.1L359.7 487.6L359.4 488.1L359.1 488.6L358.8 488.9L358.4 489.4L358.1 489.7L357.6 490.1L357.1 490.4L356.6 490.6L356.1 490.9L355.6 491.1L355.1 491.3L354.6 491.4L353.8 491.6L353.3 491.6L352.6 491.7L351.8 491.8L351.1 491.9L350.6 492.0L349.8 492.1L349.3 492.2L348.6 492.4L348.1 492.5L347.6 492.7L346.8 492.9L346.3 493.0L345.8 493.1Z" fill="#000" fill-opacity="0.14" stroke="#111" stroke-width="0.6" stroke-linejoin="round"/>
<path d="M344.3 494.2L343.6 494.2L342.8 494.2L342.3 494.1L341.6 494.1L340.8 494.0L340.3 493.9L339.6 493.7L339.1 493.5L338.6 493.4L337.9 493.1L337.3 492.9L336.8 492.7L336.3 492.4L335.8 492.1L335.4 491.9L335.1 491.6L334.7 491.1L334.4 490.6L334.2 490.1L334.2 489.4L334.3 488.9L334.6 488.3L334.8 487.9L335.2 487.4L335.6 487.0L335.9 486.6L336.3 486.3L336.7 485.9L337.1 485.6L337.6 485.2L338.0 484.9L338.3 484.6L338.8 484.3L339.3 484.0L339.8 483.6L340.2 483.4L340.6 483.1L341.1 482.8L341.6 482.4L341.9 482.1L342.3 481.8L342.8 481.4L343.1 481.1L343.5 480.6L343.8 480.3L344.1 479.9L344.5 479.4L344.8 479.0L345.1 478.6L345.6 478.3L346.1 477.9L346.6 477.7L347.1 477.5L347.6 477.4L348.3 477.3L349.1 477.2L349.6 477.1L350.3 477.1L351.1 477.1L351.8 477.1L352.3 477.2L353.1 477.2L353.8 477.3L354.3 477.4L355.1 477.6L355.6 477.7L356.1 477.9L356.8 478.1L357.3 478.4L357.7 478.6L358.1 478.9L358.6 479.2L359.1 479.6L359.3 479.9L359.8 480.4L360.1 480.8L360.3 481.1L360.6 481.6L360.8 482.1L361.1 482.8L361.2 483.4L361.3 484.1L361.3 484.6L361.3 485.1L361.2 485.9L361.1 486.5L360.8 487.1L360.6 487.6L360.4 488.1L360.1 488.6L359.8 489.0L359.5 489.4L359.1 489.9L358.7 490.1L358.3 490.5L357.8 490.9L357.4 491.1L356.9 491.4L356.4 491.6L355.8 491.9L355.3 492.0L354.8 492.2L354.1 492.3L353.6 492.4L352.8 492.5L352.1 492.6L351.5 492.6L350.8 492.7L350.1 492.9L349.6 493.0L348.9 493.1L348.3 493.3L347.8 493.5L347.1 493.6L346.6 493.8L346.1 493.9L345.3 494.1L344.6 494.1Z" fill="#000" fill-opacity="0" stroke="#111" stroke-width="0.6" stroke-linejoin="round"/>
<path d="M345.3 494.9L344.6 495.0L343.8 495.1L343.1 495.1L342.3 495.1L341.6 495.0L340.8 494.9L340.3 494.9L339.6 494.7L339.1 494.6L338.3 494.5L337.8 494.3L337.1 494.1L336.6 494.0L336.1 493.8L335.5 493.6L334.9 493.4L334.3 493.1L333.8 492.9L333.4 492.6L333.1 492.4L332.6 491.9L332.3 491.6L332.0 491.1L331.8 490.6L331.8 489.9L331.8 489.4L332.1 488.8L332.3 488.4L332.6 487.9L333.0 487.4L333.3 487.1L333.8 486.7L334.1 486.4L334.6 486.0L335.0 485.6L335.4 485.4L335.8 485.1L336.3 484.8L336.8 484.4L337.2 484.1L337.6 483.9L338.1 483.6L338.6 483.3L339.1 482.9L339.4 482.6L339.8 482.4L340.3 482.0L340.7 481.6L341.1 481.3L341.4 480.9L341.8 480.4L342.1 480.0L342.3 479.5L342.6 478.9L342.8 478.4L343.1 478.0L343.3 477.6L343.8 477.2L344.1 476.9L344.6 476.6L345.1 476.4L345.8 476.2L346.3 476.1L347.1 476.0L347.8 475.9L348.6 475.9L349.3 475.9L350.1 476.0L350.8 476.0L351.6 476.1L352.2 476.1L352.8 476.2L353.6 476.3L354.1 476.4L354.8 476.6L355.3 476.7L356.0 476.9L356.6 477.1L357.1 477.3L357.6 477.5L358.1 477.8L358.6 478.1L359.0 478.4L359.3 478.6L359.8 479.0L360.2 479.4L360.6 479.9L360.8 480.2L361.1 480.6L361.4 481.1L361.6 481.6L361.8 482.1L362.1 482.9L362.2 483.4L362.2 484.1L362.3 484.9L362.2 485.6L362.1 486.4L361.9 486.9L361.7 487.4L361.5 487.9L361.3 488.4L361.0 488.9L360.6 489.4L360.3 489.8L360.0 490.1L359.6 490.6L359.2 490.9L358.8 491.3L358.3 491.6L357.8 491.9L357.4 492.1L356.8 492.4L356.3 492.6L355.8 492.8L355.3 492.9L354.6 493.1L354.1 493.2L353.3 493.3L352.7 493.4L352.1 493.5L351.3 493.6L350.8 493.6L350.1 493.8L349.5 493.9L348.8 494.1L348.3 494.2L347.6 494.4L347.1 494.6L346.6 494.7L345.8 494.8L345.3 494.9Z" fill="#000" fill-opacity="0" stroke="#111" stroke-width="0.6" stroke-linejoin="round"/>
<path d="M345.6 495.9L344.8 496.0L344.1 496.1L343.3 496.1L342.6 496.1L341.8 496.1L341.1 496.0L340.3 496.0L339.7 495.9L339.1 495.8L338.3 495.7L337.8 495.6L337.1 495.5L336.6 495.4L335.8 495.2L335.3 495.1L334.6 494.9L334.1 494.8L333.5 494.6L332.8 494.4L332.3 494.2L331.8 494.0L331.3 493.7L330.8 493.4L330.5 493.1L330.1 492.8L329.7 492.4L329.4 491.9L329.2 491.4L329.1 490.6L329.1 489.9L329.3 489.2L329.5 488.6L329.8 488.2L330.1 487.9L330.4 487.4L330.8 487.0L331.2 486.6L331.6 486.4L332.1 486.0L332.5 485.6L332.9 485.4L333.3 485.1L333.8 484.8L334.3 484.5L334.8 484.2L335.3 483.9L335.7 483.6L336.1 483.4L336.6 483.1L337.1 482.8L337.6 482.5L338.0 482.1L338.3 481.9L338.8 481.5L339.2 481.1L339.6 480.7L339.8 480.3L340.1 479.9L340.3 479.3L340.5 478.6L340.7 478.1L340.9 477.6L341.2 477.1L341.6 476.7L341.8 476.4L342.3 476.0L342.8 475.6L343.2 475.4L343.8 475.1L344.3 475.0L344.8 474.8L345.6 474.7L346.1 474.6L346.8 474.6L347.6 474.6L348.3 474.6L349.1 474.6L349.6 474.7L350.3 474.7L351.1 474.8L351.6 474.9L352.3 475.0L353.1 475.1L353.6 475.2L354.3 475.3L354.8 475.5L355.6 475.6L356.1 475.8L356.6 475.9L357.1 476.1L357.7 476.4L358.3 476.6L358.7 476.9L359.1 477.1L359.6 477.4L360.1 477.8L360.5 478.1L360.8 478.5L361.2 478.9L361.6 479.3L361.8 479.6L362.1 480.1L362.4 480.6L362.7 481.1L362.9 481.6L363.1 482.2L363.2 482.9L363.3 483.4L363.4 484.1L363.4 484.9L363.3 485.6L363.2 486.1L363.1 486.9L362.9 487.4L362.7 487.9L362.5 488.4L362.3 488.9L362.0 489.4L361.6 489.9L361.3 490.3L361.0 490.6L360.6 491.1L360.3 491.4L359.8 491.8L359.4 492.1L359.0 492.4L358.6 492.7L358.1 493.0L357.6 493.2L357.1 493.4L356.5 493.6L355.8 493.9L355.3 494.0L354.7 494.1L354.1 494.3L353.3 494.4L352.8 494.4L352.1 494.5L351.3 494.6L350.8 494.7L350.1 494.8L349.6 495.0L348.8 495.1L348.3 495.3L347.8 495.4L347.1 495.6L346.6 495.7L345.8 495.9Z" fill="#000" fill-opacity="0" stroke="#111" stroke-width="0.6" stroke-linejoin="round"/>
<path d="M343.3 497.2L342.6 497.2L341.8 497.2L341.3 497.1L340.6 497.1L339.8 497.0L339.1 497.0L338.3 496.9L337.8 496.8L337.1 496.8L336.3 496.7L335.8 496.6L335.1 496.5L334.6 496.4L333.8 496.2L333.3 496.1L332.6 496.0L332.1 495.9L331.4 495.6L330.8 495.5L330.3 495.3L329.8 495.0L329.3 494.7L328.8 494.4L328.5 494.1L328.1 493.7L327.8 493.4L327.5 492.9L327.2 492.4L327.1 491.9L326.9 491.1L326.9 490.4L327.0 489.6L327.1 489.1L327.3 488.6L327.6 488.1L327.9 487.6L328.2 487.1L328.6 486.8L329.0 486.4L329.3 486.1L329.8 485.7L330.2 485.4L330.6 485.1L331.1 484.8L331.6 484.5L332.1 484.2L332.6 483.9L333.1 483.7L333.5 483.4L334.0 483.1L334.4 482.9L334.9 482.6L335.3 482.4L335.8 482.1L336.3 481.8L336.8 481.4L337.1 481.1L337.6 480.7L337.8 480.4L338.1 479.9L338.4 479.4L338.6 478.9L338.8 478.1L339.0 477.6L339.2 477.1L339.5 476.6L339.8 476.1L340.1 475.8L340.5 475.4L340.8 475.1L341.3 474.8L341.8 474.5L342.3 474.2L342.8 474.0L343.3 473.9L344.1 473.7L344.6 473.6L345.3 473.4L345.8 473.4L346.6 473.4L347.3 473.3L348.1 473.4L348.6 473.4L349.3 473.5L350.1 473.5L350.8 473.6L351.3 473.7L352.1 473.8L352.6 473.9L353.3 474.0L353.9 474.1L354.6 474.3L355.1 474.4L355.8 474.6L356.3 474.7L356.9 474.9L357.6 475.1L358.1 475.3L358.6 475.6L359.1 475.8L359.6 476.1L360.0 476.4L360.4 476.6L360.8 477.0L361.3 477.4L361.6 477.6L362.1 478.1L362.3 478.4L362.7 478.9L363.0 479.4L363.3 479.8L363.6 480.3L363.8 480.8L364.0 481.4L364.2 481.9L364.3 482.4L364.5 483.1L364.5 483.9L364.6 484.4L364.5 484.9L364.5 485.6L364.4 486.4L364.3 486.9L364.1 487.6L363.9 488.1L363.6 488.6L363.4 489.1L363.1 489.6L362.8 490.1L362.6 490.5L362.3 490.9L361.8 491.4L361.6 491.7L361.1 492.1L360.8 492.4L360.3 492.8L359.8 493.1L359.5 493.4L359.0 493.6L358.6 493.9L358.1 494.2L357.5 494.4L356.9 494.6L356.3 494.8L355.8 495.0L355.1 495.1L354.6 495.3L353.8 495.4L353.3 495.4L352.6 495.5L351.8 495.6L351.3 495.7L350.6 495.8L350.1 495.9L349.3 496.1L348.8 496.2L348.1 496.4L347.6 496.5L347.1 496.7L346.3 496.8L345.8 496.9L345.1 497.0L344.3 497.1L343.6 497.1Z" fill="#000" fill-opacity="0" stroke="#111" stroke-width="0.6" stroke-linejoin="round"/>
<path d="M344.6 498.2L343.8 498.2L343.1 498.3L342.3 498.3L341.6 498.3L340.8 498.2L340.1 498.2L339.3 498.2L338.8 498.1L338.1 498.1L337.3 498.0L336.6 498.0L335.9 497.9L335.3 497.8L334.6 497.8L333.8 497.7L333.3 497.6L332.6 497.5L332.0 497.4L331.3 497.3L330.8 497.1L330.1 496.9L329.6 496.8L329.1 496.5L328.6 496.3L328.1 496.0L327.6 495.7L327.2 495.4L326.8 495.1L326.4 494.6L326.1 494.1L325.8 493.7L325.6 493.2L325.3 492.6L325.2 492.1L325.1 491.4L325.0 490.9L325.1 490.2L325.1 489.6L325.3 488.9L325.5 488.4L325.7 487.9L326.0 487.4L326.3 486.9L326.6 486.5L326.9 486.1L327.3 485.7L327.6 485.4L328.1 485.1L328.6 484.7L328.9 484.4L329.3 484.1L329.8 483.9L330.3 483.6L330.8 483.3L331.3 483.0L331.8 482.8L332.3 482.5L332.8 482.3L333.3 482.0L333.8 481.7L334.3 481.4L334.8 481.1L335.1 480.9L335.6 480.5L335.9 480.1L336.3 479.7L336.6 479.2L336.8 478.6L337.0 478.1L337.1 477.6L337.3 477.1L337.6 476.6L337.8 476.1L338.2 475.6L338.6 475.2L338.8 474.9L339.3 474.5L339.7 474.1L340.1 473.9L340.6 473.6L341.1 473.4L341.6 473.1L342.2 472.9L342.8 472.7L343.3 472.6L344.1 472.4L344.6 472.3L345.3 472.3L346.1 472.2L346.8 472.2L347.6 472.2L348.3 472.2L349.1 472.3L349.8 472.4L350.3 472.4L351.1 472.5L351.8 472.6L352.3 472.7L353.1 472.8L353.6 472.9L354.3 473.1L354.8 473.2L355.6 473.3L356.1 473.4L356.8 473.6L357.3 473.8L357.8 474.0L358.3 474.2L358.8 474.4L359.4 474.6L359.8 474.9L360.3 475.2L360.8 475.5L361.3 475.8L361.7 476.1L362.1 476.4L362.6 476.9L362.8 477.1L363.3 477.6L363.6 478.0L363.8 478.4L364.2 478.9L364.5 479.4L364.7 479.9L365.0 480.4L365.2 480.9L365.3 481.4L365.5 482.1L365.6 482.6L365.7 483.4L365.8 484.1L365.8 484.9L365.7 485.6L365.6 486.4L365.5 486.9L365.3 487.6L365.1 488.1L365.0 488.6L364.7 489.1L364.5 489.6L364.2 490.1L363.9 490.6L363.6 491.1L363.3 491.5L362.9 491.9L362.6 492.3L362.2 492.6L361.8 493.1L361.4 493.4L361.1 493.7L360.6 494.0L360.1 494.4L359.6 494.6L359.1 494.9L358.6 495.1L358.1 495.4L357.6 495.6L357.1 495.8L356.6 495.9L355.8 496.1L355.3 496.3L354.6 496.4L354.1 496.5L353.3 496.6L352.7 496.6L352.1 496.7L351.3 496.8L350.8 496.9L350.1 497.1L349.6 497.2L348.8 497.3L348.3 497.5L347.6 497.6L347.1 497.8L346.3 497.9L345.8 498.0L345.1 498.1L344.6 498.2Z" fill="#000" fill-opacity="0" stroke="#111" stroke-width="0.6" stroke-linejoin="round"/>
<path d="M344.8 499.2L344.1 499.2L343.3 499.3L342.6 499.3L341.8 499.3L341.1 499.3L340.3 499.3L339.6 499.3L338.8 499.3L338.1 499.2L337.3 499.2L336.8 499.1L336.1 499.1L335.3 499.1L334.6 499.0L333.8 498.9L333.3 498.9L332.6 498.8L331.8 498.7L331.3 498.6L330.6 498.5L330.1 498.4L329.3 498.2L328.8 498.0L328.3 497.8L327.8 497.6L327.3 497.3L326.8 497.0L326.3 496.7L326.0 496.4L325.6 496.0L325.2 495.6L324.9 495.1L324.6 494.7L324.3 494.2L324.1 493.7L323.9 493.1L323.7 492.6L323.6 491.9L323.5 491.4L323.5 490.6L323.6 490.1L323.6 489.4L323.8 488.7L324.0 488.1L324.2 487.6L324.4 487.1L324.7 486.6L325.0 486.1L325.3 485.8L325.6 485.4L326.1 484.9L326.3 484.6L326.8 484.3L327.3 483.9L327.6 483.6L328.1 483.4L328.6 483.0L329.1 482.8L329.6 482.5L330.1 482.2L330.6 482.0L331.1 481.7L331.6 481.5L332.1 481.2L332.6 481.0L333.1 480.7L333.5 480.4L333.8 480.1L334.3 479.7L334.6 479.4L334.9 478.9L335.2 478.4L335.4 477.9L335.6 477.4L335.8 476.9L336.1 476.4L336.3 475.9L336.6 475.4L337.0 474.9L337.3 474.6L337.7 474.1L338.1 473.8L338.6 473.5L339.0 473.1L339.4 472.9L339.9 472.6L340.4 472.4L341.0 472.1L341.6 471.9L342.1 471.8L342.6 471.6L343.3 471.5L343.8 471.4L344.6 471.3L345.3 471.2L346.1 471.2L346.8 471.2L347.6 471.2L348.3 471.2L349.1 471.2L349.8 471.3L350.5 471.4L351.1 471.5L351.8 471.6L352.4 471.6L353.1 471.8L353.8 471.9L354.3 472.0L355.1 472.1L355.6 472.2L356.3 472.4L356.8 472.5L357.3 472.7L358.0 472.9L358.6 473.1L359.1 473.3L359.6 473.5L360.1 473.7L360.6 474.0L361.1 474.3L361.6 474.6L362.0 474.9L362.3 475.1L362.8 475.5L363.2 475.9L363.6 476.2L363.9 476.6L364.3 477.1L364.6 477.4L364.9 477.9L365.3 478.4L365.5 478.9L365.8 479.4L366.0 479.9L366.2 480.4L366.4 480.9L366.6 481.4L366.7 482.1L366.8 482.6L366.9 483.4L367.0 484.1L367.0 484.9L366.9 485.6L366.8 486.4L366.7 486.9L366.6 487.5L366.4 488.1L366.2 488.6L366.0 489.1L365.8 489.6L365.5 490.1L365.2 490.6L364.9 491.1L364.6 491.6L364.3 492.0L364.0 492.4L363.6 492.9L363.3 493.2L362.8 493.6L362.5 493.9L362.1 494.3L361.6 494.6L361.2 494.9L360.8 495.2L360.3 495.5L359.8 495.8L359.3 496.0L358.8 496.3L358.3 496.5L357.8 496.7L357.1 496.9L356.6 497.1L356.1 497.2L355.3 497.4L354.8 497.4L354.1 497.6L353.4 497.6L352.8 497.7L352.1 497.8L351.4 497.9L350.8 498.0L350.1 498.1L349.6 498.2L348.8 498.4L348.3 498.5L347.7 498.6L347.1 498.8L346.5 498.9L345.8 499.0L345.1 499.1Z" fill="#000" fill-opacity="0" stroke="#111" stroke-width="0.6" stroke-linejoin="round"/>
<path d="M316.8 495.9L316.1 495.9L315.7 495.6L315.3 495.2L315.1 494.7L314.8 494.1L314.8 493.6L314.7 492.9L314.8 492.1L314.9 491.6L315.1 491.1L315.4 490.6L315.8 490.3L316.3 490.0L317.1 490.1L317.4 490.4L317.8 490.9L318.0 491.4L318.2 491.9L318.3 492.6L318.3 493.1L318.3 493.6L318.1 494.4L317.9 494.9L317.6 495.4L317.3 495.7L316.8 495.9Z" fill="#000" fill-opacity="0" stroke="#111" stroke-width="0.6" stroke-linejoin="round"/>
</g>
<rect x="64.4" y="174.4" width="77.79999999999998" height="78.0" fill="none" stroke="#222" stroke-width="1"/>
<rect x="191.8" y="172.6" width="77.19999999999999" height="77.70000000000002" fill="none" stroke="#222" stroke-width="1"/>
<rect x="317.0" y="173.8" width="77.0" height="77.69999999999999" fill="none" stroke="#222" stroke-width="1"/>
<rect x="64.2" y="301.8" width="77.99999999999999" height="77.59999999999997" fill="none" stroke="#222" stroke-width="1"/>
<rect x="191.5" y="302.3" width="77.30000000000001" height="77.19999999999999" fill="none" stroke="#222" stroke-width="1"/>
<rect x="317.1" y="302.5" width="77.5" height="77.19999999999999" fill="none" stroke="#222" stroke-width="1"/>
<rect x="64.5" y="430.2" width="77.5" height="77.30000000000001" fill="none" stroke="#222" stroke-width="1"/>
<rect x="191.8" y="430.2" width="77.5" height="76.90000000000003" fill="none" stroke="#222" stroke-width="1"/>
<rect x="316.8" y="430.4" width="77.59999999999997" height="77.0" fill="none" stroke="#222" stroke-width="1"/>
<rect x="108.5" y="228.2" width="31.400000000000006" height="24.200000000000017" fill="none" stroke="#6a6ad8" stroke-width="0.9"/>
<rect x="191.8" y="232.4" width="18.69999999999999" height="17.900000000000006" fill="none" stroke="#6a6ad8" stroke-width="0.9"/>
<rect x="345.4" y="200.4" width="38.200000000000045" height="26.900000000000006" fill="none" stroke="#6a6ad8" stroke-width="0.9"/>
<rect x="108.4" y="355.3" width="31.599999999999994" height="24.099999999999966" fill="none" stroke="#6a6ad8" stroke-width="0.9"/>
<rect x="191.5" y="360.6" width="19.19999999999999" height="18.899999999999977" fill="none" stroke="#6a6ad8" stroke-width="0.9"/>
<rect x="345.3" y="328.8" width="38.30000000000001" height="27.0" fill="none" stroke="#6a6ad8" stroke-width="0.9"/>
<rect x="109.0" y="483.2" width="30.80000000000001" height="24.30000000000001" fill="none" stroke="#6a6ad8" stroke-width="0.9"/>
<rect x="191.8" y="489.1" width="19.0" height="18.0" fill="none" stroke="#6a6ad8" stroke-width="0.9"/>
<rect x="345.2" y="457.3" width="38.5" height="27.099999999999966" fill="none" stroke="#6a6ad8" stroke-width="0.9"/>
<path d="M123.2 203.3L123.2 228.2" fill="none" stroke="#2a2ad0" stroke-width="1.5" stroke-dasharray="5.6 3.1"/>
<path d="M123.2 203.3L160 203.3" fill="none" stroke="#2a2ad0" stroke-width="1.5" stroke-dasharray="5.6 3.1"/>
<circle cx="140.3" cy="203.3" r="1.4" fill="#fff" stroke="#666" stroke-width="0.6"/>
<path d="M157.9 199.0L169.9 203.3L157.9 207.60000000000002L160.9 203.3Z" fill="#1a1ae0"/>
<path d="M202.0 203.2L202.0 232.4" fill="none" stroke="#2a2ad0" stroke-width="1.5" stroke-dasharray="5.6 3.1"/>
<path d="M202.0 203.2L283 203.2" fill="none" stroke="#2a2ad0" stroke-width="1.5" stroke-dasharray="5.6 3.1"/>
<path d="M280.4 198.89999999999998L292.4 203.2L280.4 207.5L283.4 203.2Z" fill="#1a1ae0"/>
<path d="M123.1 330.8L123.1 355.3" fill="none" stroke="#2a2ad0" stroke-width="1.5" stroke-dasharray="5.6 3.1"/>
<path d="M123.1 330.8L160 330.8" fill="none" stroke="#2a2ad0" stroke-width="1.5" stroke-dasharray="5.6 3.1"/>
<path d="M158.1 326.4L170.1 330.7L158.1 335.0L161.1 330.7Z" fill="#1a1ae0"/>
<path d="M202.1 330.8L202.1 360.6" fill="none" stroke="#2a2ad0" stroke-width="1.5" stroke-dasharray="5.6 3.1"/>
<path d="M202.1 330.8L283 330.8" fill="none" stroke="#2a2ad0" stroke-width="1.5" stroke-dasharray="5.6 3.1"/>
<path d="M280.2 326.2L292.2 330.5L280.2 334.8L283.2 330.5Z" fill="#1a1ae0"/>
<path d="M123.2 458.8L123.2 483.2" fill="none" stroke="#2a2ad0" stroke-width="1.5" stroke-dasharray="5.6 3.1"/>
<path d="M123.2 458.8L160 458.8" fill="none" stroke="#2a2ad0" stroke-width="1.5" stroke-dasharray="5.6 3.1"/>
<path d="M157.9 454.5L169.9 458.8L157.9 463.1L160.9 458.8Z" fill="#1a1ae0"/>
<path d="M201.6 458.8L201.6 470" fill="none" stroke="#2a2ad0" stroke-width="1.5" stroke-dasharray="5.6 3.1"/>
<path d="M201.6 458.8L283 458.8" fill="none" stroke="#2a2ad0" stroke-width="1.5" stroke-dasharray="5.6 3.1"/>
<path d="M280.5 454.5L292.5 458.8L280.5 463.1L283.5 458.8Z" fill="#1a1ae0"/>
<line x1="345.3" y1="484.4" x2="362.5" y2="484.4" stroke="#2424c8" stroke-width="1.6" />
<line x1="345.3" y1="355.8" x2="361.5" y2="355.8" stroke="#2424c8" stroke-width="1.3" />
<line x1="123.1" y1="333.5" x2="123.1" y2="355.3" stroke="#2424c8" stroke-width="1.9" />
<line x1="123.2" y1="465.5" x2="123.2" y2="483.2" stroke="#2424c8" stroke-width="1.9" />
<text x="115.3" y="377.2" font-size="8.2" text-anchor="start" fill="#231f20" font-weight="normal" >3.64%</text>
<text x="216.7" y="372.6" font-size="8.2" text-anchor="start" fill="#231f20" font-weight="normal" >3.2%</text>
<text x="359.0" y="341.5" font-size="8.2" text-anchor="start" fill="#231f20" font-weight="normal" >0.58%</text>
<text x="115.4" y="506.3" font-size="8.2" text-anchor="start" fill="#231f20" font-weight="normal" >24.3%</text>
<text x="212.2" y="500.0" font-size="8.2" text-anchor="start" fill="#231f20" font-weight="normal" >14.3%</text>
<text x="358.0" y="468.7" font-size="8.2" text-anchor="start" fill="#231f20" font-weight="normal" >3.02%</text>
</svg></body></html>
